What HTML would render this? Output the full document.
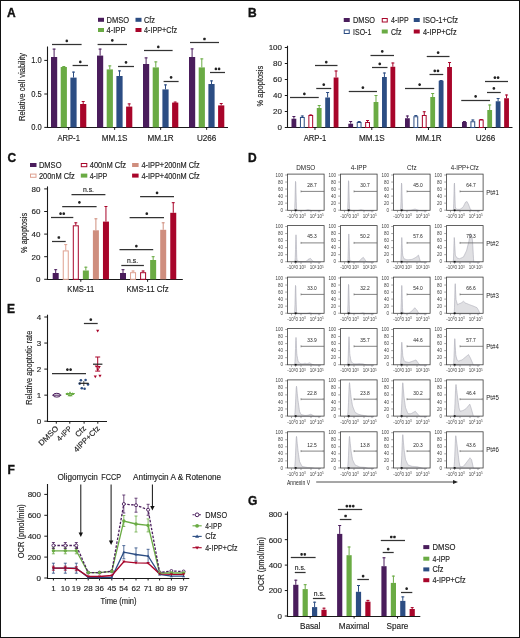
<!DOCTYPE html><html><head><meta charset="utf-8"><style>html,body{margin:0;padding:0;background:#fff;}svg{display:block;font-family:"Liberation Sans",sans-serif;will-change:transform;}</style></head><body>
<svg width="520" height="638" viewBox="0 0 520 638">
<rect x="0" y="0" width="520" height="638" fill="#fff"/>
<rect x="0.5" y="0.5" width="519" height="637" fill="none" stroke="#111" stroke-width="1"/>
<text x="7" y="16.6" font-size="12" font-weight="bold" fill="#111" stroke="#111" stroke-width="0.35">A</text>
<text x="248" y="17.0" font-size="12" font-weight="bold" fill="#111" stroke="#111" stroke-width="0.35">B</text>
<text x="7.5" y="162.2" font-size="12" font-weight="bold" fill="#111" stroke="#111" stroke-width="0.35">C</text>
<text x="248" y="162.2" font-size="12" font-weight="bold" fill="#111" stroke="#111" stroke-width="0.35">D</text>
<text x="7" y="313" font-size="12" font-weight="bold" fill="#111" stroke="#111" stroke-width="0.35">E</text>
<text x="7.4" y="474" font-size="12" font-weight="bold" fill="#111" stroke="#111" stroke-width="0.35">F</text>
<text x="248" y="505" font-size="12" font-weight="bold" fill="#111" stroke="#111" stroke-width="0.35">G</text>
<line x1="47.5" y1="46.5" x2="47.5" y2="128" stroke="#1a1a1a" stroke-width="1.1" />
<line x1="47" y1="127.5" x2="228" y2="127.5" stroke="#1a1a1a" stroke-width="1.1" />
<line x1="44.3" y1="60.4" x2="47.3" y2="60.4" stroke="#1a1a1a" stroke-width="1" />
<text x="41.8" y="63.47" font-size="8.3" text-anchor="end" fill="#222" font-weight="normal" textLength="10.5" lengthAdjust="spacingAndGlyphs" stroke="#222" stroke-width="0.14" >1.0</text>
<line x1="44.3" y1="94" x2="47.3" y2="94" stroke="#1a1a1a" stroke-width="1" />
<text x="41.8" y="97.07" font-size="8.3" text-anchor="end" fill="#222" font-weight="normal" textLength="10.5" lengthAdjust="spacingAndGlyphs" stroke="#222" stroke-width="0.14" >0.5</text>
<line x1="44.3" y1="127.4" x2="47.3" y2="127.4" stroke="#1a1a1a" stroke-width="1" />
<text x="41.8" y="130.47" font-size="8.3" text-anchor="end" fill="#222" font-weight="normal" textLength="10.5" lengthAdjust="spacingAndGlyphs" stroke="#222" stroke-width="0.14" >0.0</text>
<text x="0" y="0" font-size="8.2" text-anchor="middle" fill="#222" stroke="#222" stroke-width="0.14" textLength="68" lengthAdjust="spacingAndGlyphs" transform="translate(25.0,86.9) rotate(-90)">Relative cell viability</text>
<line x1="54.1" y1="48.6" x2="54.1" y2="57" stroke="#4a1d5c" stroke-width="1" />
<line x1="52.6" y1="49.1" x2="55.6" y2="49.1" stroke="#4a1d5c" stroke-width="1" />
<rect x="51.0" y="57" width="6.2" height="70.4" fill="#4a1d5c"/>
<line x1="63.800000000000004" y1="66" x2="63.800000000000004" y2="67" stroke="#6aab44" stroke-width="1" />
<line x1="62.300000000000004" y1="66.5" x2="65.30000000000001" y2="66.5" stroke="#6aab44" stroke-width="1" />
<rect x="60.7" y="67" width="6.2" height="60.400000000000006" fill="#6aab44"/>
<line x1="73.5" y1="71.6" x2="73.5" y2="77.6" stroke="#2c4d83" stroke-width="1" />
<line x1="72.0" y1="72.1" x2="75.0" y2="72.1" stroke="#2c4d83" stroke-width="1" />
<rect x="70.4" y="77.6" width="6.2" height="49.80000000000001" fill="#2c4d83"/>
<line x1="83.19999999999999" y1="101" x2="83.19999999999999" y2="104" stroke="#a8052a" stroke-width="1" />
<line x1="81.69999999999999" y1="101.5" x2="84.69999999999999" y2="101.5" stroke="#a8052a" stroke-width="1" />
<rect x="80.1" y="104" width="6.2" height="23.400000000000006" fill="#a8052a"/>
<line x1="68.65" y1="127.4" x2="68.65" y2="129.9" stroke="#1a1a1a" stroke-width="1" />
<text x="68.65" y="140.51" font-size="8.4" text-anchor="middle" fill="#222" font-weight="normal" textLength="22.5" lengthAdjust="spacingAndGlyphs" stroke="#222" stroke-width="0.14" >ARP-1</text>
<line x1="100.1" y1="48.6" x2="100.1" y2="55.6" stroke="#4a1d5c" stroke-width="1" />
<line x1="98.6" y1="49.1" x2="101.6" y2="49.1" stroke="#4a1d5c" stroke-width="1" />
<rect x="97.0" y="55.6" width="6.2" height="71.80000000000001" fill="#4a1d5c"/>
<line x1="109.8" y1="65.4" x2="109.8" y2="69.4" stroke="#6aab44" stroke-width="1" />
<line x1="108.3" y1="65.9" x2="111.3" y2="65.9" stroke="#6aab44" stroke-width="1" />
<rect x="106.7" y="69.4" width="6.2" height="58.0" fill="#6aab44"/>
<line x1="119.5" y1="70.4" x2="119.5" y2="76" stroke="#2c4d83" stroke-width="1" />
<line x1="118.0" y1="70.9" x2="121.0" y2="70.9" stroke="#2c4d83" stroke-width="1" />
<rect x="116.4" y="76" width="6.2" height="51.400000000000006" fill="#2c4d83"/>
<line x1="129.2" y1="103.4" x2="129.2" y2="106.6" stroke="#a8052a" stroke-width="1" />
<line x1="127.69999999999999" y1="103.9" x2="130.7" y2="103.9" stroke="#a8052a" stroke-width="1" />
<rect x="126.1" y="106.6" width="6.2" height="20.80000000000001" fill="#a8052a"/>
<line x1="114.65" y1="127.4" x2="114.65" y2="129.9" stroke="#1a1a1a" stroke-width="1" />
<text x="114.65" y="140.51" font-size="8.4" text-anchor="middle" fill="#222" font-weight="normal" textLength="25.8" lengthAdjust="spacingAndGlyphs" stroke="#222" stroke-width="0.14" >MM.1S</text>
<line x1="146.1" y1="57.4" x2="146.1" y2="64" stroke="#4a1d5c" stroke-width="1" />
<line x1="144.6" y1="57.9" x2="147.6" y2="57.9" stroke="#4a1d5c" stroke-width="1" />
<rect x="143.0" y="64" width="6.2" height="63.400000000000006" fill="#4a1d5c"/>
<line x1="155.79999999999998" y1="61.4" x2="155.79999999999998" y2="67.4" stroke="#6aab44" stroke-width="1" />
<line x1="154.29999999999998" y1="61.9" x2="157.29999999999998" y2="61.9" stroke="#6aab44" stroke-width="1" />
<rect x="152.7" y="67.4" width="6.2" height="60.0" fill="#6aab44"/>
<line x1="165.5" y1="84.4" x2="165.5" y2="89.4" stroke="#2c4d83" stroke-width="1" />
<line x1="164.0" y1="84.9" x2="167.0" y2="84.9" stroke="#2c4d83" stroke-width="1" />
<rect x="162.4" y="89.4" width="6.2" height="38.0" fill="#2c4d83"/>
<line x1="175.2" y1="101.6" x2="175.2" y2="102.6" stroke="#a8052a" stroke-width="1" />
<line x1="173.7" y1="102.1" x2="176.7" y2="102.1" stroke="#a8052a" stroke-width="1" />
<rect x="172.1" y="102.6" width="6.2" height="24.80000000000001" fill="#a8052a"/>
<line x1="160.65" y1="127.4" x2="160.65" y2="129.9" stroke="#1a1a1a" stroke-width="1" />
<text x="160.65" y="140.51" font-size="8.4" text-anchor="middle" fill="#222" font-weight="normal" textLength="26.2" lengthAdjust="spacingAndGlyphs" stroke="#222" stroke-width="0.14" >MM.1R</text>
<line x1="192.1" y1="48.4" x2="192.1" y2="57" stroke="#4a1d5c" stroke-width="1" />
<line x1="190.6" y1="48.9" x2="193.6" y2="48.9" stroke="#4a1d5c" stroke-width="1" />
<rect x="189.0" y="57" width="6.2" height="70.4" fill="#4a1d5c"/>
<line x1="201.79999999999998" y1="58.4" x2="201.79999999999998" y2="67.4" stroke="#6aab44" stroke-width="1" />
<line x1="200.29999999999998" y1="58.9" x2="203.29999999999998" y2="58.9" stroke="#6aab44" stroke-width="1" />
<rect x="198.7" y="67.4" width="6.2" height="60.0" fill="#6aab44"/>
<line x1="211.5" y1="80.4" x2="211.5" y2="84" stroke="#2c4d83" stroke-width="1" />
<line x1="210.0" y1="80.9" x2="213.0" y2="80.9" stroke="#2c4d83" stroke-width="1" />
<rect x="208.4" y="84" width="6.2" height="43.400000000000006" fill="#2c4d83"/>
<line x1="221.2" y1="103" x2="221.2" y2="105.4" stroke="#a8052a" stroke-width="1" />
<line x1="219.7" y1="103.5" x2="222.7" y2="103.5" stroke="#a8052a" stroke-width="1" />
<rect x="218.1" y="105.4" width="6.2" height="22.0" fill="#a8052a"/>
<line x1="206.65" y1="127.4" x2="206.65" y2="129.9" stroke="#1a1a1a" stroke-width="1" />
<text x="206.65" y="140.51" font-size="8.4" text-anchor="middle" fill="#222" font-weight="normal" textLength="19.5" lengthAdjust="spacingAndGlyphs" stroke="#222" stroke-width="0.14" >U266</text>
<line x1="52" y1="44.5" x2="81.6" y2="44.5" stroke="#333" stroke-width="1.25" />
<path d="M66.80,39.45 L66.80,42.15 M65.63,40.12 L67.97,41.47 M67.97,40.12 L65.63,41.47 " stroke="#222" stroke-width="1.1" fill="none"/>
<line x1="72.6" y1="65.5" x2="88" y2="65.5" stroke="#333" stroke-width="1.25" />
<path d="M80.30,60.45 L80.30,63.15 M79.13,61.13 L81.47,62.48 M81.47,61.13 L79.13,62.48 " stroke="#222" stroke-width="1.1" fill="none"/>
<line x1="97.6" y1="44.5" x2="127" y2="44.5" stroke="#333" stroke-width="1.25" />
<path d="M112.30,39.05 L112.30,41.75 M111.13,39.73 L113.47,41.07 M113.47,39.73 L111.13,41.07 " stroke="#222" stroke-width="1.1" fill="none"/>
<line x1="118" y1="66.5" x2="134" y2="66.5" stroke="#333" stroke-width="1.25" />
<path d="M126.00,61.05 L126.00,63.75 M124.83,61.73 L127.17,63.07 M127.17,61.73 L124.83,63.07 " stroke="#222" stroke-width="1.1" fill="none"/>
<line x1="144" y1="50.5" x2="172.6" y2="50.5" stroke="#333" stroke-width="1.25" />
<path d="M158.30,45.45 L158.30,48.15 M157.13,46.12 L159.47,47.47 M159.47,46.12 L157.13,47.47 " stroke="#222" stroke-width="1.1" fill="none"/>
<line x1="163.6" y1="81.5" x2="178.6" y2="81.5" stroke="#333" stroke-width="1.25" />
<path d="M171.10,76.05 L171.10,78.75 M169.93,76.73 L172.27,78.08 M172.27,76.73 L169.93,78.08 " stroke="#222" stroke-width="1.1" fill="none"/>
<line x1="190" y1="42.5" x2="219" y2="42.5" stroke="#333" stroke-width="1.25" />
<path d="M204.50,37.65 L204.50,40.35 M203.33,38.33 L205.67,39.67 M205.67,38.33 L203.33,39.67 " stroke="#222" stroke-width="1.1" fill="none"/>
<line x1="210" y1="72.5" x2="225" y2="72.5" stroke="#333" stroke-width="1.25" />
<path d="M215.90,67.45 L215.90,70.15 M214.73,68.13 L217.07,69.48 M217.07,68.13 L214.73,69.48 " stroke="#222" stroke-width="1.1" fill="none"/>
<path d="M219.10,67.45 L219.10,70.15 M217.93,68.13 L220.27,69.48 M220.27,68.13 L217.93,69.48 " stroke="#222" stroke-width="1.1" fill="none"/>
<rect x="98" y="17.8" width="6" height="4" fill="#4a1d5c"/>
<text x="106.5" y="22.81" font-size="8.4" text-anchor="start" fill="#222" font-weight="normal" textLength="22.5" lengthAdjust="spacingAndGlyphs" stroke="#222" stroke-width="0.14" >DMSO</text>
<rect x="98" y="28" width="6" height="4" fill="#6aab44"/>
<text x="106.5" y="33.01" font-size="8.4" text-anchor="start" fill="#222" font-weight="normal" textLength="19" lengthAdjust="spacingAndGlyphs" stroke="#222" stroke-width="0.14" >4-IPP</text>
<rect x="135.5" y="17.8" width="6" height="4" fill="#2c4d83"/>
<text x="144.0" y="22.81" font-size="8.4" text-anchor="start" fill="#222" font-weight="normal" textLength="11" lengthAdjust="spacingAndGlyphs" stroke="#222" stroke-width="0.14" >Cfz</text>
<rect x="135.5" y="28" width="6" height="4" fill="#a8052a"/>
<text x="144.0" y="33.01" font-size="8.4" text-anchor="start" fill="#222" font-weight="normal" textLength="33" lengthAdjust="spacingAndGlyphs" stroke="#222" stroke-width="0.14" >4-IPP+Cfz</text>
<line x1="287.5" y1="45.75" x2="287.5" y2="128" stroke="#1a1a1a" stroke-width="1.1" />
<line x1="287" y1="127.5" x2="512.5" y2="127.5" stroke="#1a1a1a" stroke-width="1.1" />
<line x1="284.8" y1="127.5" x2="287.8" y2="127.5" stroke="#1a1a1a" stroke-width="1" />
<text x="282" y="130.36" font-size="8" text-anchor="end" fill="#222" font-weight="normal" stroke="#222" stroke-width="0.14" >0</text>
<line x1="284.8" y1="111.5" x2="287.8" y2="111.5" stroke="#1a1a1a" stroke-width="1" />
<text x="282" y="114.36" font-size="8" text-anchor="end" fill="#222" font-weight="normal" stroke="#222" stroke-width="0.14" >20</text>
<line x1="284.8" y1="95.5" x2="287.8" y2="95.5" stroke="#1a1a1a" stroke-width="1" />
<text x="282" y="98.36" font-size="8" text-anchor="end" fill="#222" font-weight="normal" stroke="#222" stroke-width="0.14" >40</text>
<line x1="284.8" y1="79.5" x2="287.8" y2="79.5" stroke="#1a1a1a" stroke-width="1" />
<text x="282" y="82.36" font-size="8" text-anchor="end" fill="#222" font-weight="normal" stroke="#222" stroke-width="0.14" >60</text>
<line x1="284.8" y1="63.5" x2="287.8" y2="63.5" stroke="#1a1a1a" stroke-width="1" />
<text x="282" y="66.36" font-size="8" text-anchor="end" fill="#222" font-weight="normal" stroke="#222" stroke-width="0.14" >80</text>
<line x1="284.8" y1="47.5" x2="287.8" y2="47.5" stroke="#1a1a1a" stroke-width="1" />
<text x="282" y="50.36" font-size="8" text-anchor="end" fill="#222" font-weight="normal" stroke="#222" stroke-width="0.14" >100</text>
<text x="0" y="0" font-size="8.2" text-anchor="middle" fill="#222" stroke="#222" stroke-width="0.14" textLength="40.6" lengthAdjust="spacingAndGlyphs" transform="translate(262.5,86.1) rotate(-90)">% apoptosis</text>
<line x1="293.9" y1="116" x2="293.9" y2="118.75" stroke="#4a1d5c" stroke-width="1" />
<line x1="292.4" y1="116.5" x2="295.4" y2="116.5" stroke="#4a1d5c" stroke-width="1" />
<rect x="291.5" y="118.75" width="4.8" height="8.75" fill="#4a1d5c"/>
<line x1="302.33" y1="115.5" x2="302.33" y2="117" stroke="#2c4d83" stroke-width="1" />
<line x1="300.83" y1="116.0" x2="303.83" y2="116.0" stroke="#2c4d83" stroke-width="1" />
<rect x="300.43" y="117.5" width="3.8" height="10.0" fill="#fff" stroke="#2c4d83" stroke-width="1"/>
<line x1="310.76" y1="114.5" x2="310.76" y2="115" stroke="#a8052a" stroke-width="1" />
<line x1="309.26" y1="115.0" x2="312.26" y2="115.0" stroke="#a8052a" stroke-width="1" />
<rect x="308.86" y="115.5" width="3.8" height="12.0" fill="#fff" stroke="#a8052a" stroke-width="1"/>
<line x1="319.19" y1="105" x2="319.19" y2="108" stroke="#6aab44" stroke-width="1" />
<line x1="317.69" y1="105.5" x2="320.69" y2="105.5" stroke="#6aab44" stroke-width="1" />
<rect x="316.79" y="108" width="4.8" height="19.5" fill="#6aab44"/>
<line x1="327.62" y1="92" x2="327.62" y2="97.5" stroke="#2c4d83" stroke-width="1" />
<line x1="326.12" y1="92.5" x2="329.12" y2="92.5" stroke="#2c4d83" stroke-width="1" />
<rect x="325.22" y="97.5" width="4.8" height="30.0" fill="#2c4d83"/>
<line x1="336.04999999999995" y1="70.5" x2="336.04999999999995" y2="77.5" stroke="#a8052a" stroke-width="1" />
<line x1="334.54999999999995" y1="71.0" x2="337.54999999999995" y2="71.0" stroke="#a8052a" stroke-width="1" />
<rect x="333.65" y="77.5" width="4.8" height="50.0" fill="#a8052a"/>
<line x1="314.97499999999997" y1="127.5" x2="314.97499999999997" y2="130.0" stroke="#1a1a1a" stroke-width="1" />
<text x="314.97499999999997" y="140.51" font-size="8.4" text-anchor="middle" fill="#222" font-weight="normal" textLength="22.5" lengthAdjust="spacingAndGlyphs" stroke="#222" stroke-width="0.14" >ARP-1</text>
<line x1="350.7" y1="121" x2="350.7" y2="123.75" stroke="#4a1d5c" stroke-width="1" />
<line x1="349.2" y1="121.5" x2="352.2" y2="121.5" stroke="#4a1d5c" stroke-width="1" />
<rect x="348.3" y="123.75" width="4.8" height="3.75" fill="#4a1d5c"/>
<line x1="359.13" y1="121" x2="359.13" y2="122" stroke="#2c4d83" stroke-width="1" />
<line x1="357.63" y1="121.5" x2="360.63" y2="121.5" stroke="#2c4d83" stroke-width="1" />
<rect x="357.23" y="122.5" width="3.8" height="5.0" fill="#fff" stroke="#2c4d83" stroke-width="1"/>
<line x1="367.56" y1="120" x2="367.56" y2="122" stroke="#a8052a" stroke-width="1" />
<line x1="366.06" y1="120.5" x2="369.06" y2="120.5" stroke="#a8052a" stroke-width="1" />
<rect x="365.66" y="122.5" width="3.8" height="5.0" fill="#fff" stroke="#a8052a" stroke-width="1"/>
<line x1="375.99" y1="95" x2="375.99" y2="102" stroke="#6aab44" stroke-width="1" />
<line x1="374.49" y1="95.5" x2="377.49" y2="95.5" stroke="#6aab44" stroke-width="1" />
<rect x="373.59000000000003" y="102" width="4.8" height="25.5" fill="#6aab44"/>
<line x1="384.41999999999996" y1="72.5" x2="384.41999999999996" y2="77" stroke="#2c4d83" stroke-width="1" />
<line x1="382.91999999999996" y1="73.0" x2="385.91999999999996" y2="73.0" stroke="#2c4d83" stroke-width="1" />
<rect x="382.02" y="77" width="4.8" height="50.5" fill="#2c4d83"/>
<line x1="392.84999999999997" y1="62.5" x2="392.84999999999997" y2="66.75" stroke="#a8052a" stroke-width="1" />
<line x1="391.34999999999997" y1="63.0" x2="394.34999999999997" y2="63.0" stroke="#a8052a" stroke-width="1" />
<rect x="390.45" y="66.75" width="4.8" height="60.75" fill="#a8052a"/>
<line x1="371.775" y1="127.5" x2="371.775" y2="130.0" stroke="#1a1a1a" stroke-width="1" />
<text x="371.775" y="140.51" font-size="8.4" text-anchor="middle" fill="#222" font-weight="normal" textLength="25.8" lengthAdjust="spacingAndGlyphs" stroke="#222" stroke-width="0.14" >MM.1S</text>
<line x1="407.4" y1="115.5" x2="407.4" y2="118.25" stroke="#4a1d5c" stroke-width="1" />
<line x1="405.9" y1="116.0" x2="408.9" y2="116.0" stroke="#4a1d5c" stroke-width="1" />
<rect x="405.0" y="118.25" width="4.8" height="9.25" fill="#4a1d5c"/>
<line x1="415.83" y1="115" x2="415.83" y2="116.25" stroke="#2c4d83" stroke-width="1" />
<line x1="414.33" y1="115.5" x2="417.33" y2="115.5" stroke="#2c4d83" stroke-width="1" />
<rect x="413.93" y="116.75" width="3.8" height="10.75" fill="#fff" stroke="#2c4d83" stroke-width="1"/>
<line x1="424.26" y1="111.25" x2="424.26" y2="115" stroke="#a8052a" stroke-width="1" />
<line x1="422.76" y1="111.75" x2="425.76" y2="111.75" stroke="#a8052a" stroke-width="1" />
<rect x="422.36" y="115.5" width="3.8" height="12.0" fill="#fff" stroke="#a8052a" stroke-width="1"/>
<line x1="432.69" y1="93" x2="432.69" y2="97" stroke="#6aab44" stroke-width="1" />
<line x1="431.19" y1="93.5" x2="434.19" y2="93.5" stroke="#6aab44" stroke-width="1" />
<rect x="430.29" y="97" width="4.8" height="30.5" fill="#6aab44"/>
<line x1="441.12" y1="80" x2="441.12" y2="80.75" stroke="#2c4d83" stroke-width="1" />
<line x1="439.62" y1="80.5" x2="442.62" y2="80.5" stroke="#2c4d83" stroke-width="1" />
<rect x="438.72" y="80.75" width="4.8" height="46.75" fill="#2c4d83"/>
<line x1="449.54999999999995" y1="62" x2="449.54999999999995" y2="67" stroke="#a8052a" stroke-width="1" />
<line x1="448.04999999999995" y1="62.5" x2="451.04999999999995" y2="62.5" stroke="#a8052a" stroke-width="1" />
<rect x="447.15" y="67" width="4.8" height="60.5" fill="#a8052a"/>
<line x1="428.47499999999997" y1="127.5" x2="428.47499999999997" y2="130.0" stroke="#1a1a1a" stroke-width="1" />
<text x="428.47499999999997" y="140.51" font-size="8.4" text-anchor="middle" fill="#222" font-weight="normal" textLength="26.2" lengthAdjust="spacingAndGlyphs" stroke="#222" stroke-width="0.14" >MM.1R</text>
<line x1="464.4" y1="121" x2="464.4" y2="122" stroke="#4a1d5c" stroke-width="1" />
<line x1="462.9" y1="121.5" x2="465.9" y2="121.5" stroke="#4a1d5c" stroke-width="1" />
<rect x="462.0" y="122" width="4.8" height="5.5" fill="#4a1d5c"/>
<line x1="472.83" y1="119.5" x2="472.83" y2="121.25" stroke="#2c4d83" stroke-width="1" />
<line x1="471.33" y1="120.0" x2="474.33" y2="120.0" stroke="#2c4d83" stroke-width="1" />
<rect x="470.93" y="121.75" width="3.8" height="5.75" fill="#fff" stroke="#2c4d83" stroke-width="1"/>
<line x1="481.26" y1="119" x2="481.26" y2="119.5" stroke="#a8052a" stroke-width="1" />
<line x1="479.76" y1="119.5" x2="482.76" y2="119.5" stroke="#a8052a" stroke-width="1" />
<rect x="479.36" y="120.0" width="3.8" height="7.5" fill="#fff" stroke="#a8052a" stroke-width="1"/>
<line x1="489.69" y1="104.5" x2="489.69" y2="110" stroke="#6aab44" stroke-width="1" />
<line x1="488.19" y1="105.0" x2="491.19" y2="105.0" stroke="#6aab44" stroke-width="1" />
<rect x="487.29" y="110" width="4.8" height="17.5" fill="#6aab44"/>
<line x1="498.12" y1="98" x2="498.12" y2="101.25" stroke="#2c4d83" stroke-width="1" />
<line x1="496.62" y1="98.5" x2="499.62" y2="98.5" stroke="#2c4d83" stroke-width="1" />
<rect x="495.72" y="101.25" width="4.8" height="26.25" fill="#2c4d83"/>
<line x1="506.54999999999995" y1="94.5" x2="506.54999999999995" y2="98.25" stroke="#a8052a" stroke-width="1" />
<line x1="505.04999999999995" y1="95.0" x2="508.04999999999995" y2="95.0" stroke="#a8052a" stroke-width="1" />
<rect x="504.15" y="98.25" width="4.8" height="29.25" fill="#a8052a"/>
<line x1="485.47499999999997" y1="127.5" x2="485.47499999999997" y2="130.0" stroke="#1a1a1a" stroke-width="1" />
<text x="485.47499999999997" y="140.51" font-size="8.4" text-anchor="middle" fill="#222" font-weight="normal" textLength="19.5" lengthAdjust="spacingAndGlyphs" stroke="#222" stroke-width="0.14" >U266</text>
<line x1="290" y1="97.5" x2="318.75" y2="97.5" stroke="#333" stroke-width="1.25" />
<path d="M304.38,92.55 L304.38,95.25 M303.21,93.23 L305.54,94.58 M305.54,93.23 L303.21,94.58 " stroke="#222" stroke-width="1.1" fill="none"/>
<line x1="316.25" y1="88.5" x2="331.25" y2="88.5" stroke="#333" stroke-width="1.25" />
<path d="M323.75,83.30 L323.75,86.00 M322.58,83.98 L324.92,85.33 M324.92,83.98 L322.58,85.33 " stroke="#222" stroke-width="1.1" fill="none"/>
<line x1="315" y1="65.5" x2="337.5" y2="65.5" stroke="#333" stroke-width="1.25" />
<path d="M326.25,60.80 L326.25,63.50 M325.08,61.48 L327.42,62.82 M327.42,61.48 L325.08,62.82 " stroke="#222" stroke-width="1.1" fill="none"/>
<line x1="348.75" y1="91.5" x2="377" y2="91.5" stroke="#333" stroke-width="1.25" />
<path d="M362.88,86.30 L362.88,89.00 M361.71,86.98 L364.04,88.33 M364.04,86.98 L361.71,88.33 " stroke="#222" stroke-width="1.1" fill="none"/>
<line x1="372" y1="67.5" x2="387.5" y2="67.5" stroke="#333" stroke-width="1.25" />
<path d="M379.75,62.55 L379.75,65.25 M378.58,63.23 L380.92,64.58 M380.92,63.23 L378.58,64.58 " stroke="#222" stroke-width="1.1" fill="none"/>
<line x1="370.5" y1="55.5" x2="394" y2="55.5" stroke="#333" stroke-width="1.25" />
<path d="M382.25,50.05 L382.25,52.75 M381.08,50.73 L383.42,52.07 M383.42,50.73 L381.08,52.07 " stroke="#222" stroke-width="1.1" fill="none"/>
<line x1="405" y1="88.5" x2="434.25" y2="88.5" stroke="#333" stroke-width="1.25" />
<path d="M419.62,83.30 L419.62,86.00 M418.46,83.98 L420.79,85.33 M420.79,83.98 L418.46,85.33 " stroke="#222" stroke-width="1.1" fill="none"/>
<line x1="429.5" y1="74.5" x2="443.25" y2="74.5" stroke="#333" stroke-width="1.25" />
<path d="M434.77,69.55 L434.77,72.25 M433.61,70.23 L435.94,71.58 M435.94,70.23 L433.61,71.58 " stroke="#222" stroke-width="1.1" fill="none"/>
<path d="M437.98,69.55 L437.98,72.25 M436.81,70.23 L439.14,71.58 M439.14,70.23 L436.81,71.58 " stroke="#222" stroke-width="1.1" fill="none"/>
<line x1="426.75" y1="56.5" x2="449.5" y2="56.5" stroke="#333" stroke-width="1.25" />
<path d="M438.12,51.30 L438.12,54.00 M436.96,51.98 L439.29,53.32 M439.29,51.98 L436.96,53.32 " stroke="#222" stroke-width="1.1" fill="none"/>
<line x1="461.25" y1="100.5" x2="490" y2="100.5" stroke="#333" stroke-width="1.25" />
<path d="M475.62,95.05 L475.62,97.75 M474.46,95.73 L476.79,97.08 M476.79,95.73 L474.46,97.08 " stroke="#222" stroke-width="1.1" fill="none"/>
<line x1="487" y1="92.5" x2="500.75" y2="92.5" stroke="#333" stroke-width="1.25" />
<path d="M493.88,87.05 L493.88,89.75 M492.71,87.73 L495.04,89.08 M495.04,87.73 L492.71,89.08 " stroke="#222" stroke-width="1.1" fill="none"/>
<line x1="485" y1="81.5" x2="508" y2="81.5" stroke="#333" stroke-width="1.25" />
<path d="M494.90,76.30 L494.90,79.00 M493.73,76.98 L496.07,78.33 M496.07,76.98 L493.73,78.33 " stroke="#222" stroke-width="1.1" fill="none"/>
<path d="M498.10,76.30 L498.10,79.00 M496.93,76.98 L499.27,78.33 M499.27,76.98 L496.93,78.33 " stroke="#222" stroke-width="1.1" fill="none"/>
<rect x="343.75" y="18" width="6" height="4" fill="#4a1d5c"/>
<text x="353.05" y="23.01" font-size="8.4" text-anchor="start" fill="#222" font-weight="normal" textLength="22" lengthAdjust="spacingAndGlyphs" stroke="#222" stroke-width="0.14" >DMSO</text>
<rect x="344.25" y="30.0" width="5" height="3.5" fill="#fff" stroke="#2c4d83" stroke-width="1"/>
<text x="353.05" y="34.51" font-size="8.4" text-anchor="start" fill="#222" font-weight="normal" textLength="18.25" lengthAdjust="spacingAndGlyphs" stroke="#222" stroke-width="0.14" >ISO-1</text>
<rect x="382.25" y="18.5" width="5" height="3.5" fill="#fff" stroke="#a8052a" stroke-width="1"/>
<text x="391.05" y="23.01" font-size="8.4" text-anchor="start" fill="#222" font-weight="normal" textLength="17.5" lengthAdjust="spacingAndGlyphs" stroke="#222" stroke-width="0.14" >4-IPP</text>
<rect x="381.75" y="29.5" width="6" height="4" fill="#6aab44"/>
<text x="391.05" y="34.51" font-size="8.4" text-anchor="start" fill="#222" font-weight="normal" textLength="10.5" lengthAdjust="spacingAndGlyphs" stroke="#222" stroke-width="0.14" >Cfz</text>
<rect x="413.75" y="18" width="6" height="4" fill="#2c4d83"/>
<text x="423.05" y="23.01" font-size="8.4" text-anchor="start" fill="#222" font-weight="normal" textLength="35" lengthAdjust="spacingAndGlyphs" stroke="#222" stroke-width="0.14" >ISO-1+Cfz</text>
<rect x="413.75" y="29.5" width="6" height="4" fill="#a8052a"/>
<text x="423.05" y="34.51" font-size="8.4" text-anchor="start" fill="#222" font-weight="normal" textLength="33.5" lengthAdjust="spacingAndGlyphs" stroke="#222" stroke-width="0.14" >4-IPP+Cfz</text>
<line x1="47.5" y1="186.4" x2="47.5" y2="280" stroke="#1a1a1a" stroke-width="1.1" />
<line x1="47" y1="279.5" x2="182.8" y2="279.5" stroke="#1a1a1a" stroke-width="1.1" />
<line x1="44.2" y1="279.3" x2="47.2" y2="279.3" stroke="#1a1a1a" stroke-width="1" />
<text x="40.5" y="282.16" font-size="8" text-anchor="end" fill="#222" font-weight="normal" stroke="#222" stroke-width="0.14" >0</text>
<line x1="44.2" y1="256.7" x2="47.2" y2="256.7" stroke="#1a1a1a" stroke-width="1" />
<text x="40.5" y="259.56" font-size="8" text-anchor="end" fill="#222" font-weight="normal" stroke="#222" stroke-width="0.14" >20</text>
<line x1="44.2" y1="234.10000000000002" x2="47.2" y2="234.10000000000002" stroke="#1a1a1a" stroke-width="1" />
<text x="40.5" y="236.96" font-size="8" text-anchor="end" fill="#222" font-weight="normal" stroke="#222" stroke-width="0.14" >40</text>
<line x1="44.2" y1="211.5" x2="47.2" y2="211.5" stroke="#1a1a1a" stroke-width="1" />
<text x="40.5" y="214.36" font-size="8" text-anchor="end" fill="#222" font-weight="normal" stroke="#222" stroke-width="0.14" >60</text>
<line x1="44.2" y1="188.9" x2="47.2" y2="188.9" stroke="#1a1a1a" stroke-width="1" />
<text x="40.5" y="191.76" font-size="8" text-anchor="end" fill="#222" font-weight="normal" stroke="#222" stroke-width="0.14" >80</text>
<text x="0" y="0" font-size="8.2" text-anchor="middle" fill="#222" stroke="#222" stroke-width="0.14" textLength="40" lengthAdjust="spacingAndGlyphs" transform="translate(26.5,232.9) rotate(-90)">% apoptosis</text>
<line x1="55.7" y1="269.2" x2="55.7" y2="273" stroke="#4a1d5c" stroke-width="1" />
<line x1="54.2" y1="269.7" x2="57.2" y2="269.7" stroke="#4a1d5c" stroke-width="1" />
<rect x="52.7" y="273" width="6" height="6.300000000000011" fill="#4a1d5c"/>
<line x1="65.75" y1="244.1" x2="65.75" y2="250.4" stroke="#dea090" stroke-width="1" />
<line x1="64.25" y1="244.6" x2="67.25" y2="244.6" stroke="#dea090" stroke-width="1" />
<rect x="63.25" y="250.9" width="5" height="28.400000000000006" fill="#fff" stroke="#dea090" stroke-width="1"/>
<line x1="75.80000000000001" y1="222.3" x2="75.80000000000001" y2="225.3" stroke="#a8052a" stroke-width="1" />
<line x1="74.30000000000001" y1="222.8" x2="77.30000000000001" y2="222.8" stroke="#a8052a" stroke-width="1" />
<rect x="73.30000000000001" y="225.8" width="5" height="53.5" fill="#fff" stroke="#a8052a" stroke-width="1"/>
<line x1="85.85000000000001" y1="266.7" x2="85.85000000000001" y2="270.5" stroke="#6aab44" stroke-width="1" />
<line x1="84.35000000000001" y1="267.2" x2="87.35000000000001" y2="267.2" stroke="#6aab44" stroke-width="1" />
<rect x="82.85000000000001" y="270.5" width="6" height="8.800000000000011" fill="#6aab44"/>
<line x1="95.9" y1="218.3" x2="95.9" y2="230.3" stroke="#cf8e7e" stroke-width="1" />
<line x1="94.4" y1="218.8" x2="97.4" y2="218.8" stroke="#cf8e7e" stroke-width="1" />
<rect x="92.9" y="230.3" width="6" height="49.0" fill="#cf8e7e"/>
<line x1="105.95" y1="206" x2="105.95" y2="221.6" stroke="#a8052a" stroke-width="1" />
<line x1="104.45" y1="206.5" x2="107.45" y2="206.5" stroke="#a8052a" stroke-width="1" />
<rect x="102.95" y="221.6" width="6" height="57.70000000000002" fill="#a8052a"/>
<line x1="80.8" y1="279.3" x2="80.8" y2="281.8" stroke="#1a1a1a" stroke-width="1" />
<text x="80.8" y="291.94" font-size="8.2" text-anchor="middle" fill="#222" font-weight="normal" textLength="27" lengthAdjust="spacingAndGlyphs" stroke="#222" stroke-width="0.14" >KMS-11</text>
<line x1="123.0" y1="269.2" x2="123.0" y2="273" stroke="#4a1d5c" stroke-width="1" />
<line x1="121.5" y1="269.7" x2="124.5" y2="269.7" stroke="#4a1d5c" stroke-width="1" />
<rect x="120.0" y="273" width="6" height="6.300000000000011" fill="#4a1d5c"/>
<line x1="133.05" y1="270.5" x2="133.05" y2="272.2" stroke="#dea090" stroke-width="1" />
<line x1="131.55" y1="271.0" x2="134.55" y2="271.0" stroke="#dea090" stroke-width="1" />
<rect x="130.55" y="272.7" width="5" height="6.600000000000023" fill="#fff" stroke="#dea090" stroke-width="1"/>
<line x1="143.1" y1="270.5" x2="143.1" y2="272.2" stroke="#a8052a" stroke-width="1" />
<line x1="141.6" y1="271.0" x2="144.6" y2="271.0" stroke="#a8052a" stroke-width="1" />
<rect x="140.6" y="272.7" width="5" height="6.600000000000023" fill="#fff" stroke="#a8052a" stroke-width="1"/>
<line x1="153.15" y1="256.2" x2="153.15" y2="260" stroke="#6aab44" stroke-width="1" />
<line x1="151.65" y1="256.7" x2="154.65" y2="256.7" stroke="#6aab44" stroke-width="1" />
<rect x="150.15" y="260" width="6" height="19.30000000000001" fill="#6aab44"/>
<line x1="163.2" y1="222.3" x2="163.2" y2="229.8" stroke="#cf8e7e" stroke-width="1" />
<line x1="161.7" y1="222.8" x2="164.7" y2="222.8" stroke="#cf8e7e" stroke-width="1" />
<rect x="160.2" y="229.8" width="6" height="49.5" fill="#cf8e7e"/>
<line x1="173.25" y1="202.2" x2="173.25" y2="212.8" stroke="#a8052a" stroke-width="1" />
<line x1="171.75" y1="202.7" x2="174.75" y2="202.7" stroke="#a8052a" stroke-width="1" />
<rect x="170.25" y="212.8" width="6" height="66.5" fill="#a8052a"/>
<line x1="147.6" y1="279.3" x2="147.6" y2="281.8" stroke="#1a1a1a" stroke-width="1" />
<text x="147.6" y="291.94" font-size="8.2" text-anchor="middle" fill="#222" font-weight="normal" textLength="42" lengthAdjust="spacingAndGlyphs" stroke="#222" stroke-width="0.14" >KMS-11 Cfz</text>
<line x1="52" y1="241.5" x2="65.7" y2="241.5" stroke="#333" stroke-width="1.25" />
<path d="M58.85,236.15 L58.85,238.85 M57.68,236.82 L60.02,238.18 M60.02,236.82 L57.68,238.18 " stroke="#222" stroke-width="1.1" fill="none"/>
<line x1="51" y1="217.5" x2="73.3" y2="217.5" stroke="#333" stroke-width="1.25" />
<path d="M60.55,212.35 L60.55,215.05 M59.38,213.03 L61.72,214.38 M61.72,213.03 L59.38,214.38 " stroke="#222" stroke-width="1.1" fill="none"/>
<path d="M63.75,212.35 L63.75,215.05 M62.58,213.03 L64.92,214.38 M64.92,213.03 L62.58,214.38 " stroke="#222" stroke-width="1.1" fill="none"/>
<line x1="62.2" y1="206.5" x2="96.6" y2="206.5" stroke="#333" stroke-width="1.25" />
<path d="M79.40,201.05 L79.40,203.75 M78.23,201.72 L80.57,203.08 M80.57,201.72 L78.23,203.08 " stroke="#222" stroke-width="1.1" fill="none"/>
<line x1="71.5" y1="194.5" x2="105.4" y2="194.5" stroke="#333" stroke-width="1.25" />
<text x="88.45" y="192.1" font-size="7.5" text-anchor="middle" fill="#222" font-weight="normal" textLength="11" lengthAdjust="spacingAndGlyphs" stroke="#222" stroke-width="0.14" >n.s.</text>
<line x1="121.3" y1="265.5" x2="143.9" y2="265.5" stroke="#333" stroke-width="1.25" />
<text x="132.6" y="263.1" font-size="7.5" text-anchor="middle" fill="#222" font-weight="normal" textLength="11" lengthAdjust="spacingAndGlyphs" stroke="#222" stroke-width="0.14" >n.s.</text>
<line x1="119.5" y1="249.5" x2="153.2" y2="249.5" stroke="#333" stroke-width="1.25" />
<path d="M136.35,244.75 L136.35,247.45 M135.18,245.42 L137.52,246.78 M137.52,245.42 L135.18,246.78 " stroke="#222" stroke-width="1.1" fill="none"/>
<line x1="129.6" y1="217.5" x2="164" y2="217.5" stroke="#333" stroke-width="1.25" />
<path d="M146.80,212.35 L146.80,215.05 M145.63,213.03 L147.97,214.38 M147.97,213.03 L145.63,214.38 " stroke="#222" stroke-width="1.1" fill="none"/>
<line x1="140.1" y1="196.5" x2="174" y2="196.5" stroke="#333" stroke-width="1.25" />
<path d="M157.05,191.55 L157.05,194.25 M155.88,192.22 L158.22,193.58 M158.22,192.22 L155.88,193.58 " stroke="#222" stroke-width="1.1" fill="none"/>
<rect x="30" y="163.0" width="6.5" height="4" fill="#4a1d5c"/>
<text x="38.9" y="168.01" font-size="8.4" text-anchor="start" fill="#222" font-weight="normal" textLength="22.6" lengthAdjust="spacingAndGlyphs" stroke="#222" stroke-width="0.14" >DMSO</text>
<rect x="30.5" y="174.1" width="5.5" height="3.2" fill="#fff" stroke="#dea090" stroke-width="1"/>
<text x="38.9" y="178.61" font-size="8.4" text-anchor="start" fill="#222" font-weight="normal" textLength="35.9" lengthAdjust="spacingAndGlyphs" stroke="#222" stroke-width="0.14" >200nM Cfz</text>
<rect x="81.3" y="163.5" width="5.5" height="3.2" fill="#fff" stroke="#a8052a" stroke-width="1"/>
<text x="89.7" y="168.01" font-size="8.4" text-anchor="start" fill="#222" font-weight="normal" textLength="36.4" lengthAdjust="spacingAndGlyphs" stroke="#222" stroke-width="0.14" >400nM Cfz</text>
<rect x="80.8" y="173.6" width="6.5" height="4" fill="#6aab44"/>
<text x="89.7" y="178.61" font-size="8.4" text-anchor="start" fill="#222" font-weight="normal" textLength="17.6" lengthAdjust="spacingAndGlyphs" stroke="#222" stroke-width="0.14" >4-IPP</text>
<rect x="132.1" y="163.0" width="6.5" height="4" fill="#cf8e7e"/>
<text x="141.4" y="168.01" font-size="8.4" text-anchor="start" fill="#222" font-weight="normal" textLength="58.4" lengthAdjust="spacingAndGlyphs" stroke="#222" stroke-width="0.14" >4-IPP+200nM Cfz</text>
<rect x="132.1" y="173.6" width="6.5" height="4" fill="#a8052a"/>
<text x="141.4" y="178.61" font-size="8.4" text-anchor="start" fill="#222" font-weight="normal" textLength="58.4" lengthAdjust="spacingAndGlyphs" stroke="#222" stroke-width="0.14" >4-IPP+400nM Cfz</text>
<text x="305.8" y="170.0" font-size="6.7" text-anchor="middle" fill="#222" font-weight="normal" textLength="19" lengthAdjust="spacingAndGlyphs" >DMSO</text>
<text x="358.8" y="170.0" font-size="6.7" text-anchor="middle" fill="#222" font-weight="normal" textLength="16" lengthAdjust="spacingAndGlyphs" >4-IPP</text>
<text x="411.8" y="170.0" font-size="6.7" text-anchor="middle" fill="#222" font-weight="normal" textLength="9.5" lengthAdjust="spacingAndGlyphs" >Cfz</text>
<text x="464.8" y="170.0" font-size="6.7" text-anchor="middle" fill="#222" font-weight="normal" textLength="28" lengthAdjust="spacingAndGlyphs" >4-IPP+Cfz</text>
<path d="M294.00,210.80 L294.00,210.79 L294.25,210.70 L294.50,210.11 L294.75,207.63 L295.00,200.95 L295.25,190.11 L295.50,181.39 L295.75,182.52 L296.00,192.39 L296.25,201.60 L296.50,208.39 L296.75,209.80 L297.00,209.87 L297.25,209.94 L297.50,210.01 L297.75,210.09 L298.00,210.16 L298.25,210.23 L298.50,210.30 L298.75,210.37 L299.00,210.44 L299.25,210.44 L299.50,210.44 L299.75,210.44 L300.00,210.44 L300.25,210.44 L300.50,210.44 L300.75,210.44 L301.00,210.44 L301.25,210.44 L301.50,210.44 L301.75,210.44 L302.00,210.44 L302.25,210.44 L302.50,210.44 L302.75,210.44 L303.00,210.44 L303.25,210.44 L303.50,210.44 L303.75,210.44 L304.00,210.44 L304.25,210.44 L304.50,210.44 L304.75,210.44 L305.00,210.44 L305.25,210.38 L305.50,210.32 L305.75,210.26 L306.00,210.21 L306.25,210.15 L306.50,210.09 L306.75,210.03 L307.00,209.97 L307.25,209.91 L307.50,209.85 L307.75,209.79 L308.00,209.73 L308.25,209.79 L308.50,209.85 L308.75,209.91 L309.00,209.97 L309.25,210.03 L309.50,210.09 L309.75,210.15 L310.00,210.21 L310.25,210.26 L310.50,210.32 L310.75,210.38 L311.00,210.44 L311.25,210.47 L311.50,210.49 L311.75,210.51 L312.00,210.53 L312.25,210.55 L312.50,210.58 L312.75,210.60 L313.00,210.62 L313.25,210.64 L313.50,210.67 L313.75,210.69 L314.00,210.71 L314.25,210.73 L314.50,210.76 L314.75,210.78 L315.00,210.80 L315.25,210.80 L315.50,210.80 L315.75,210.80 L316.00,210.80 L316.25,210.80 L316.50,210.80 L316.75,210.80 L317.00,210.80 L317.25,210.80 L317.50,210.80 L317.75,210.80 L318.00,210.80 L318.25,210.80 L318.50,210.80 L318.75,210.80 L319.00,210.80 L319.25,210.80 L319.50,210.80 L319.75,210.80 L320.00,210.80 L320.25,210.80 L320.50,210.80 L320.75,210.80 L321.00,210.80 L321.00,210.80 Z" fill="#e0e0e3" stroke="#a8a8b4" stroke-width="0.6"/>
<rect x="287.5" y="174.1" width="36.6" height="36.2" fill="none" stroke="#3c3c3c" stroke-width="0.8"/>
<line x1="285.2" y1="210.20000000000002" x2="287" y2="210.20000000000002" stroke="#666" stroke-width="0.6" />
<text x="283.0" y="211.81" font-size="4.5" text-anchor="end" fill="#444" font-weight="normal" >0</text>
<line x1="285.2" y1="203.16000000000003" x2="287" y2="203.16000000000003" stroke="#666" stroke-width="0.6" />
<text x="283.0" y="204.77" font-size="4.5" text-anchor="end" fill="#444" font-weight="normal" >20</text>
<line x1="285.2" y1="196.12" x2="287" y2="196.12" stroke="#666" stroke-width="0.6" />
<text x="283.0" y="197.73" font-size="4.5" text-anchor="end" fill="#444" font-weight="normal" >40</text>
<line x1="285.2" y1="189.08" x2="287" y2="189.08" stroke="#666" stroke-width="0.6" />
<text x="283.0" y="190.69" font-size="4.5" text-anchor="end" fill="#444" font-weight="normal" >60</text>
<line x1="285.2" y1="182.04000000000002" x2="287" y2="182.04000000000002" stroke="#666" stroke-width="0.6" />
<text x="283.0" y="183.65" font-size="4.5" text-anchor="end" fill="#444" font-weight="normal" >80</text>
<line x1="285.2" y1="175.0" x2="287" y2="175.0" stroke="#666" stroke-width="0.6" />
<text x="283.0" y="176.61" font-size="4.5" text-anchor="end" fill="#444" font-weight="normal" >100</text>
<text y="217.8" font-size="4.5" fill="#444"><tspan x="287.3">-10</tspan><tspan font-size="3.0" dy="-1.7">3</tspan><tspan x="295.4" dy="1.7">0</tspan><tspan x="299.0">10</tspan><tspan font-size="3.0" dy="-1.7">3</tspan><tspan x="309.7" dy="1.7">10</tspan><tspan font-size="3.0" dy="-1.7">4</tspan><tspan x="317.1" dy="1.7">10</tspan><tspan font-size="3.0" dy="-1.7">5</tspan></text>
<rect x="294.8" y="209.4" width="1.8" height="1.6" fill="#111"/>
<line x1="291.5" y1="210.8" x2="291.5" y2="212.3" stroke="#444" stroke-width="0.5" />
<line x1="295.6" y1="210.8" x2="295.6" y2="212.3" stroke="#444" stroke-width="0.5" />
<line x1="301" y1="210.8" x2="301" y2="212.3" stroke="#444" stroke-width="0.5" />
<line x1="311" y1="210.8" x2="311" y2="212.3" stroke="#444" stroke-width="0.5" />
<line x1="319" y1="210.8" x2="319" y2="212.3" stroke="#444" stroke-width="0.5" />
<line x1="301" y1="191.4" x2="324.1" y2="191.4" stroke="#666" stroke-width="0.8" />
<line x1="301" y1="190.4" x2="301" y2="192.4" stroke="#666" stroke-width="0.6" />
<text x="312" y="186.99" font-size="5" text-anchor="middle" fill="#222" font-weight="normal" textLength="9.5" lengthAdjust="spacingAndGlyphs" >28.7</text>
<path d="M347.00,210.80 L347.00,210.79 L347.25,210.70 L347.50,210.09 L347.75,207.55 L348.00,200.72 L348.25,189.62 L348.50,180.70 L348.75,181.85 L349.00,191.96 L349.25,201.40 L349.50,208.33 L349.75,209.80 L350.00,209.87 L350.25,209.94 L350.50,210.01 L350.75,210.09 L351.00,210.16 L351.25,210.23 L351.50,210.30 L351.75,210.37 L352.00,210.44 L352.25,210.44 L352.50,210.44 L352.75,210.44 L353.00,210.44 L353.25,210.44 L353.50,210.44 L353.75,210.44 L354.00,210.44 L354.25,210.44 L354.50,210.44 L354.75,210.44 L355.00,210.44 L355.25,210.44 L355.50,210.44 L355.75,210.44 L356.00,210.44 L356.25,210.44 L356.50,210.44 L356.75,210.44 L357.00,210.44 L357.25,210.44 L357.50,210.44 L357.75,210.44 L358.00,210.44 L358.25,210.38 L358.50,210.32 L358.75,210.26 L359.00,210.21 L359.25,210.15 L359.50,210.09 L359.75,210.03 L360.00,209.97 L360.25,209.91 L360.50,209.85 L360.75,209.79 L361.00,209.73 L361.25,209.79 L361.50,209.85 L361.75,209.91 L362.00,209.97 L362.25,210.03 L362.50,210.09 L362.75,210.15 L363.00,210.21 L363.25,210.26 L363.50,210.32 L363.75,210.38 L364.00,210.44 L364.25,210.47 L364.50,210.49 L364.75,210.51 L365.00,210.53 L365.25,210.55 L365.50,210.58 L365.75,210.60 L366.00,210.62 L366.25,210.64 L366.50,210.67 L366.75,210.69 L367.00,210.71 L367.25,210.73 L367.50,210.76 L367.75,210.78 L368.00,210.80 L368.25,210.80 L368.50,210.80 L368.75,210.80 L369.00,210.80 L369.25,210.80 L369.50,210.80 L369.75,210.80 L370.00,210.80 L370.25,210.80 L370.50,210.80 L370.75,210.80 L371.00,210.80 L371.25,210.80 L371.50,210.80 L371.75,210.80 L372.00,210.80 L372.25,210.80 L372.50,210.80 L372.75,210.80 L373.00,210.80 L373.25,210.80 L373.50,210.80 L373.75,210.80 L374.00,210.80 L374.00,210.80 Z" fill="#e0e0e3" stroke="#a8a8b4" stroke-width="0.6"/>
<rect x="340.5" y="174.1" width="36.6" height="36.2" fill="none" stroke="#3c3c3c" stroke-width="0.8"/>
<line x1="338.2" y1="210.20000000000002" x2="340" y2="210.20000000000002" stroke="#666" stroke-width="0.6" />
<text x="336.0" y="211.81" font-size="4.5" text-anchor="end" fill="#444" font-weight="normal" >0</text>
<line x1="338.2" y1="203.16000000000003" x2="340" y2="203.16000000000003" stroke="#666" stroke-width="0.6" />
<text x="336.0" y="204.77" font-size="4.5" text-anchor="end" fill="#444" font-weight="normal" >20</text>
<line x1="338.2" y1="196.12" x2="340" y2="196.12" stroke="#666" stroke-width="0.6" />
<text x="336.0" y="197.73" font-size="4.5" text-anchor="end" fill="#444" font-weight="normal" >40</text>
<line x1="338.2" y1="189.08" x2="340" y2="189.08" stroke="#666" stroke-width="0.6" />
<text x="336.0" y="190.69" font-size="4.5" text-anchor="end" fill="#444" font-weight="normal" >60</text>
<line x1="338.2" y1="182.04000000000002" x2="340" y2="182.04000000000002" stroke="#666" stroke-width="0.6" />
<text x="336.0" y="183.65" font-size="4.5" text-anchor="end" fill="#444" font-weight="normal" >80</text>
<line x1="338.2" y1="175.0" x2="340" y2="175.0" stroke="#666" stroke-width="0.6" />
<text x="336.0" y="176.61" font-size="4.5" text-anchor="end" fill="#444" font-weight="normal" >100</text>
<text y="217.8" font-size="4.5" fill="#444"><tspan x="340.3">-10</tspan><tspan font-size="3.0" dy="-1.7">3</tspan><tspan x="348.4" dy="1.7">0</tspan><tspan x="352.0">10</tspan><tspan font-size="3.0" dy="-1.7">3</tspan><tspan x="362.7" dy="1.7">10</tspan><tspan font-size="3.0" dy="-1.7">4</tspan><tspan x="370.1" dy="1.7">10</tspan><tspan font-size="3.0" dy="-1.7">5</tspan></text>
<rect x="347.8" y="209.4" width="1.8" height="1.6" fill="#111"/>
<line x1="344.5" y1="210.8" x2="344.5" y2="212.3" stroke="#444" stroke-width="0.5" />
<line x1="348.6" y1="210.8" x2="348.6" y2="212.3" stroke="#444" stroke-width="0.5" />
<line x1="354" y1="210.8" x2="354" y2="212.3" stroke="#444" stroke-width="0.5" />
<line x1="364" y1="210.8" x2="364" y2="212.3" stroke="#444" stroke-width="0.5" />
<line x1="372" y1="210.8" x2="372" y2="212.3" stroke="#444" stroke-width="0.5" />
<line x1="354" y1="191.4" x2="377.1" y2="191.4" stroke="#666" stroke-width="0.8" />
<line x1="354" y1="190.4" x2="354" y2="192.4" stroke="#666" stroke-width="0.6" />
<text x="365" y="186.99" font-size="5" text-anchor="middle" fill="#222" font-weight="normal" textLength="9.5" lengthAdjust="spacingAndGlyphs" >30.7</text>
<path d="M400.00,210.80 L400.00,210.79 L400.25,210.70 L400.50,210.15 L400.75,207.81 L401.00,201.53 L401.25,191.32 L401.50,183.12 L401.75,184.18 L402.00,193.48 L402.25,202.09 L402.50,208.53 L402.75,209.80 L403.00,209.87 L403.25,209.94 L403.50,210.01 L403.75,210.09 L404.00,210.16 L404.25,210.23 L404.50,210.30 L404.75,210.37 L405.00,210.44 L405.25,210.43 L405.50,210.41 L405.75,210.40 L406.00,210.38 L406.25,210.37 L406.50,210.35 L406.75,210.34 L407.00,210.32 L407.25,210.31 L407.50,210.29 L407.75,210.28 L408.00,210.26 L408.25,210.25 L408.50,210.23 L408.75,210.22 L409.00,210.21 L409.25,210.19 L409.50,210.18 L409.75,210.16 L410.00,210.15 L410.25,210.13 L410.50,210.12 L410.75,210.10 L411.00,210.09 L411.25,210.02 L411.50,209.95 L411.75,209.89 L412.00,209.82 L412.25,209.75 L412.50,209.68 L412.75,209.62 L413.00,209.55 L413.25,209.48 L413.50,209.42 L413.75,209.35 L414.00,209.28 L414.25,209.22 L414.50,209.15 L414.75,209.08 L415.00,209.02 L415.25,209.10 L415.50,209.19 L415.75,209.28 L416.00,209.37 L416.25,209.46 L416.50,209.55 L416.75,209.64 L417.00,209.73 L417.25,209.82 L417.50,209.91 L417.75,210.00 L418.00,210.09 L418.25,210.18 L418.50,210.26 L418.75,210.35 L419.00,210.44 L419.25,210.47 L419.50,210.50 L419.75,210.53 L420.00,210.56 L420.25,210.59 L420.50,210.62 L420.75,210.65 L421.00,210.68 L421.25,210.71 L421.50,210.74 L421.75,210.77 L422.00,210.80 L422.25,210.80 L422.50,210.80 L422.75,210.80 L423.00,210.80 L423.25,210.80 L423.50,210.80 L423.75,210.80 L424.00,210.80 L424.25,210.80 L424.50,210.80 L424.75,210.80 L425.00,210.80 L425.25,210.80 L425.50,210.80 L425.75,210.80 L426.00,210.80 L426.25,210.80 L426.50,210.80 L426.75,210.80 L427.00,210.80 L427.00,210.80 Z" fill="#e0e0e3" stroke="#a8a8b4" stroke-width="0.6"/>
<rect x="393.5" y="174.1" width="36.6" height="36.2" fill="none" stroke="#3c3c3c" stroke-width="0.8"/>
<line x1="391.2" y1="210.20000000000002" x2="393" y2="210.20000000000002" stroke="#666" stroke-width="0.6" />
<text x="389.0" y="211.81" font-size="4.5" text-anchor="end" fill="#444" font-weight="normal" >0</text>
<line x1="391.2" y1="203.16000000000003" x2="393" y2="203.16000000000003" stroke="#666" stroke-width="0.6" />
<text x="389.0" y="204.77" font-size="4.5" text-anchor="end" fill="#444" font-weight="normal" >20</text>
<line x1="391.2" y1="196.12" x2="393" y2="196.12" stroke="#666" stroke-width="0.6" />
<text x="389.0" y="197.73" font-size="4.5" text-anchor="end" fill="#444" font-weight="normal" >40</text>
<line x1="391.2" y1="189.08" x2="393" y2="189.08" stroke="#666" stroke-width="0.6" />
<text x="389.0" y="190.69" font-size="4.5" text-anchor="end" fill="#444" font-weight="normal" >60</text>
<line x1="391.2" y1="182.04000000000002" x2="393" y2="182.04000000000002" stroke="#666" stroke-width="0.6" />
<text x="389.0" y="183.65" font-size="4.5" text-anchor="end" fill="#444" font-weight="normal" >80</text>
<line x1="391.2" y1="175.0" x2="393" y2="175.0" stroke="#666" stroke-width="0.6" />
<text x="389.0" y="176.61" font-size="4.5" text-anchor="end" fill="#444" font-weight="normal" >100</text>
<text y="217.8" font-size="4.5" fill="#444"><tspan x="393.3">-10</tspan><tspan font-size="3.0" dy="-1.7">3</tspan><tspan x="401.4" dy="1.7">0</tspan><tspan x="405.0">10</tspan><tspan font-size="3.0" dy="-1.7">3</tspan><tspan x="415.7" dy="1.7">10</tspan><tspan font-size="3.0" dy="-1.7">4</tspan><tspan x="423.1" dy="1.7">10</tspan><tspan font-size="3.0" dy="-1.7">5</tspan></text>
<rect x="400.8" y="209.4" width="1.8" height="1.6" fill="#111"/>
<line x1="397.5" y1="210.8" x2="397.5" y2="212.3" stroke="#444" stroke-width="0.5" />
<line x1="401.6" y1="210.8" x2="401.6" y2="212.3" stroke="#444" stroke-width="0.5" />
<line x1="407" y1="210.8" x2="407" y2="212.3" stroke="#444" stroke-width="0.5" />
<line x1="417" y1="210.8" x2="417" y2="212.3" stroke="#444" stroke-width="0.5" />
<line x1="425" y1="210.8" x2="425" y2="212.3" stroke="#444" stroke-width="0.5" />
<line x1="407" y1="191.4" x2="430.1" y2="191.4" stroke="#666" stroke-width="0.8" />
<line x1="407" y1="190.4" x2="407" y2="192.4" stroke="#666" stroke-width="0.6" />
<text x="418" y="186.99" font-size="5" text-anchor="middle" fill="#222" font-weight="normal" textLength="9.5" lengthAdjust="spacingAndGlyphs" >45.0</text>
<path d="M453.00,210.80 L453.00,210.74 L453.25,210.34 L453.50,208.53 L453.75,203.17 L454.00,193.48 L454.25,184.18 L454.50,183.12 L454.75,191.32 L455.00,199.38 L455.25,206.52 L455.50,208.11 L455.75,208.32 L456.00,208.53 L456.25,208.74 L456.50,208.95 L456.75,209.16 L457.00,209.37 L457.25,209.37 L457.50,209.37 L457.75,209.37 L458.00,209.37 L458.25,209.37 L458.50,209.37 L458.75,209.37 L459.00,209.37 L459.25,209.37 L459.50,209.37 L459.75,209.37 L460.00,209.37 L460.25,209.19 L460.50,209.02 L460.75,208.84 L461.00,208.66 L461.25,208.48 L461.50,208.30 L461.75,208.12 L462.00,207.94 L462.25,207.77 L462.50,207.59 L462.75,207.41 L463.00,207.23 L463.25,206.73 L463.50,206.23 L463.75,205.73 L464.00,205.23 L464.25,204.73 L464.50,204.23 L464.75,203.73 L465.00,203.23 L465.25,202.73 L465.50,202.23 L465.75,202.11 L466.00,201.99 L466.25,201.88 L466.50,201.76 L466.75,201.64 L467.00,201.52 L467.25,201.99 L467.50,202.47 L467.75,202.95 L468.00,203.42 L468.25,203.90 L468.50,204.37 L468.75,205.04 L469.00,205.71 L469.25,206.38 L469.50,207.05 L469.75,207.72 L470.00,208.39 L470.25,209.06 L470.50,209.73 L470.75,209.84 L471.00,209.94 L471.25,210.05 L471.50,210.16 L471.75,210.26 L472.00,210.37 L472.25,210.48 L472.50,210.59 L472.75,210.69 L473.00,210.80 L473.25,210.80 L473.50,210.80 L473.75,210.80 L474.00,210.80 L474.25,210.80 L474.50,210.80 L474.75,210.80 L475.00,210.80 L475.25,210.80 L475.50,210.80 L475.75,210.80 L476.00,210.80 L476.25,210.80 L476.50,210.80 L476.75,210.80 L477.00,210.80 L477.25,210.80 L477.50,210.80 L477.75,210.80 L478.00,210.80 L478.25,210.80 L478.50,210.80 L478.75,210.80 L479.00,210.80 L479.25,210.80 L479.50,210.80 L479.75,210.80 L480.00,210.80 L480.00,210.80 Z" fill="#e0e0e3" stroke="#a8a8b4" stroke-width="0.6"/>
<rect x="446.5" y="174.1" width="36.6" height="36.2" fill="none" stroke="#3c3c3c" stroke-width="0.8"/>
<line x1="444.2" y1="210.20000000000002" x2="446" y2="210.20000000000002" stroke="#666" stroke-width="0.6" />
<text x="442.0" y="211.81" font-size="4.5" text-anchor="end" fill="#444" font-weight="normal" >0</text>
<line x1="444.2" y1="203.16000000000003" x2="446" y2="203.16000000000003" stroke="#666" stroke-width="0.6" />
<text x="442.0" y="204.77" font-size="4.5" text-anchor="end" fill="#444" font-weight="normal" >20</text>
<line x1="444.2" y1="196.12" x2="446" y2="196.12" stroke="#666" stroke-width="0.6" />
<text x="442.0" y="197.73" font-size="4.5" text-anchor="end" fill="#444" font-weight="normal" >40</text>
<line x1="444.2" y1="189.08" x2="446" y2="189.08" stroke="#666" stroke-width="0.6" />
<text x="442.0" y="190.69" font-size="4.5" text-anchor="end" fill="#444" font-weight="normal" >60</text>
<line x1="444.2" y1="182.04000000000002" x2="446" y2="182.04000000000002" stroke="#666" stroke-width="0.6" />
<text x="442.0" y="183.65" font-size="4.5" text-anchor="end" fill="#444" font-weight="normal" >80</text>
<line x1="444.2" y1="175.0" x2="446" y2="175.0" stroke="#666" stroke-width="0.6" />
<text x="442.0" y="176.61" font-size="4.5" text-anchor="end" fill="#444" font-weight="normal" >100</text>
<text y="217.8" font-size="4.5" fill="#444"><tspan x="446.3">-10</tspan><tspan font-size="3.0" dy="-1.7">3</tspan><tspan x="454.4" dy="1.7">0</tspan><tspan x="458.0">10</tspan><tspan font-size="3.0" dy="-1.7">3</tspan><tspan x="468.7" dy="1.7">10</tspan><tspan font-size="3.0" dy="-1.7">4</tspan><tspan x="476.1" dy="1.7">10</tspan><tspan font-size="3.0" dy="-1.7">5</tspan></text>
<rect x="453.8" y="209.4" width="1.8" height="1.6" fill="#111"/>
<line x1="450.5" y1="210.8" x2="450.5" y2="212.3" stroke="#444" stroke-width="0.5" />
<line x1="454.6" y1="210.8" x2="454.6" y2="212.3" stroke="#444" stroke-width="0.5" />
<line x1="460" y1="210.8" x2="460" y2="212.3" stroke="#444" stroke-width="0.5" />
<line x1="470" y1="210.8" x2="470" y2="212.3" stroke="#444" stroke-width="0.5" />
<line x1="478" y1="210.8" x2="478" y2="212.3" stroke="#444" stroke-width="0.5" />
<line x1="460" y1="191.4" x2="483.1" y2="191.4" stroke="#666" stroke-width="0.8" />
<line x1="460" y1="190.4" x2="460" y2="192.4" stroke="#666" stroke-width="0.6" />
<text x="471" y="186.99" font-size="5" text-anchor="middle" fill="#222" font-weight="normal" textLength="9.5" lengthAdjust="spacingAndGlyphs" >64.7</text>
<text x="486.3" y="194.57" font-size="6.9" text-anchor="start" fill="#222" font-weight="normal" textLength="12.5" lengthAdjust="spacingAndGlyphs" >Pt#1</text>
<path d="M294.00,262.30 L294.00,262.30 L294.25,262.30 L294.50,262.28 L294.75,262.09 L295.00,261.09 L295.25,257.56 L295.50,249.71 L295.75,239.69 L296.00,234.81 L296.25,239.69 L296.50,249.71 L296.75,257.56 L297.00,260.40 L297.25,260.54 L297.50,260.69 L297.75,260.84 L298.00,260.99 L298.25,261.14 L298.50,261.29 L298.75,261.44 L299.00,261.59 L299.25,261.59 L299.50,261.59 L299.75,261.59 L300.00,261.59 L300.25,261.59 L300.50,261.59 L300.75,261.59 L301.00,261.59 L301.25,261.59 L301.50,261.59 L301.75,261.59 L302.00,261.59 L302.25,261.59 L302.50,261.59 L302.75,261.59 L303.00,261.59 L303.25,261.59 L303.50,261.59 L303.75,261.59 L304.00,261.59 L304.25,261.59 L304.50,261.59 L304.75,261.59 L305.00,261.59 L305.25,261.59 L305.50,261.59 L305.75,261.59 L306.00,261.59 L306.25,261.32 L306.50,261.05 L306.75,260.78 L307.00,260.51 L307.25,260.25 L307.50,259.98 L307.75,259.71 L308.00,259.44 L308.25,259.33 L308.50,259.22 L308.75,259.11 L309.00,259.00 L309.25,258.89 L309.50,258.77 L309.75,258.66 L310.00,258.55 L310.25,258.44 L310.50,258.48 L310.75,258.76 L311.00,259.03 L311.25,259.31 L311.50,259.58 L311.75,259.86 L312.00,260.13 L312.25,260.41 L312.50,260.68 L312.75,260.95 L313.00,261.23 L313.25,261.36 L313.50,261.50 L313.75,261.63 L314.00,261.76 L314.25,261.90 L314.50,262.03 L314.75,262.17 L315.00,262.30 L315.25,262.30 L315.50,262.30 L315.75,262.30 L316.00,262.30 L316.25,262.30 L316.50,262.30 L316.75,262.30 L317.00,262.30 L317.25,262.30 L317.50,262.30 L317.75,262.30 L318.00,262.30 L318.25,262.30 L318.50,262.30 L318.75,262.30 L319.00,262.30 L319.25,262.30 L319.50,262.30 L319.75,262.30 L320.00,262.30 L320.25,262.30 L320.50,262.30 L320.75,262.30 L321.00,262.30 L321.00,262.30 Z" fill="#e0e0e3" stroke="#a8a8b4" stroke-width="0.6"/>
<rect x="287.5" y="225.6" width="36.6" height="36.2" fill="none" stroke="#3c3c3c" stroke-width="0.8"/>
<line x1="285.2" y1="261.7" x2="287" y2="261.7" stroke="#666" stroke-width="0.6" />
<text x="283.0" y="263.31" font-size="4.5" text-anchor="end" fill="#444" font-weight="normal" >0</text>
<line x1="285.2" y1="254.66" x2="287" y2="254.66" stroke="#666" stroke-width="0.6" />
<text x="283.0" y="256.27" font-size="4.5" text-anchor="end" fill="#444" font-weight="normal" >20</text>
<line x1="285.2" y1="247.61999999999998" x2="287" y2="247.61999999999998" stroke="#666" stroke-width="0.6" />
<text x="283.0" y="249.23" font-size="4.5" text-anchor="end" fill="#444" font-weight="normal" >40</text>
<line x1="285.2" y1="240.57999999999998" x2="287" y2="240.57999999999998" stroke="#666" stroke-width="0.6" />
<text x="283.0" y="242.19" font-size="4.5" text-anchor="end" fill="#444" font-weight="normal" >60</text>
<line x1="285.2" y1="233.54" x2="287" y2="233.54" stroke="#666" stroke-width="0.6" />
<text x="283.0" y="235.15" font-size="4.5" text-anchor="end" fill="#444" font-weight="normal" >80</text>
<line x1="285.2" y1="226.5" x2="287" y2="226.5" stroke="#666" stroke-width="0.6" />
<text x="283.0" y="228.11" font-size="4.5" text-anchor="end" fill="#444" font-weight="normal" >100</text>
<text y="269.3" font-size="4.5" fill="#444"><tspan x="287.3">-10</tspan><tspan font-size="3.0" dy="-1.7">3</tspan><tspan x="295.4" dy="1.7">0</tspan><tspan x="299.0">10</tspan><tspan font-size="3.0" dy="-1.7">3</tspan><tspan x="309.7" dy="1.7">10</tspan><tspan font-size="3.0" dy="-1.7">4</tspan><tspan x="317.1" dy="1.7">10</tspan><tspan font-size="3.0" dy="-1.7">5</tspan></text>
<rect x="294.8" y="260.90000000000003" width="1.8" height="1.6" fill="#111"/>
<line x1="291.5" y1="262.3" x2="291.5" y2="263.8" stroke="#444" stroke-width="0.5" />
<line x1="295.6" y1="262.3" x2="295.6" y2="263.8" stroke="#444" stroke-width="0.5" />
<line x1="301" y1="262.3" x2="301" y2="263.8" stroke="#444" stroke-width="0.5" />
<line x1="311" y1="262.3" x2="311" y2="263.8" stroke="#444" stroke-width="0.5" />
<line x1="319" y1="262.3" x2="319" y2="263.8" stroke="#444" stroke-width="0.5" />
<line x1="301" y1="242.9" x2="324.1" y2="242.9" stroke="#666" stroke-width="0.8" />
<line x1="301" y1="241.9" x2="301" y2="243.9" stroke="#666" stroke-width="0.6" />
<text x="312" y="238.49" font-size="5" text-anchor="middle" fill="#222" font-weight="normal" textLength="9.5" lengthAdjust="spacingAndGlyphs" >45.3</text>
<path d="M347.00,262.30 L347.00,262.30 L347.25,262.28 L347.50,262.15 L347.75,261.39 L348.00,258.43 L348.25,251.20 L348.50,240.74 L348.75,233.96 L349.00,237.10 L349.25,247.13 L349.50,256.12 L349.75,260.25 L350.00,260.40 L350.25,260.54 L350.50,260.69 L350.75,260.84 L351.00,260.99 L351.25,261.14 L351.50,261.29 L351.75,261.44 L352.00,261.59 L352.25,261.59 L352.50,261.59 L352.75,261.59 L353.00,261.59 L353.25,261.59 L353.50,261.59 L353.75,261.59 L354.00,261.59 L354.25,261.59 L354.50,261.59 L354.75,261.59 L355.00,261.59 L355.25,261.59 L355.50,261.59 L355.75,261.59 L356.00,261.59 L356.25,261.59 L356.50,261.59 L356.75,261.59 L357.00,261.59 L357.25,261.59 L357.50,261.59 L357.75,261.59 L358.00,261.59 L358.25,261.59 L358.50,261.59 L358.75,261.59 L359.00,261.59 L359.25,261.27 L359.50,260.96 L359.75,260.65 L360.00,260.34 L360.25,260.02 L360.50,259.71 L360.75,259.40 L361.00,259.09 L361.25,258.89 L361.50,258.70 L361.75,258.50 L362.00,258.31 L362.25,258.12 L362.50,257.92 L362.75,257.73 L363.00,257.53 L363.25,257.34 L363.50,257.59 L363.75,257.96 L364.00,258.32 L364.25,258.68 L364.50,259.05 L364.75,259.41 L365.00,259.77 L365.25,260.14 L365.50,260.50 L365.75,260.87 L366.00,261.23 L366.25,261.36 L366.50,261.50 L366.75,261.63 L367.00,261.76 L367.25,261.90 L367.50,262.03 L367.75,262.17 L368.00,262.30 L368.25,262.30 L368.50,262.30 L368.75,262.30 L369.00,262.30 L369.25,262.30 L369.50,262.30 L369.75,262.30 L370.00,262.30 L370.25,262.30 L370.50,262.30 L370.75,262.30 L371.00,262.30 L371.25,262.30 L371.50,262.30 L371.75,262.30 L372.00,262.30 L372.25,262.30 L372.50,262.30 L372.75,262.30 L373.00,262.30 L373.25,262.30 L373.50,262.30 L373.75,262.30 L374.00,262.30 L374.00,262.30 Z" fill="#e0e0e3" stroke="#a8a8b4" stroke-width="0.6"/>
<rect x="340.5" y="225.6" width="36.6" height="36.2" fill="none" stroke="#3c3c3c" stroke-width="0.8"/>
<line x1="338.2" y1="261.7" x2="340" y2="261.7" stroke="#666" stroke-width="0.6" />
<text x="336.0" y="263.31" font-size="4.5" text-anchor="end" fill="#444" font-weight="normal" >0</text>
<line x1="338.2" y1="254.66" x2="340" y2="254.66" stroke="#666" stroke-width="0.6" />
<text x="336.0" y="256.27" font-size="4.5" text-anchor="end" fill="#444" font-weight="normal" >20</text>
<line x1="338.2" y1="247.61999999999998" x2="340" y2="247.61999999999998" stroke="#666" stroke-width="0.6" />
<text x="336.0" y="249.23" font-size="4.5" text-anchor="end" fill="#444" font-weight="normal" >40</text>
<line x1="338.2" y1="240.57999999999998" x2="340" y2="240.57999999999998" stroke="#666" stroke-width="0.6" />
<text x="336.0" y="242.19" font-size="4.5" text-anchor="end" fill="#444" font-weight="normal" >60</text>
<line x1="338.2" y1="233.54" x2="340" y2="233.54" stroke="#666" stroke-width="0.6" />
<text x="336.0" y="235.15" font-size="4.5" text-anchor="end" fill="#444" font-weight="normal" >80</text>
<line x1="338.2" y1="226.5" x2="340" y2="226.5" stroke="#666" stroke-width="0.6" />
<text x="336.0" y="228.11" font-size="4.5" text-anchor="end" fill="#444" font-weight="normal" >100</text>
<text y="269.3" font-size="4.5" fill="#444"><tspan x="340.3">-10</tspan><tspan font-size="3.0" dy="-1.7">3</tspan><tspan x="348.4" dy="1.7">0</tspan><tspan x="352.0">10</tspan><tspan font-size="3.0" dy="-1.7">3</tspan><tspan x="362.7" dy="1.7">10</tspan><tspan font-size="3.0" dy="-1.7">4</tspan><tspan x="370.1" dy="1.7">10</tspan><tspan font-size="3.0" dy="-1.7">5</tspan></text>
<rect x="347.8" y="260.90000000000003" width="1.8" height="1.6" fill="#111"/>
<line x1="344.5" y1="262.3" x2="344.5" y2="263.8" stroke="#444" stroke-width="0.5" />
<line x1="348.6" y1="262.3" x2="348.6" y2="263.8" stroke="#444" stroke-width="0.5" />
<line x1="354" y1="262.3" x2="354" y2="263.8" stroke="#444" stroke-width="0.5" />
<line x1="364" y1="262.3" x2="364" y2="263.8" stroke="#444" stroke-width="0.5" />
<line x1="372" y1="262.3" x2="372" y2="263.8" stroke="#444" stroke-width="0.5" />
<line x1="354" y1="242.9" x2="377.1" y2="242.9" stroke="#666" stroke-width="0.8" />
<line x1="354" y1="241.9" x2="354" y2="243.9" stroke="#666" stroke-width="0.6" />
<text x="365" y="238.49" font-size="5" text-anchor="middle" fill="#222" font-weight="normal" textLength="9.5" lengthAdjust="spacingAndGlyphs" >50.2</text>
<path d="M400.00,262.30 L400.00,262.30 L400.25,262.29 L400.50,262.17 L400.75,261.50 L401.00,258.92 L401.25,252.59 L401.50,243.44 L401.75,237.50 L402.00,240.25 L402.25,247.35 L402.50,252.93 L402.75,255.54 L403.00,256.18 L403.25,256.82 L403.50,257.45 L403.75,258.09 L404.00,258.73 L404.25,258.82 L404.50,258.91 L404.75,259.00 L405.00,259.09 L405.25,259.18 L405.50,259.27 L405.75,259.35 L406.00,259.44 L406.25,259.53 L406.50,259.62 L406.75,259.71 L407.00,259.80 L407.25,259.78 L407.50,259.77 L407.75,259.75 L408.00,259.73 L408.25,259.71 L408.50,259.69 L408.75,259.68 L409.00,259.66 L409.25,259.64 L409.50,259.62 L409.75,259.60 L410.00,259.59 L410.25,259.57 L410.50,259.55 L410.75,259.53 L411.00,259.52 L411.25,259.50 L411.50,259.48 L411.75,259.46 L412.00,259.44 L412.25,259.31 L412.50,259.18 L412.75,259.04 L413.00,258.91 L413.25,258.77 L413.50,258.64 L413.75,258.51 L414.00,258.37 L414.25,258.24 L414.50,258.11 L414.75,257.97 L415.00,257.84 L415.25,257.70 L415.50,257.57 L415.75,257.44 L416.00,257.30 L416.25,257.09 L416.50,256.87 L416.75,256.66 L417.00,256.45 L417.25,256.23 L417.50,256.02 L417.75,255.80 L418.00,255.59 L418.25,255.37 L418.50,255.16 L418.75,256.05 L419.00,256.94 L419.25,257.84 L419.50,258.73 L419.75,259.62 L420.00,260.51 L420.25,260.96 L420.50,261.41 L420.75,261.85 L421.00,262.30 L421.25,262.30 L421.50,262.30 L421.75,262.30 L422.00,262.30 L422.25,262.30 L422.50,262.30 L422.75,262.30 L423.00,262.30 L423.25,262.30 L423.50,262.30 L423.75,262.30 L424.00,262.30 L424.25,262.30 L424.50,262.30 L424.75,262.30 L425.00,262.30 L425.25,262.30 L425.50,262.30 L425.75,262.30 L426.00,262.30 L426.25,262.30 L426.50,262.30 L426.75,262.30 L427.00,262.30 L427.00,262.30 Z" fill="#e0e0e3" stroke="#a8a8b4" stroke-width="0.6"/>
<rect x="393.5" y="225.6" width="36.6" height="36.2" fill="none" stroke="#3c3c3c" stroke-width="0.8"/>
<line x1="391.2" y1="261.7" x2="393" y2="261.7" stroke="#666" stroke-width="0.6" />
<text x="389.0" y="263.31" font-size="4.5" text-anchor="end" fill="#444" font-weight="normal" >0</text>
<line x1="391.2" y1="254.66" x2="393" y2="254.66" stroke="#666" stroke-width="0.6" />
<text x="389.0" y="256.27" font-size="4.5" text-anchor="end" fill="#444" font-weight="normal" >20</text>
<line x1="391.2" y1="247.61999999999998" x2="393" y2="247.61999999999998" stroke="#666" stroke-width="0.6" />
<text x="389.0" y="249.23" font-size="4.5" text-anchor="end" fill="#444" font-weight="normal" >40</text>
<line x1="391.2" y1="240.57999999999998" x2="393" y2="240.57999999999998" stroke="#666" stroke-width="0.6" />
<text x="389.0" y="242.19" font-size="4.5" text-anchor="end" fill="#444" font-weight="normal" >60</text>
<line x1="391.2" y1="233.54" x2="393" y2="233.54" stroke="#666" stroke-width="0.6" />
<text x="389.0" y="235.15" font-size="4.5" text-anchor="end" fill="#444" font-weight="normal" >80</text>
<line x1="391.2" y1="226.5" x2="393" y2="226.5" stroke="#666" stroke-width="0.6" />
<text x="389.0" y="228.11" font-size="4.5" text-anchor="end" fill="#444" font-weight="normal" >100</text>
<text y="269.3" font-size="4.5" fill="#444"><tspan x="393.3">-10</tspan><tspan font-size="3.0" dy="-1.7">3</tspan><tspan x="401.4" dy="1.7">0</tspan><tspan x="405.0">10</tspan><tspan font-size="3.0" dy="-1.7">3</tspan><tspan x="415.7" dy="1.7">10</tspan><tspan font-size="3.0" dy="-1.7">4</tspan><tspan x="423.1" dy="1.7">10</tspan><tspan font-size="3.0" dy="-1.7">5</tspan></text>
<rect x="400.8" y="260.90000000000003" width="1.8" height="1.6" fill="#111"/>
<line x1="397.5" y1="262.3" x2="397.5" y2="263.8" stroke="#444" stroke-width="0.5" />
<line x1="401.6" y1="262.3" x2="401.6" y2="263.8" stroke="#444" stroke-width="0.5" />
<line x1="407" y1="262.3" x2="407" y2="263.8" stroke="#444" stroke-width="0.5" />
<line x1="417" y1="262.3" x2="417" y2="263.8" stroke="#444" stroke-width="0.5" />
<line x1="425" y1="262.3" x2="425" y2="263.8" stroke="#444" stroke-width="0.5" />
<line x1="407" y1="242.9" x2="430.1" y2="242.9" stroke="#666" stroke-width="0.8" />
<line x1="407" y1="241.9" x2="407" y2="243.9" stroke="#666" stroke-width="0.6" />
<text x="418" y="238.49" font-size="5" text-anchor="middle" fill="#222" font-weight="normal" textLength="9.5" lengthAdjust="spacingAndGlyphs" >57.6</text>
<path d="M453.00,262.30 L453.00,262.17 L453.25,261.50 L453.50,258.92 L453.75,252.59 L454.00,243.44 L454.25,237.50 L454.50,240.25 L454.75,245.34 L455.00,249.81 L455.25,254.27 L455.50,255.50 L455.75,255.92 L456.00,256.34 L456.25,256.76 L456.50,257.18 L456.75,257.60 L457.00,258.02 L457.25,258.08 L457.50,258.15 L457.75,258.22 L458.00,258.29 L458.25,258.36 L458.50,258.43 L458.75,258.50 L459.00,258.57 L459.25,258.63 L459.50,258.70 L459.75,258.66 L460.00,258.55 L460.25,258.43 L460.50,258.32 L460.75,258.20 L461.00,258.09 L461.25,257.97 L461.50,257.86 L461.75,257.75 L462.00,257.63 L462.25,257.52 L462.50,257.40 L462.75,257.29 L463.00,257.17 L463.25,257.06 L463.50,256.94 L463.75,256.43 L464.00,255.91 L464.25,255.39 L464.50,254.87 L464.75,254.35 L465.00,253.84 L465.25,253.32 L465.50,252.80 L465.75,252.28 L466.00,251.76 L466.25,251.24 L466.50,250.73 L466.75,249.92 L467.00,248.91 L467.25,247.91 L467.50,246.90 L467.75,245.90 L468.00,244.90 L468.25,243.89 L468.50,242.89 L468.75,241.88 L469.00,240.88 L469.25,239.09 L469.50,237.31 L469.75,235.53 L470.00,233.74 L470.25,233.86 L470.50,233.98 L470.75,234.10 L471.00,234.22 L471.25,234.34 L471.50,234.45 L471.75,236.06 L472.00,237.67 L472.25,239.27 L472.50,240.88 L472.75,245.34 L473.00,249.81 L473.25,254.27 L473.50,258.73 L473.75,262.30 L474.00,262.30 L474.25,262.30 L474.50,262.30 L474.75,262.30 L475.00,262.30 L475.25,262.30 L475.50,262.30 L475.75,262.30 L476.00,262.30 L476.25,262.30 L476.50,262.30 L476.75,262.30 L477.00,262.30 L477.25,262.30 L477.50,262.30 L477.75,262.30 L478.00,262.30 L478.25,262.30 L478.50,262.30 L478.75,262.30 L479.00,262.30 L479.25,262.30 L479.50,262.30 L479.75,262.30 L480.00,262.30 L480.00,262.30 Z" fill="#e0e0e3" stroke="#a8a8b4" stroke-width="0.6"/>
<rect x="446.5" y="225.6" width="36.6" height="36.2" fill="none" stroke="#3c3c3c" stroke-width="0.8"/>
<line x1="444.2" y1="261.7" x2="446" y2="261.7" stroke="#666" stroke-width="0.6" />
<text x="442.0" y="263.31" font-size="4.5" text-anchor="end" fill="#444" font-weight="normal" >0</text>
<line x1="444.2" y1="254.66" x2="446" y2="254.66" stroke="#666" stroke-width="0.6" />
<text x="442.0" y="256.27" font-size="4.5" text-anchor="end" fill="#444" font-weight="normal" >20</text>
<line x1="444.2" y1="247.61999999999998" x2="446" y2="247.61999999999998" stroke="#666" stroke-width="0.6" />
<text x="442.0" y="249.23" font-size="4.5" text-anchor="end" fill="#444" font-weight="normal" >40</text>
<line x1="444.2" y1="240.57999999999998" x2="446" y2="240.57999999999998" stroke="#666" stroke-width="0.6" />
<text x="442.0" y="242.19" font-size="4.5" text-anchor="end" fill="#444" font-weight="normal" >60</text>
<line x1="444.2" y1="233.54" x2="446" y2="233.54" stroke="#666" stroke-width="0.6" />
<text x="442.0" y="235.15" font-size="4.5" text-anchor="end" fill="#444" font-weight="normal" >80</text>
<line x1="444.2" y1="226.5" x2="446" y2="226.5" stroke="#666" stroke-width="0.6" />
<text x="442.0" y="228.11" font-size="4.5" text-anchor="end" fill="#444" font-weight="normal" >100</text>
<text y="269.3" font-size="4.5" fill="#444"><tspan x="446.3">-10</tspan><tspan font-size="3.0" dy="-1.7">3</tspan><tspan x="454.4" dy="1.7">0</tspan><tspan x="458.0">10</tspan><tspan font-size="3.0" dy="-1.7">3</tspan><tspan x="468.7" dy="1.7">10</tspan><tspan font-size="3.0" dy="-1.7">4</tspan><tspan x="476.1" dy="1.7">10</tspan><tspan font-size="3.0" dy="-1.7">5</tspan></text>
<rect x="453.8" y="260.90000000000003" width="1.8" height="1.6" fill="#111"/>
<line x1="450.5" y1="262.3" x2="450.5" y2="263.8" stroke="#444" stroke-width="0.5" />
<line x1="454.6" y1="262.3" x2="454.6" y2="263.8" stroke="#444" stroke-width="0.5" />
<line x1="460" y1="262.3" x2="460" y2="263.8" stroke="#444" stroke-width="0.5" />
<line x1="470" y1="262.3" x2="470" y2="263.8" stroke="#444" stroke-width="0.5" />
<line x1="478" y1="262.3" x2="478" y2="263.8" stroke="#444" stroke-width="0.5" />
<line x1="460" y1="242.9" x2="483.1" y2="242.9" stroke="#666" stroke-width="0.8" />
<line x1="460" y1="241.9" x2="460" y2="243.9" stroke="#666" stroke-width="0.6" />
<text x="471" y="238.49" font-size="5" text-anchor="middle" fill="#222" font-weight="normal" textLength="9.5" lengthAdjust="spacingAndGlyphs" >79.3</text>
<text x="486.3" y="246.07" font-size="6.9" text-anchor="start" fill="#222" font-weight="normal" textLength="12.5" lengthAdjust="spacingAndGlyphs" >Pt#2</text>
<path d="M294.00,313.80 L294.00,313.79 L294.25,313.70 L294.50,313.13 L294.75,310.74 L295.00,304.30 L295.25,293.84 L295.50,285.43 L295.75,286.51 L296.00,296.04 L296.25,304.89 L296.50,311.47 L296.75,312.80 L297.00,312.87 L297.25,312.94 L297.50,313.01 L297.75,313.09 L298.00,313.16 L298.25,313.23 L298.50,313.30 L298.75,313.37 L299.00,313.44 L299.25,313.44 L299.50,313.44 L299.75,313.44 L300.00,313.44 L300.25,313.44 L300.50,313.44 L300.75,313.44 L301.00,313.44 L301.25,313.44 L301.50,313.44 L301.75,313.44 L302.00,313.44 L302.25,313.44 L302.50,313.44 L302.75,313.44 L303.00,313.44 L303.25,313.44 L303.50,313.44 L303.75,313.44 L304.00,313.44 L304.25,313.44 L304.50,313.44 L304.75,313.44 L305.00,313.44 L305.25,313.44 L305.50,313.44 L305.75,313.44 L306.00,313.44 L306.25,313.44 L306.50,313.44 L306.75,313.44 L307.00,313.44 L307.25,313.38 L307.50,313.32 L307.75,313.26 L308.00,313.20 L308.25,313.15 L308.50,313.09 L308.75,313.03 L309.00,312.97 L309.25,312.91 L309.50,312.85 L309.75,312.79 L310.00,312.73 L310.25,312.82 L310.50,312.91 L310.75,313.00 L311.00,313.09 L311.25,313.18 L311.50,313.26 L311.75,313.35 L312.00,313.44 L312.25,313.53 L312.50,313.62 L312.75,313.71 L313.00,313.80 L313.25,313.80 L313.50,313.80 L313.75,313.80 L314.00,313.80 L314.25,313.80 L314.50,313.80 L314.75,313.80 L315.00,313.80 L315.25,313.80 L315.50,313.80 L315.75,313.80 L316.00,313.80 L316.25,313.80 L316.50,313.80 L316.75,313.80 L317.00,313.80 L317.25,313.80 L317.50,313.80 L317.75,313.80 L318.00,313.80 L318.25,313.80 L318.50,313.80 L318.75,313.80 L319.00,313.80 L319.25,313.80 L319.50,313.80 L319.75,313.80 L320.00,313.80 L320.25,313.80 L320.50,313.80 L320.75,313.80 L321.00,313.80 L321.00,313.80 Z" fill="#e0e0e3" stroke="#a8a8b4" stroke-width="0.6"/>
<rect x="287.5" y="277.1" width="36.6" height="36.2" fill="none" stroke="#3c3c3c" stroke-width="0.8"/>
<line x1="285.2" y1="313.2" x2="287" y2="313.2" stroke="#666" stroke-width="0.6" />
<text x="283.0" y="314.81" font-size="4.5" text-anchor="end" fill="#444" font-weight="normal" >0</text>
<line x1="285.2" y1="306.15999999999997" x2="287" y2="306.15999999999997" stroke="#666" stroke-width="0.6" />
<text x="283.0" y="307.77" font-size="4.5" text-anchor="end" fill="#444" font-weight="normal" >20</text>
<line x1="285.2" y1="299.12" x2="287" y2="299.12" stroke="#666" stroke-width="0.6" />
<text x="283.0" y="300.73" font-size="4.5" text-anchor="end" fill="#444" font-weight="normal" >40</text>
<line x1="285.2" y1="292.08" x2="287" y2="292.08" stroke="#666" stroke-width="0.6" />
<text x="283.0" y="293.69" font-size="4.5" text-anchor="end" fill="#444" font-weight="normal" >60</text>
<line x1="285.2" y1="285.03999999999996" x2="287" y2="285.03999999999996" stroke="#666" stroke-width="0.6" />
<text x="283.0" y="286.65" font-size="4.5" text-anchor="end" fill="#444" font-weight="normal" >80</text>
<line x1="285.2" y1="278.0" x2="287" y2="278.0" stroke="#666" stroke-width="0.6" />
<text x="283.0" y="279.61" font-size="4.5" text-anchor="end" fill="#444" font-weight="normal" >100</text>
<text y="320.8" font-size="4.5" fill="#444"><tspan x="287.3">-10</tspan><tspan font-size="3.0" dy="-1.7">3</tspan><tspan x="295.4" dy="1.7">0</tspan><tspan x="299.0">10</tspan><tspan font-size="3.0" dy="-1.7">3</tspan><tspan x="309.7" dy="1.7">10</tspan><tspan font-size="3.0" dy="-1.7">4</tspan><tspan x="317.1" dy="1.7">10</tspan><tspan font-size="3.0" dy="-1.7">5</tspan></text>
<rect x="294.8" y="312.40000000000003" width="1.8" height="1.6" fill="#111"/>
<line x1="291.5" y1="313.8" x2="291.5" y2="315.3" stroke="#444" stroke-width="0.5" />
<line x1="295.6" y1="313.8" x2="295.6" y2="315.3" stroke="#444" stroke-width="0.5" />
<line x1="301" y1="313.8" x2="301" y2="315.3" stroke="#444" stroke-width="0.5" />
<line x1="311" y1="313.8" x2="311" y2="315.3" stroke="#444" stroke-width="0.5" />
<line x1="319" y1="313.8" x2="319" y2="315.3" stroke="#444" stroke-width="0.5" />
<line x1="301" y1="294.40000000000003" x2="324.1" y2="294.40000000000003" stroke="#666" stroke-width="0.8" />
<line x1="301" y1="293.40000000000003" x2="301" y2="295.40000000000003" stroke="#666" stroke-width="0.6" />
<text x="312" y="289.99" font-size="5" text-anchor="middle" fill="#222" font-weight="normal" textLength="9.5" lengthAdjust="spacingAndGlyphs" >33.0</text>
<path d="M347.00,313.80 L347.00,313.79 L347.25,313.70 L347.50,313.11 L347.75,310.63 L348.00,303.95 L348.25,293.11 L348.50,284.39 L348.75,285.52 L349.00,295.39 L349.25,304.60 L349.50,311.39 L349.75,312.80 L350.00,312.87 L350.25,312.94 L350.50,313.01 L350.75,313.09 L351.00,313.16 L351.25,313.23 L351.50,313.30 L351.75,313.37 L352.00,313.44 L352.25,313.44 L352.50,313.44 L352.75,313.44 L353.00,313.44 L353.25,313.44 L353.50,313.44 L353.75,313.44 L354.00,313.44 L354.25,313.44 L354.50,313.44 L354.75,313.44 L355.00,313.44 L355.25,313.44 L355.50,313.44 L355.75,313.44 L356.00,313.44 L356.25,313.44 L356.50,313.44 L356.75,313.44 L357.00,313.44 L357.25,313.44 L357.50,313.44 L357.75,313.44 L358.00,313.44 L358.25,313.44 L358.50,313.44 L358.75,313.44 L359.00,313.44 L359.25,313.44 L359.50,313.44 L359.75,313.44 L360.00,313.44 L360.25,313.38 L360.50,313.32 L360.75,313.26 L361.00,313.20 L361.25,313.15 L361.50,313.09 L361.75,313.03 L362.00,312.97 L362.25,312.91 L362.50,312.85 L362.75,312.79 L363.00,312.73 L363.25,312.82 L363.50,312.91 L363.75,313.00 L364.00,313.09 L364.25,313.18 L364.50,313.26 L364.75,313.35 L365.00,313.44 L365.25,313.53 L365.50,313.62 L365.75,313.71 L366.00,313.80 L366.25,313.80 L366.50,313.80 L366.75,313.80 L367.00,313.80 L367.25,313.80 L367.50,313.80 L367.75,313.80 L368.00,313.80 L368.25,313.80 L368.50,313.80 L368.75,313.80 L369.00,313.80 L369.25,313.80 L369.50,313.80 L369.75,313.80 L370.00,313.80 L370.25,313.80 L370.50,313.80 L370.75,313.80 L371.00,313.80 L371.25,313.80 L371.50,313.80 L371.75,313.80 L372.00,313.80 L372.25,313.80 L372.50,313.80 L372.75,313.80 L373.00,313.80 L373.25,313.80 L373.50,313.80 L373.75,313.80 L374.00,313.80 L374.00,313.80 Z" fill="#e0e0e3" stroke="#a8a8b4" stroke-width="0.6"/>
<rect x="340.5" y="277.1" width="36.6" height="36.2" fill="none" stroke="#3c3c3c" stroke-width="0.8"/>
<line x1="338.2" y1="313.2" x2="340" y2="313.2" stroke="#666" stroke-width="0.6" />
<text x="336.0" y="314.81" font-size="4.5" text-anchor="end" fill="#444" font-weight="normal" >0</text>
<line x1="338.2" y1="306.15999999999997" x2="340" y2="306.15999999999997" stroke="#666" stroke-width="0.6" />
<text x="336.0" y="307.77" font-size="4.5" text-anchor="end" fill="#444" font-weight="normal" >20</text>
<line x1="338.2" y1="299.12" x2="340" y2="299.12" stroke="#666" stroke-width="0.6" />
<text x="336.0" y="300.73" font-size="4.5" text-anchor="end" fill="#444" font-weight="normal" >40</text>
<line x1="338.2" y1="292.08" x2="340" y2="292.08" stroke="#666" stroke-width="0.6" />
<text x="336.0" y="293.69" font-size="4.5" text-anchor="end" fill="#444" font-weight="normal" >60</text>
<line x1="338.2" y1="285.03999999999996" x2="340" y2="285.03999999999996" stroke="#666" stroke-width="0.6" />
<text x="336.0" y="286.65" font-size="4.5" text-anchor="end" fill="#444" font-weight="normal" >80</text>
<line x1="338.2" y1="278.0" x2="340" y2="278.0" stroke="#666" stroke-width="0.6" />
<text x="336.0" y="279.61" font-size="4.5" text-anchor="end" fill="#444" font-weight="normal" >100</text>
<text y="320.8" font-size="4.5" fill="#444"><tspan x="340.3">-10</tspan><tspan font-size="3.0" dy="-1.7">3</tspan><tspan x="348.4" dy="1.7">0</tspan><tspan x="352.0">10</tspan><tspan font-size="3.0" dy="-1.7">3</tspan><tspan x="362.7" dy="1.7">10</tspan><tspan font-size="3.0" dy="-1.7">4</tspan><tspan x="370.1" dy="1.7">10</tspan><tspan font-size="3.0" dy="-1.7">5</tspan></text>
<rect x="347.8" y="312.40000000000003" width="1.8" height="1.6" fill="#111"/>
<line x1="344.5" y1="313.8" x2="344.5" y2="315.3" stroke="#444" stroke-width="0.5" />
<line x1="348.6" y1="313.8" x2="348.6" y2="315.3" stroke="#444" stroke-width="0.5" />
<line x1="354" y1="313.8" x2="354" y2="315.3" stroke="#444" stroke-width="0.5" />
<line x1="364" y1="313.8" x2="364" y2="315.3" stroke="#444" stroke-width="0.5" />
<line x1="372" y1="313.8" x2="372" y2="315.3" stroke="#444" stroke-width="0.5" />
<line x1="354" y1="294.40000000000003" x2="377.1" y2="294.40000000000003" stroke="#666" stroke-width="0.8" />
<line x1="354" y1="293.40000000000003" x2="354" y2="295.40000000000003" stroke="#666" stroke-width="0.6" />
<text x="365" y="289.99" font-size="5" text-anchor="middle" fill="#222" font-weight="normal" textLength="9.5" lengthAdjust="spacingAndGlyphs" >32.2</text>
<path d="M400.00,313.80 L400.00,313.80 L400.25,313.78 L400.50,313.65 L400.75,312.89 L401.00,309.93 L401.25,302.70 L401.50,292.24 L401.75,285.46 L402.00,288.60 L402.25,298.63 L402.50,307.62 L402.75,312.10 L403.00,312.30 L403.25,312.44 L403.50,312.59 L403.75,312.73 L404.00,312.87 L404.25,313.01 L404.50,313.16 L404.75,313.30 L405.00,313.44 L405.25,313.42 L405.50,313.40 L405.75,313.38 L406.00,313.35 L406.25,313.33 L406.50,313.31 L406.75,313.29 L407.00,313.26 L407.25,313.24 L407.50,313.22 L407.75,313.20 L408.00,313.18 L408.25,313.15 L408.50,313.13 L408.75,313.11 L409.00,313.09 L409.25,312.91 L409.50,312.73 L409.75,312.55 L410.00,312.37 L410.25,312.19 L410.50,312.01 L410.75,311.84 L411.00,311.66 L411.25,311.48 L411.50,311.30 L411.75,311.12 L412.00,310.94 L412.25,310.66 L412.50,310.37 L412.75,310.08 L413.00,309.80 L413.25,309.51 L413.50,309.22 L413.75,308.94 L414.00,308.65 L414.25,308.36 L414.50,308.08 L414.75,307.79 L415.00,307.96 L415.25,308.24 L415.50,308.53 L415.75,308.81 L416.00,309.09 L416.25,309.38 L416.50,309.66 L416.75,309.95 L417.00,310.23 L417.25,310.71 L417.50,311.18 L417.75,311.66 L418.00,312.13 L418.25,312.61 L418.50,313.09 L418.75,313.20 L419.00,313.32 L419.25,313.44 L419.50,313.56 L419.75,313.68 L420.00,313.80 L420.25,313.80 L420.50,313.80 L420.75,313.80 L421.00,313.80 L421.25,313.80 L421.50,313.80 L421.75,313.80 L422.00,313.80 L422.25,313.80 L422.50,313.80 L422.75,313.80 L423.00,313.80 L423.25,313.80 L423.50,313.80 L423.75,313.80 L424.00,313.80 L424.25,313.80 L424.50,313.80 L424.75,313.80 L425.00,313.80 L425.25,313.80 L425.50,313.80 L425.75,313.80 L426.00,313.80 L426.25,313.80 L426.50,313.80 L426.75,313.80 L427.00,313.80 L427.00,313.80 Z" fill="#e0e0e3" stroke="#a8a8b4" stroke-width="0.6"/>
<rect x="393.5" y="277.1" width="36.6" height="36.2" fill="none" stroke="#3c3c3c" stroke-width="0.8"/>
<line x1="391.2" y1="313.2" x2="393" y2="313.2" stroke="#666" stroke-width="0.6" />
<text x="389.0" y="314.81" font-size="4.5" text-anchor="end" fill="#444" font-weight="normal" >0</text>
<line x1="391.2" y1="306.15999999999997" x2="393" y2="306.15999999999997" stroke="#666" stroke-width="0.6" />
<text x="389.0" y="307.77" font-size="4.5" text-anchor="end" fill="#444" font-weight="normal" >20</text>
<line x1="391.2" y1="299.12" x2="393" y2="299.12" stroke="#666" stroke-width="0.6" />
<text x="389.0" y="300.73" font-size="4.5" text-anchor="end" fill="#444" font-weight="normal" >40</text>
<line x1="391.2" y1="292.08" x2="393" y2="292.08" stroke="#666" stroke-width="0.6" />
<text x="389.0" y="293.69" font-size="4.5" text-anchor="end" fill="#444" font-weight="normal" >60</text>
<line x1="391.2" y1="285.03999999999996" x2="393" y2="285.03999999999996" stroke="#666" stroke-width="0.6" />
<text x="389.0" y="286.65" font-size="4.5" text-anchor="end" fill="#444" font-weight="normal" >80</text>
<line x1="391.2" y1="278.0" x2="393" y2="278.0" stroke="#666" stroke-width="0.6" />
<text x="389.0" y="279.61" font-size="4.5" text-anchor="end" fill="#444" font-weight="normal" >100</text>
<text y="320.8" font-size="4.5" fill="#444"><tspan x="393.3">-10</tspan><tspan font-size="3.0" dy="-1.7">3</tspan><tspan x="401.4" dy="1.7">0</tspan><tspan x="405.0">10</tspan><tspan font-size="3.0" dy="-1.7">3</tspan><tspan x="415.7" dy="1.7">10</tspan><tspan font-size="3.0" dy="-1.7">4</tspan><tspan x="423.1" dy="1.7">10</tspan><tspan font-size="3.0" dy="-1.7">5</tspan></text>
<rect x="400.8" y="312.40000000000003" width="1.8" height="1.6" fill="#111"/>
<line x1="397.5" y1="313.8" x2="397.5" y2="315.3" stroke="#444" stroke-width="0.5" />
<line x1="401.6" y1="313.8" x2="401.6" y2="315.3" stroke="#444" stroke-width="0.5" />
<line x1="407" y1="313.8" x2="407" y2="315.3" stroke="#444" stroke-width="0.5" />
<line x1="417" y1="313.8" x2="417" y2="315.3" stroke="#444" stroke-width="0.5" />
<line x1="425" y1="313.8" x2="425" y2="315.3" stroke="#444" stroke-width="0.5" />
<line x1="407" y1="294.40000000000003" x2="430.1" y2="294.40000000000003" stroke="#666" stroke-width="0.8" />
<line x1="407" y1="293.40000000000003" x2="407" y2="295.40000000000003" stroke="#666" stroke-width="0.6" />
<text x="418" y="289.99" font-size="5" text-anchor="middle" fill="#222" font-weight="normal" textLength="9.5" lengthAdjust="spacingAndGlyphs" >54.0</text>
<path d="M453.00,313.80 L453.00,313.80 L453.25,313.80 L453.50,313.80 L453.75,313.76 L454.00,313.46 L454.25,311.99 L454.50,307.24 L454.75,297.68 L455.00,287.02 L455.25,283.69 L455.50,289.48 L455.75,294.50 L456.00,299.52 L456.25,300.41 L456.50,301.31 L456.75,302.20 L457.00,303.09 L457.25,303.98 L457.50,304.88 L457.75,304.70 L458.00,304.52 L458.25,304.34 L458.50,304.16 L458.75,303.98 L459.00,303.80 L459.25,303.71 L459.50,303.63 L459.75,303.54 L460.00,303.45 L460.25,303.36 L460.50,303.27 L460.75,303.18 L461.00,303.09 L461.25,302.91 L461.50,302.73 L461.75,302.55 L462.00,302.38 L462.25,302.20 L462.50,302.02 L462.75,301.84 L463.00,301.66 L463.25,301.48 L463.50,301.31 L463.75,301.53 L464.00,301.75 L464.25,301.97 L464.50,302.20 L464.75,302.42 L465.00,302.64 L465.25,302.87 L465.50,303.09 L465.75,303.18 L466.00,303.27 L466.25,303.36 L466.50,303.45 L466.75,303.54 L467.00,303.63 L467.25,303.71 L467.50,303.80 L467.75,303.92 L468.00,304.04 L468.25,304.16 L468.50,304.28 L468.75,304.40 L469.00,304.52 L469.25,304.61 L469.50,304.70 L469.75,304.79 L470.00,304.88 L470.25,304.96 L470.50,305.05 L470.75,305.14 L471.00,305.23 L471.25,305.32 L471.50,305.41 L471.75,305.50 L472.00,305.59 L472.25,305.68 L472.50,305.77 L472.75,305.86 L473.00,305.95 L473.25,306.04 L473.50,306.12 L473.75,306.21 L474.00,306.30 L474.25,306.42 L474.50,306.54 L474.75,306.66 L475.00,306.78 L475.25,306.90 L475.50,307.02 L475.75,307.14 L476.00,307.25 L476.25,307.37 L476.50,307.49 L476.75,307.61 L477.00,307.73 L477.25,308.15 L477.50,308.56 L477.75,308.98 L478.00,309.40 L478.25,309.81 L478.50,310.23 L478.75,310.82 L479.00,311.42 L479.25,312.01 L479.50,312.61 L479.75,313.20 L480.00,313.80 L480.00,313.80 Z" fill="#e0e0e3" stroke="#a8a8b4" stroke-width="0.6"/>
<rect x="446.5" y="277.1" width="36.6" height="36.2" fill="none" stroke="#3c3c3c" stroke-width="0.8"/>
<line x1="444.2" y1="313.2" x2="446" y2="313.2" stroke="#666" stroke-width="0.6" />
<text x="442.0" y="314.81" font-size="4.5" text-anchor="end" fill="#444" font-weight="normal" >0</text>
<line x1="444.2" y1="306.15999999999997" x2="446" y2="306.15999999999997" stroke="#666" stroke-width="0.6" />
<text x="442.0" y="307.77" font-size="4.5" text-anchor="end" fill="#444" font-weight="normal" >20</text>
<line x1="444.2" y1="299.12" x2="446" y2="299.12" stroke="#666" stroke-width="0.6" />
<text x="442.0" y="300.73" font-size="4.5" text-anchor="end" fill="#444" font-weight="normal" >40</text>
<line x1="444.2" y1="292.08" x2="446" y2="292.08" stroke="#666" stroke-width="0.6" />
<text x="442.0" y="293.69" font-size="4.5" text-anchor="end" fill="#444" font-weight="normal" >60</text>
<line x1="444.2" y1="285.03999999999996" x2="446" y2="285.03999999999996" stroke="#666" stroke-width="0.6" />
<text x="442.0" y="286.65" font-size="4.5" text-anchor="end" fill="#444" font-weight="normal" >80</text>
<line x1="444.2" y1="278.0" x2="446" y2="278.0" stroke="#666" stroke-width="0.6" />
<text x="442.0" y="279.61" font-size="4.5" text-anchor="end" fill="#444" font-weight="normal" >100</text>
<text y="320.8" font-size="4.5" fill="#444"><tspan x="446.3">-10</tspan><tspan font-size="3.0" dy="-1.7">3</tspan><tspan x="454.4" dy="1.7">0</tspan><tspan x="458.0">10</tspan><tspan font-size="3.0" dy="-1.7">3</tspan><tspan x="468.7" dy="1.7">10</tspan><tspan font-size="3.0" dy="-1.7">4</tspan><tspan x="476.1" dy="1.7">10</tspan><tspan font-size="3.0" dy="-1.7">5</tspan></text>
<rect x="453.8" y="312.40000000000003" width="1.8" height="1.6" fill="#111"/>
<line x1="450.5" y1="313.8" x2="450.5" y2="315.3" stroke="#444" stroke-width="0.5" />
<line x1="454.6" y1="313.8" x2="454.6" y2="315.3" stroke="#444" stroke-width="0.5" />
<line x1="460" y1="313.8" x2="460" y2="315.3" stroke="#444" stroke-width="0.5" />
<line x1="470" y1="313.8" x2="470" y2="315.3" stroke="#444" stroke-width="0.5" />
<line x1="478" y1="313.8" x2="478" y2="315.3" stroke="#444" stroke-width="0.5" />
<line x1="460" y1="294.40000000000003" x2="483.1" y2="294.40000000000003" stroke="#666" stroke-width="0.8" />
<line x1="460" y1="293.40000000000003" x2="460" y2="295.40000000000003" stroke="#666" stroke-width="0.6" />
<text x="471" y="289.99" font-size="5" text-anchor="middle" fill="#222" font-weight="normal" textLength="9.5" lengthAdjust="spacingAndGlyphs" >66.6</text>
<text x="486.3" y="297.57" font-size="6.9" text-anchor="start" fill="#222" font-weight="normal" textLength="12.5" lengthAdjust="spacingAndGlyphs" >Pt#3</text>
<path d="M294.00,365.30 L294.00,365.29 L294.25,365.24 L294.50,364.99 L294.75,364.08 L295.00,361.53 L295.25,356.26 L295.50,348.41 L295.75,340.73 L296.00,337.45 L296.25,340.73 L296.50,348.16 L296.75,353.52 L297.00,355.66 L297.25,357.00 L297.50,358.34 L297.75,359.68 L298.00,361.02 L298.25,361.33 L298.50,361.64 L298.75,361.95 L299.00,362.27 L299.25,362.58 L299.50,362.89 L299.75,363.20 L300.00,363.51 L300.25,363.54 L300.50,363.57 L300.75,363.60 L301.00,363.63 L301.25,363.66 L301.50,363.69 L301.75,363.72 L302.00,363.75 L302.25,363.78 L302.50,363.81 L302.75,363.84 L303.00,363.87 L303.25,363.78 L303.50,363.69 L303.75,363.60 L304.00,363.51 L304.25,363.43 L304.50,363.34 L304.75,363.25 L305.00,363.16 L305.25,363.25 L305.50,363.34 L305.75,363.43 L306.00,363.51 L306.25,363.60 L306.50,363.69 L306.75,363.78 L307.00,363.87 L307.25,363.76 L307.50,363.66 L307.75,363.55 L308.00,363.44 L308.25,363.34 L308.50,363.23 L308.75,363.12 L309.00,363.02 L309.25,362.91 L309.50,362.80 L309.75,362.94 L310.00,363.09 L310.25,363.23 L310.50,363.37 L310.75,363.51 L311.00,363.66 L311.25,363.80 L311.50,363.94 L311.75,364.09 L312.00,364.23 L312.25,364.32 L312.50,364.41 L312.75,364.50 L313.00,364.59 L313.25,364.68 L313.50,364.76 L313.75,364.85 L314.00,364.94 L314.25,365.03 L314.50,365.12 L314.75,365.21 L315.00,365.30 L315.25,365.30 L315.50,365.30 L315.75,365.30 L316.00,365.30 L316.25,365.30 L316.50,365.30 L316.75,365.30 L317.00,365.30 L317.25,365.30 L317.50,365.30 L317.75,365.30 L318.00,365.30 L318.25,365.30 L318.50,365.30 L318.75,365.30 L319.00,365.30 L319.25,365.30 L319.50,365.30 L319.75,365.30 L320.00,365.30 L320.25,365.30 L320.50,365.30 L320.75,365.30 L321.00,365.30 L321.00,365.30 Z" fill="#e0e0e3" stroke="#a8a8b4" stroke-width="0.6"/>
<rect x="287.5" y="328.6" width="36.6" height="36.2" fill="none" stroke="#3c3c3c" stroke-width="0.8"/>
<line x1="285.2" y1="364.7" x2="287" y2="364.7" stroke="#666" stroke-width="0.6" />
<text x="283.0" y="366.31" font-size="4.5" text-anchor="end" fill="#444" font-weight="normal" >0</text>
<line x1="285.2" y1="357.65999999999997" x2="287" y2="357.65999999999997" stroke="#666" stroke-width="0.6" />
<text x="283.0" y="359.27" font-size="4.5" text-anchor="end" fill="#444" font-weight="normal" >20</text>
<line x1="285.2" y1="350.62" x2="287" y2="350.62" stroke="#666" stroke-width="0.6" />
<text x="283.0" y="352.23" font-size="4.5" text-anchor="end" fill="#444" font-weight="normal" >40</text>
<line x1="285.2" y1="343.58" x2="287" y2="343.58" stroke="#666" stroke-width="0.6" />
<text x="283.0" y="345.19" font-size="4.5" text-anchor="end" fill="#444" font-weight="normal" >60</text>
<line x1="285.2" y1="336.53999999999996" x2="287" y2="336.53999999999996" stroke="#666" stroke-width="0.6" />
<text x="283.0" y="338.15" font-size="4.5" text-anchor="end" fill="#444" font-weight="normal" >80</text>
<line x1="285.2" y1="329.5" x2="287" y2="329.5" stroke="#666" stroke-width="0.6" />
<text x="283.0" y="331.11" font-size="4.5" text-anchor="end" fill="#444" font-weight="normal" >100</text>
<text y="372.3" font-size="4.5" fill="#444"><tspan x="287.3">-10</tspan><tspan font-size="3.0" dy="-1.7">3</tspan><tspan x="295.4" dy="1.7">0</tspan><tspan x="299.0">10</tspan><tspan font-size="3.0" dy="-1.7">3</tspan><tspan x="309.7" dy="1.7">10</tspan><tspan font-size="3.0" dy="-1.7">4</tspan><tspan x="317.1" dy="1.7">10</tspan><tspan font-size="3.0" dy="-1.7">5</tspan></text>
<rect x="294.8" y="363.90000000000003" width="1.8" height="1.6" fill="#111"/>
<line x1="291.5" y1="365.3" x2="291.5" y2="366.8" stroke="#444" stroke-width="0.5" />
<line x1="295.6" y1="365.3" x2="295.6" y2="366.8" stroke="#444" stroke-width="0.5" />
<line x1="301" y1="365.3" x2="301" y2="366.8" stroke="#444" stroke-width="0.5" />
<line x1="311" y1="365.3" x2="311" y2="366.8" stroke="#444" stroke-width="0.5" />
<line x1="319" y1="365.3" x2="319" y2="366.8" stroke="#444" stroke-width="0.5" />
<line x1="301" y1="346.3" x2="324.1" y2="346.3" stroke="#666" stroke-width="0.8" />
<line x1="301" y1="345.3" x2="301" y2="347.3" stroke="#666" stroke-width="0.6" />
<text x="312" y="341.89" font-size="5" text-anchor="middle" fill="#222" font-weight="normal" textLength="9.5" lengthAdjust="spacingAndGlyphs" >33.9</text>
<path d="M347.00,365.30 L347.00,365.29 L347.25,365.24 L347.50,364.98 L347.75,364.05 L348.00,361.43 L348.25,356.03 L348.50,347.98 L348.75,340.10 L349.00,336.74 L349.25,340.10 L349.50,347.90 L349.75,353.47 L350.00,355.66 L350.25,357.00 L350.50,358.34 L350.75,359.68 L351.00,361.02 L351.25,361.33 L351.50,361.64 L351.75,361.95 L352.00,362.27 L352.25,362.58 L352.50,362.89 L352.75,363.20 L353.00,363.51 L353.25,363.54 L353.50,363.57 L353.75,363.60 L354.00,363.63 L354.25,363.66 L354.50,363.69 L354.75,363.72 L355.00,363.75 L355.25,363.78 L355.50,363.81 L355.75,363.84 L356.00,363.87 L356.25,363.84 L356.50,363.81 L356.75,363.78 L357.00,363.75 L357.25,363.72 L357.50,363.69 L357.75,363.66 L358.00,363.63 L358.25,363.60 L358.50,363.57 L358.75,363.54 L359.00,363.51 L359.25,363.54 L359.50,363.56 L359.75,363.58 L360.00,363.60 L360.25,363.63 L360.50,363.65 L360.75,363.67 L361.00,363.69 L361.25,363.72 L361.50,363.74 L361.75,363.76 L362.00,363.78 L362.25,363.81 L362.50,363.83 L362.75,363.85 L363.00,363.87 L363.25,363.96 L363.50,364.05 L363.75,364.14 L364.00,364.23 L364.25,364.32 L364.50,364.41 L364.75,364.50 L365.00,364.59 L365.25,364.68 L365.50,364.76 L365.75,364.85 L366.00,364.94 L366.25,365.03 L366.50,365.12 L366.75,365.21 L367.00,365.30 L367.25,365.30 L367.50,365.30 L367.75,365.30 L368.00,365.30 L368.25,365.30 L368.50,365.30 L368.75,365.30 L369.00,365.30 L369.25,365.30 L369.50,365.30 L369.75,365.30 L370.00,365.30 L370.25,365.30 L370.50,365.30 L370.75,365.30 L371.00,365.30 L371.25,365.30 L371.50,365.30 L371.75,365.30 L372.00,365.30 L372.25,365.30 L372.50,365.30 L372.75,365.30 L373.00,365.30 L373.25,365.30 L373.50,365.30 L373.75,365.30 L374.00,365.30 L374.00,365.30 Z" fill="#e0e0e3" stroke="#a8a8b4" stroke-width="0.6"/>
<rect x="340.5" y="328.6" width="36.6" height="36.2" fill="none" stroke="#3c3c3c" stroke-width="0.8"/>
<line x1="338.2" y1="364.7" x2="340" y2="364.7" stroke="#666" stroke-width="0.6" />
<text x="336.0" y="366.31" font-size="4.5" text-anchor="end" fill="#444" font-weight="normal" >0</text>
<line x1="338.2" y1="357.65999999999997" x2="340" y2="357.65999999999997" stroke="#666" stroke-width="0.6" />
<text x="336.0" y="359.27" font-size="4.5" text-anchor="end" fill="#444" font-weight="normal" >20</text>
<line x1="338.2" y1="350.62" x2="340" y2="350.62" stroke="#666" stroke-width="0.6" />
<text x="336.0" y="352.23" font-size="4.5" text-anchor="end" fill="#444" font-weight="normal" >40</text>
<line x1="338.2" y1="343.58" x2="340" y2="343.58" stroke="#666" stroke-width="0.6" />
<text x="336.0" y="345.19" font-size="4.5" text-anchor="end" fill="#444" font-weight="normal" >60</text>
<line x1="338.2" y1="336.53999999999996" x2="340" y2="336.53999999999996" stroke="#666" stroke-width="0.6" />
<text x="336.0" y="338.15" font-size="4.5" text-anchor="end" fill="#444" font-weight="normal" >80</text>
<line x1="338.2" y1="329.5" x2="340" y2="329.5" stroke="#666" stroke-width="0.6" />
<text x="336.0" y="331.11" font-size="4.5" text-anchor="end" fill="#444" font-weight="normal" >100</text>
<text y="372.3" font-size="4.5" fill="#444"><tspan x="340.3">-10</tspan><tspan font-size="3.0" dy="-1.7">3</tspan><tspan x="348.4" dy="1.7">0</tspan><tspan x="352.0">10</tspan><tspan font-size="3.0" dy="-1.7">3</tspan><tspan x="362.7" dy="1.7">10</tspan><tspan font-size="3.0" dy="-1.7">4</tspan><tspan x="370.1" dy="1.7">10</tspan><tspan font-size="3.0" dy="-1.7">5</tspan></text>
<rect x="347.8" y="363.90000000000003" width="1.8" height="1.6" fill="#111"/>
<line x1="344.5" y1="365.3" x2="344.5" y2="366.8" stroke="#444" stroke-width="0.5" />
<line x1="348.6" y1="365.3" x2="348.6" y2="366.8" stroke="#444" stroke-width="0.5" />
<line x1="354" y1="365.3" x2="354" y2="366.8" stroke="#444" stroke-width="0.5" />
<line x1="364" y1="365.3" x2="364" y2="366.8" stroke="#444" stroke-width="0.5" />
<line x1="372" y1="365.3" x2="372" y2="366.8" stroke="#444" stroke-width="0.5" />
<line x1="354" y1="346.3" x2="377.1" y2="346.3" stroke="#666" stroke-width="0.8" />
<line x1="354" y1="345.3" x2="354" y2="347.3" stroke="#666" stroke-width="0.6" />
<text x="365" y="341.89" font-size="5" text-anchor="middle" fill="#222" font-weight="normal" textLength="9.5" lengthAdjust="spacingAndGlyphs" >35.7</text>
<path d="M400.00,365.30 L400.00,365.26 L400.25,365.11 L400.50,364.51 L400.75,362.74 L401.00,358.85 L401.25,352.63 L401.50,345.92 L401.75,342.21 L402.00,343.88 L402.25,348.52 L402.50,352.09 L402.75,355.66 L403.00,357.03 L403.25,357.85 L403.50,358.67 L403.75,359.48 L404.00,360.30 L404.25,360.66 L404.50,361.02 L404.75,361.37 L405.00,361.73 L405.25,361.77 L405.50,361.82 L405.75,361.86 L406.00,361.91 L406.25,361.95 L406.50,362.00 L406.75,362.04 L407.00,362.09 L407.25,362.13 L407.50,362.18 L407.75,362.22 L408.00,362.27 L408.25,362.31 L408.50,362.35 L408.75,362.40 L409.00,362.44 L409.25,362.35 L409.50,362.27 L409.75,362.18 L410.00,362.09 L410.25,362.00 L410.50,361.91 L410.75,361.82 L411.00,361.73 L411.25,361.64 L411.50,361.55 L411.75,361.46 L412.00,361.37 L412.25,361.28 L412.50,361.19 L412.75,361.11 L413.00,361.02 L413.25,360.93 L413.50,360.84 L413.75,360.75 L414.00,360.66 L414.25,360.57 L414.50,360.48 L414.75,360.39 L415.00,360.30 L415.25,360.21 L415.50,360.12 L415.75,360.03 L416.00,359.94 L416.25,360.30 L416.50,360.66 L416.75,361.02 L417.00,361.37 L417.25,361.73 L417.50,362.09 L417.75,362.44 L418.00,362.80 L418.25,363.11 L418.50,363.43 L418.75,363.74 L419.00,364.05 L419.25,364.36 L419.50,364.68 L419.75,364.99 L420.00,365.30 L420.25,365.30 L420.50,365.30 L420.75,365.30 L421.00,365.30 L421.25,365.30 L421.50,365.30 L421.75,365.30 L422.00,365.30 L422.25,365.30 L422.50,365.30 L422.75,365.30 L423.00,365.30 L423.25,365.30 L423.50,365.30 L423.75,365.30 L424.00,365.30 L424.25,365.30 L424.50,365.30 L424.75,365.30 L425.00,365.30 L425.25,365.30 L425.50,365.30 L425.75,365.30 L426.00,365.30 L426.25,365.30 L426.50,365.30 L426.75,365.30 L427.00,365.30 L427.00,365.30 Z" fill="#e0e0e3" stroke="#a8a8b4" stroke-width="0.6"/>
<rect x="393.5" y="328.6" width="36.6" height="36.2" fill="none" stroke="#3c3c3c" stroke-width="0.8"/>
<line x1="391.2" y1="364.7" x2="393" y2="364.7" stroke="#666" stroke-width="0.6" />
<text x="389.0" y="366.31" font-size="4.5" text-anchor="end" fill="#444" font-weight="normal" >0</text>
<line x1="391.2" y1="357.65999999999997" x2="393" y2="357.65999999999997" stroke="#666" stroke-width="0.6" />
<text x="389.0" y="359.27" font-size="4.5" text-anchor="end" fill="#444" font-weight="normal" >20</text>
<line x1="391.2" y1="350.62" x2="393" y2="350.62" stroke="#666" stroke-width="0.6" />
<text x="389.0" y="352.23" font-size="4.5" text-anchor="end" fill="#444" font-weight="normal" >40</text>
<line x1="391.2" y1="343.58" x2="393" y2="343.58" stroke="#666" stroke-width="0.6" />
<text x="389.0" y="345.19" font-size="4.5" text-anchor="end" fill="#444" font-weight="normal" >60</text>
<line x1="391.2" y1="336.53999999999996" x2="393" y2="336.53999999999996" stroke="#666" stroke-width="0.6" />
<text x="389.0" y="338.15" font-size="4.5" text-anchor="end" fill="#444" font-weight="normal" >80</text>
<line x1="391.2" y1="329.5" x2="393" y2="329.5" stroke="#666" stroke-width="0.6" />
<text x="389.0" y="331.11" font-size="4.5" text-anchor="end" fill="#444" font-weight="normal" >100</text>
<text y="372.3" font-size="4.5" fill="#444"><tspan x="393.3">-10</tspan><tspan font-size="3.0" dy="-1.7">3</tspan><tspan x="401.4" dy="1.7">0</tspan><tspan x="405.0">10</tspan><tspan font-size="3.0" dy="-1.7">3</tspan><tspan x="415.7" dy="1.7">10</tspan><tspan font-size="3.0" dy="-1.7">4</tspan><tspan x="423.1" dy="1.7">10</tspan><tspan font-size="3.0" dy="-1.7">5</tspan></text>
<rect x="400.8" y="363.90000000000003" width="1.8" height="1.6" fill="#111"/>
<line x1="397.5" y1="365.3" x2="397.5" y2="366.8" stroke="#444" stroke-width="0.5" />
<line x1="401.6" y1="365.3" x2="401.6" y2="366.8" stroke="#444" stroke-width="0.5" />
<line x1="407" y1="365.3" x2="407" y2="366.8" stroke="#444" stroke-width="0.5" />
<line x1="417" y1="365.3" x2="417" y2="366.8" stroke="#444" stroke-width="0.5" />
<line x1="425" y1="365.3" x2="425" y2="366.8" stroke="#444" stroke-width="0.5" />
<line x1="407" y1="346.3" x2="430.1" y2="346.3" stroke="#666" stroke-width="0.8" />
<line x1="407" y1="345.3" x2="407" y2="347.3" stroke="#666" stroke-width="0.6" />
<text x="418" y="341.89" font-size="5" text-anchor="middle" fill="#222" font-weight="normal" textLength="9.5" lengthAdjust="spacingAndGlyphs" >44.6</text>
<path d="M453.00,365.30 L453.00,365.26 L453.25,365.08 L453.50,364.39 L453.75,362.35 L454.00,357.86 L454.25,350.68 L454.50,342.94 L454.75,338.66 L455.00,340.58 L455.25,346.08 L455.50,350.27 L455.75,354.47 L456.00,356.08 L456.25,357.04 L456.50,358.01 L456.75,358.98 L457.00,359.94 L457.25,360.12 L457.50,360.30 L457.75,360.48 L458.00,360.66 L458.25,360.84 L458.50,361.02 L458.75,360.94 L459.00,360.86 L459.25,360.79 L459.50,360.71 L459.75,360.63 L460.00,360.56 L460.25,360.48 L460.50,360.40 L460.75,360.33 L461.00,360.25 L461.25,360.17 L461.50,360.10 L461.75,360.02 L462.00,359.94 L462.25,359.74 L462.50,359.53 L462.75,359.32 L463.00,359.11 L463.25,358.90 L463.50,358.70 L463.75,358.49 L464.00,358.28 L464.25,358.07 L464.50,357.86 L464.75,357.65 L465.00,357.45 L465.25,357.24 L465.50,357.04 L465.75,356.83 L466.00,356.63 L466.25,356.43 L466.50,356.22 L466.75,356.02 L467.00,355.81 L467.25,355.61 L467.50,355.41 L467.75,355.20 L468.00,355.00 L468.25,354.79 L468.50,354.59 L468.75,355.04 L469.00,355.48 L469.25,355.93 L469.50,356.38 L469.75,356.82 L470.00,357.27 L470.25,357.71 L470.50,358.16 L470.75,358.75 L471.00,359.35 L471.25,359.94 L471.50,360.54 L471.75,361.13 L472.00,361.73 L472.25,362.32 L472.50,362.92 L472.75,363.51 L473.00,364.11 L473.25,364.70 L473.50,365.30 L473.75,365.30 L474.00,365.30 L474.25,365.30 L474.50,365.30 L474.75,365.30 L475.00,365.30 L475.25,365.30 L475.50,365.30 L475.75,365.30 L476.00,365.30 L476.25,365.30 L476.50,365.30 L476.75,365.30 L477.00,365.30 L477.25,365.30 L477.50,365.30 L477.75,365.30 L478.00,365.30 L478.25,365.30 L478.50,365.30 L478.75,365.30 L479.00,365.30 L479.25,365.30 L479.50,365.30 L479.75,365.30 L480.00,365.30 L480.00,365.30 Z" fill="#e0e0e3" stroke="#a8a8b4" stroke-width="0.6"/>
<rect x="446.5" y="328.6" width="36.6" height="36.2" fill="none" stroke="#3c3c3c" stroke-width="0.8"/>
<line x1="444.2" y1="364.7" x2="446" y2="364.7" stroke="#666" stroke-width="0.6" />
<text x="442.0" y="366.31" font-size="4.5" text-anchor="end" fill="#444" font-weight="normal" >0</text>
<line x1="444.2" y1="357.65999999999997" x2="446" y2="357.65999999999997" stroke="#666" stroke-width="0.6" />
<text x="442.0" y="359.27" font-size="4.5" text-anchor="end" fill="#444" font-weight="normal" >20</text>
<line x1="444.2" y1="350.62" x2="446" y2="350.62" stroke="#666" stroke-width="0.6" />
<text x="442.0" y="352.23" font-size="4.5" text-anchor="end" fill="#444" font-weight="normal" >40</text>
<line x1="444.2" y1="343.58" x2="446" y2="343.58" stroke="#666" stroke-width="0.6" />
<text x="442.0" y="345.19" font-size="4.5" text-anchor="end" fill="#444" font-weight="normal" >60</text>
<line x1="444.2" y1="336.53999999999996" x2="446" y2="336.53999999999996" stroke="#666" stroke-width="0.6" />
<text x="442.0" y="338.15" font-size="4.5" text-anchor="end" fill="#444" font-weight="normal" >80</text>
<line x1="444.2" y1="329.5" x2="446" y2="329.5" stroke="#666" stroke-width="0.6" />
<text x="442.0" y="331.11" font-size="4.5" text-anchor="end" fill="#444" font-weight="normal" >100</text>
<text y="372.3" font-size="4.5" fill="#444"><tspan x="446.3">-10</tspan><tspan font-size="3.0" dy="-1.7">3</tspan><tspan x="454.4" dy="1.7">0</tspan><tspan x="458.0">10</tspan><tspan font-size="3.0" dy="-1.7">3</tspan><tspan x="468.7" dy="1.7">10</tspan><tspan font-size="3.0" dy="-1.7">4</tspan><tspan x="476.1" dy="1.7">10</tspan><tspan font-size="3.0" dy="-1.7">5</tspan></text>
<rect x="453.8" y="363.90000000000003" width="1.8" height="1.6" fill="#111"/>
<line x1="450.5" y1="365.3" x2="450.5" y2="366.8" stroke="#444" stroke-width="0.5" />
<line x1="454.6" y1="365.3" x2="454.6" y2="366.8" stroke="#444" stroke-width="0.5" />
<line x1="460" y1="365.3" x2="460" y2="366.8" stroke="#444" stroke-width="0.5" />
<line x1="470" y1="365.3" x2="470" y2="366.8" stroke="#444" stroke-width="0.5" />
<line x1="478" y1="365.3" x2="478" y2="366.8" stroke="#444" stroke-width="0.5" />
<line x1="460" y1="346.3" x2="483.1" y2="346.3" stroke="#666" stroke-width="0.8" />
<line x1="460" y1="345.3" x2="460" y2="347.3" stroke="#666" stroke-width="0.6" />
<text x="471" y="341.89" font-size="5" text-anchor="middle" fill="#222" font-weight="normal" textLength="9.5" lengthAdjust="spacingAndGlyphs" >57.7</text>
<text x="486.3" y="349.07" font-size="6.9" text-anchor="start" fill="#222" font-weight="normal" textLength="12.5" lengthAdjust="spacingAndGlyphs" >Pt#4</text>
<path d="M294.00,416.60 L294.00,416.48 L294.25,416.26 L294.50,415.73 L294.75,414.61 L295.00,412.49 L295.25,409.03 L295.50,404.12 L295.75,398.19 L296.00,392.30 L296.25,387.89 L296.50,386.25 L296.75,387.89 L297.00,391.01 L297.25,393.39 L297.50,395.77 L297.75,398.15 L298.00,400.53 L298.25,402.32 L298.50,404.10 L298.75,405.89 L299.00,407.67 L299.25,409.46 L299.50,411.24 L299.75,411.78 L300.00,412.32 L300.25,412.85 L300.50,413.39 L300.75,413.92 L301.00,414.46 L301.25,414.52 L301.50,414.59 L301.75,414.66 L302.00,414.73 L302.25,414.79 L302.50,414.86 L302.75,414.93 L303.00,414.99 L303.25,415.06 L303.50,415.13 L303.75,415.19 L304.00,415.26 L304.25,415.33 L304.50,415.40 L304.75,415.46 L305.00,415.53 L305.25,415.50 L305.50,415.47 L305.75,415.44 L306.00,415.41 L306.25,415.38 L306.50,415.35 L306.75,415.32 L307.00,415.29 L307.25,415.26 L307.50,415.23 L307.75,415.20 L308.00,415.17 L308.25,415.08 L308.50,414.99 L308.75,414.90 L309.00,414.81 L309.25,414.73 L309.50,414.64 L309.75,414.55 L310.00,414.46 L310.25,414.37 L310.50,414.28 L310.75,414.19 L311.00,414.10 L311.25,414.28 L311.50,414.46 L311.75,414.64 L312.00,414.81 L312.25,414.99 L312.50,415.17 L312.75,415.35 L313.00,415.53 L313.25,415.66 L313.50,415.80 L313.75,415.93 L314.00,416.06 L314.25,416.20 L314.50,416.33 L314.75,416.47 L315.00,416.60 L315.25,416.60 L315.50,416.60 L315.75,416.60 L316.00,416.60 L316.25,416.60 L316.50,416.60 L316.75,416.60 L317.00,416.60 L317.25,416.60 L317.50,416.60 L317.75,416.60 L318.00,416.60 L318.25,416.60 L318.50,416.60 L318.75,416.60 L319.00,416.60 L319.25,416.60 L319.50,416.60 L319.75,416.60 L320.00,416.60 L320.25,416.60 L320.50,416.60 L320.75,416.60 L321.00,416.60 L321.00,416.60 Z" fill="#e0e0e3" stroke="#a8a8b4" stroke-width="0.6"/>
<rect x="287.5" y="379.9" width="36.6" height="36.2" fill="none" stroke="#3c3c3c" stroke-width="0.8"/>
<line x1="285.2" y1="415.99999999999994" x2="287" y2="415.99999999999994" stroke="#666" stroke-width="0.6" />
<text x="283.0" y="417.61" font-size="4.5" text-anchor="end" fill="#444" font-weight="normal" >0</text>
<line x1="285.2" y1="408.9599999999999" x2="287" y2="408.9599999999999" stroke="#666" stroke-width="0.6" />
<text x="283.0" y="410.57" font-size="4.5" text-anchor="end" fill="#444" font-weight="normal" >20</text>
<line x1="285.2" y1="401.91999999999996" x2="287" y2="401.91999999999996" stroke="#666" stroke-width="0.6" />
<text x="283.0" y="403.53" font-size="4.5" text-anchor="end" fill="#444" font-weight="normal" >40</text>
<line x1="285.2" y1="394.87999999999994" x2="287" y2="394.87999999999994" stroke="#666" stroke-width="0.6" />
<text x="283.0" y="396.49" font-size="4.5" text-anchor="end" fill="#444" font-weight="normal" >60</text>
<line x1="285.2" y1="387.8399999999999" x2="287" y2="387.8399999999999" stroke="#666" stroke-width="0.6" />
<text x="283.0" y="389.45" font-size="4.5" text-anchor="end" fill="#444" font-weight="normal" >80</text>
<line x1="285.2" y1="380.79999999999995" x2="287" y2="380.79999999999995" stroke="#666" stroke-width="0.6" />
<text x="283.0" y="382.41" font-size="4.5" text-anchor="end" fill="#444" font-weight="normal" >100</text>
<text y="423.6" font-size="4.5" fill="#444"><tspan x="287.3">-10</tspan><tspan font-size="3.0" dy="-1.7">3</tspan><tspan x="295.4" dy="1.7">0</tspan><tspan x="299.0">10</tspan><tspan font-size="3.0" dy="-1.7">3</tspan><tspan x="309.7" dy="1.7">10</tspan><tspan font-size="3.0" dy="-1.7">4</tspan><tspan x="317.1" dy="1.7">10</tspan><tspan font-size="3.0" dy="-1.7">5</tspan></text>
<rect x="294.8" y="415.2" width="1.8" height="1.6" fill="#111"/>
<line x1="291.5" y1="416.59999999999997" x2="291.5" y2="418.09999999999997" stroke="#444" stroke-width="0.5" />
<line x1="295.6" y1="416.59999999999997" x2="295.6" y2="418.09999999999997" stroke="#444" stroke-width="0.5" />
<line x1="301" y1="416.59999999999997" x2="301" y2="418.09999999999997" stroke="#444" stroke-width="0.5" />
<line x1="311" y1="416.59999999999997" x2="311" y2="418.09999999999997" stroke="#444" stroke-width="0.5" />
<line x1="319" y1="416.59999999999997" x2="319" y2="418.09999999999997" stroke="#444" stroke-width="0.5" />
<line x1="323.3" y1="398.2" x2="323.3" y2="400.2" stroke="#666" stroke-width="0.6" />
<line x1="301" y1="399.2" x2="323.3" y2="399.2" stroke="#666" stroke-width="0.8" />
<line x1="301" y1="398.2" x2="301" y2="400.2" stroke="#666" stroke-width="0.6" />
<text x="312" y="394.79" font-size="5" text-anchor="middle" fill="#222" font-weight="normal" textLength="9.5" lengthAdjust="spacingAndGlyphs" >22.8</text>
<path d="M347.00,416.60 L347.00,416.47 L347.25,416.22 L347.50,415.63 L347.75,414.37 L348.00,412.01 L348.25,408.14 L348.50,402.66 L348.75,396.03 L349.00,389.44 L349.25,384.52 L349.50,382.68 L349.75,384.52 L350.00,387.44 L350.25,389.82 L350.50,392.20 L350.75,394.58 L351.00,396.96 L351.25,398.45 L351.50,399.94 L351.75,401.43 L352.00,402.91 L352.25,404.40 L352.50,405.89 L352.75,406.53 L353.00,407.18 L353.25,407.82 L353.50,408.46 L353.75,409.10 L354.00,409.75 L354.25,410.39 L354.50,411.03 L354.75,411.67 L355.00,412.32 L355.25,412.46 L355.50,412.61 L355.75,412.76 L356.00,412.91 L356.25,413.06 L356.50,413.21 L356.75,413.36 L357.00,413.51 L357.25,413.65 L357.50,413.80 L357.75,413.95 L358.00,414.10 L358.25,414.17 L358.50,414.23 L358.75,414.30 L359.00,414.37 L359.25,414.44 L359.50,414.50 L359.75,414.57 L360.00,414.64 L360.25,414.70 L360.50,414.77 L360.75,414.84 L361.00,414.90 L361.25,414.97 L361.50,415.04 L361.75,415.11 L362.00,415.17 L362.25,415.22 L362.50,415.26 L362.75,415.31 L363.00,415.35 L363.25,415.40 L363.50,415.44 L363.75,415.48 L364.00,415.53 L364.25,415.57 L364.50,415.62 L364.75,415.66 L365.00,415.71 L365.25,415.75 L365.50,415.80 L365.75,415.84 L366.00,415.89 L366.25,415.98 L366.50,416.06 L366.75,416.15 L367.00,416.24 L367.25,416.33 L367.50,416.42 L367.75,416.51 L368.00,416.60 L368.25,416.60 L368.50,416.60 L368.75,416.60 L369.00,416.60 L369.25,416.60 L369.50,416.60 L369.75,416.60 L370.00,416.60 L370.25,416.60 L370.50,416.60 L370.75,416.60 L371.00,416.60 L371.25,416.60 L371.50,416.60 L371.75,416.60 L372.00,416.60 L372.25,416.60 L372.50,416.60 L372.75,416.60 L373.00,416.60 L373.25,416.60 L373.50,416.60 L373.75,416.60 L374.00,416.60 L374.00,416.60 Z" fill="#e0e0e3" stroke="#a8a8b4" stroke-width="0.6"/>
<rect x="340.5" y="379.9" width="36.6" height="36.2" fill="none" stroke="#3c3c3c" stroke-width="0.8"/>
<line x1="338.2" y1="415.99999999999994" x2="340" y2="415.99999999999994" stroke="#666" stroke-width="0.6" />
<text x="336.0" y="417.61" font-size="4.5" text-anchor="end" fill="#444" font-weight="normal" >0</text>
<line x1="338.2" y1="408.9599999999999" x2="340" y2="408.9599999999999" stroke="#666" stroke-width="0.6" />
<text x="336.0" y="410.57" font-size="4.5" text-anchor="end" fill="#444" font-weight="normal" >20</text>
<line x1="338.2" y1="401.91999999999996" x2="340" y2="401.91999999999996" stroke="#666" stroke-width="0.6" />
<text x="336.0" y="403.53" font-size="4.5" text-anchor="end" fill="#444" font-weight="normal" >40</text>
<line x1="338.2" y1="394.87999999999994" x2="340" y2="394.87999999999994" stroke="#666" stroke-width="0.6" />
<text x="336.0" y="396.49" font-size="4.5" text-anchor="end" fill="#444" font-weight="normal" >60</text>
<line x1="338.2" y1="387.8399999999999" x2="340" y2="387.8399999999999" stroke="#666" stroke-width="0.6" />
<text x="336.0" y="389.45" font-size="4.5" text-anchor="end" fill="#444" font-weight="normal" >80</text>
<line x1="338.2" y1="380.79999999999995" x2="340" y2="380.79999999999995" stroke="#666" stroke-width="0.6" />
<text x="336.0" y="382.41" font-size="4.5" text-anchor="end" fill="#444" font-weight="normal" >100</text>
<text y="423.6" font-size="4.5" fill="#444"><tspan x="340.3">-10</tspan><tspan font-size="3.0" dy="-1.7">3</tspan><tspan x="348.4" dy="1.7">0</tspan><tspan x="352.0">10</tspan><tspan font-size="3.0" dy="-1.7">3</tspan><tspan x="362.7" dy="1.7">10</tspan><tspan font-size="3.0" dy="-1.7">4</tspan><tspan x="370.1" dy="1.7">10</tspan><tspan font-size="3.0" dy="-1.7">5</tspan></text>
<rect x="347.8" y="415.2" width="1.8" height="1.6" fill="#111"/>
<line x1="344.5" y1="416.59999999999997" x2="344.5" y2="418.09999999999997" stroke="#444" stroke-width="0.5" />
<line x1="348.6" y1="416.59999999999997" x2="348.6" y2="418.09999999999997" stroke="#444" stroke-width="0.5" />
<line x1="354" y1="416.59999999999997" x2="354" y2="418.09999999999997" stroke="#444" stroke-width="0.5" />
<line x1="364" y1="416.59999999999997" x2="364" y2="418.09999999999997" stroke="#444" stroke-width="0.5" />
<line x1="372" y1="416.59999999999997" x2="372" y2="418.09999999999997" stroke="#444" stroke-width="0.5" />
<line x1="376.3" y1="398.2" x2="376.3" y2="400.2" stroke="#666" stroke-width="0.6" />
<line x1="354" y1="399.2" x2="376.3" y2="399.2" stroke="#666" stroke-width="0.8" />
<line x1="354" y1="398.2" x2="354" y2="400.2" stroke="#666" stroke-width="0.6" />
<text x="365" y="394.79" font-size="5" text-anchor="middle" fill="#222" font-weight="normal" textLength="9.5" lengthAdjust="spacingAndGlyphs" >23.8</text>
<path d="M400.00,416.60 L400.00,416.57 L400.25,416.50 L400.50,416.29 L400.75,415.79 L401.00,414.70 L401.25,412.59 L401.50,409.05 L401.75,403.87 L402.00,397.40 L402.25,390.68 L402.50,385.29 L402.75,382.76 L403.00,383.87 L403.25,388.04 L403.50,391.01 L403.75,393.99 L404.00,396.96 L404.25,398.75 L404.50,400.53 L404.75,402.32 L405.00,404.10 L405.25,405.89 L405.50,407.67 L405.75,408.28 L406.00,408.89 L406.25,409.50 L406.50,410.10 L406.75,410.71 L407.00,411.32 L407.25,411.92 L407.50,412.53 L407.75,413.14 L408.00,413.74 L408.25,413.74 L408.50,413.74 L408.75,413.74 L409.00,413.74 L409.25,413.74 L409.50,413.74 L409.75,413.74 L410.00,413.74 L410.25,413.74 L410.50,413.74 L410.75,413.74 L411.00,413.74 L411.25,413.60 L411.50,413.45 L411.75,413.31 L412.00,413.16 L412.25,413.02 L412.50,412.87 L412.75,412.73 L413.00,412.58 L413.25,412.44 L413.50,412.29 L413.75,412.15 L414.00,412.00 L414.25,411.86 L414.50,411.71 L414.75,411.56 L415.00,411.42 L415.25,411.27 L415.50,411.48 L415.75,411.78 L416.00,412.08 L416.25,412.38 L416.50,412.67 L416.75,412.97 L417.00,413.27 L417.25,413.57 L417.50,413.86 L417.75,414.16 L418.00,414.46 L418.25,414.73 L418.50,414.99 L418.75,415.26 L419.00,415.53 L419.25,415.80 L419.50,416.06 L419.75,416.33 L420.00,416.60 L420.25,416.60 L420.50,416.60 L420.75,416.60 L421.00,416.60 L421.25,416.60 L421.50,416.60 L421.75,416.60 L422.00,416.60 L422.25,416.60 L422.50,416.60 L422.75,416.60 L423.00,416.60 L423.25,416.60 L423.50,416.60 L423.75,416.60 L424.00,416.60 L424.25,416.60 L424.50,416.60 L424.75,416.60 L425.00,416.60 L425.25,416.60 L425.50,416.60 L425.75,416.60 L426.00,416.60 L426.25,416.60 L426.50,416.60 L426.75,416.60 L427.00,416.60 L427.00,416.60 Z" fill="#e0e0e3" stroke="#a8a8b4" stroke-width="0.6"/>
<rect x="393.5" y="379.9" width="36.6" height="36.2" fill="none" stroke="#3c3c3c" stroke-width="0.8"/>
<line x1="391.2" y1="415.99999999999994" x2="393" y2="415.99999999999994" stroke="#666" stroke-width="0.6" />
<text x="389.0" y="417.61" font-size="4.5" text-anchor="end" fill="#444" font-weight="normal" >0</text>
<line x1="391.2" y1="408.9599999999999" x2="393" y2="408.9599999999999" stroke="#666" stroke-width="0.6" />
<text x="389.0" y="410.57" font-size="4.5" text-anchor="end" fill="#444" font-weight="normal" >20</text>
<line x1="391.2" y1="401.91999999999996" x2="393" y2="401.91999999999996" stroke="#666" stroke-width="0.6" />
<text x="389.0" y="403.53" font-size="4.5" text-anchor="end" fill="#444" font-weight="normal" >40</text>
<line x1="391.2" y1="394.87999999999994" x2="393" y2="394.87999999999994" stroke="#666" stroke-width="0.6" />
<text x="389.0" y="396.49" font-size="4.5" text-anchor="end" fill="#444" font-weight="normal" >60</text>
<line x1="391.2" y1="387.8399999999999" x2="393" y2="387.8399999999999" stroke="#666" stroke-width="0.6" />
<text x="389.0" y="389.45" font-size="4.5" text-anchor="end" fill="#444" font-weight="normal" >80</text>
<line x1="391.2" y1="380.79999999999995" x2="393" y2="380.79999999999995" stroke="#666" stroke-width="0.6" />
<text x="389.0" y="382.41" font-size="4.5" text-anchor="end" fill="#444" font-weight="normal" >100</text>
<text y="423.6" font-size="4.5" fill="#444"><tspan x="393.3">-10</tspan><tspan font-size="3.0" dy="-1.7">3</tspan><tspan x="401.4" dy="1.7">0</tspan><tspan x="405.0">10</tspan><tspan font-size="3.0" dy="-1.7">3</tspan><tspan x="415.7" dy="1.7">10</tspan><tspan font-size="3.0" dy="-1.7">4</tspan><tspan x="423.1" dy="1.7">10</tspan><tspan font-size="3.0" dy="-1.7">5</tspan></text>
<rect x="400.8" y="415.2" width="1.8" height="1.6" fill="#111"/>
<line x1="397.5" y1="416.59999999999997" x2="397.5" y2="418.09999999999997" stroke="#444" stroke-width="0.5" />
<line x1="401.6" y1="416.59999999999997" x2="401.6" y2="418.09999999999997" stroke="#444" stroke-width="0.5" />
<line x1="407" y1="416.59999999999997" x2="407" y2="418.09999999999997" stroke="#444" stroke-width="0.5" />
<line x1="417" y1="416.59999999999997" x2="417" y2="418.09999999999997" stroke="#444" stroke-width="0.5" />
<line x1="425" y1="416.59999999999997" x2="425" y2="418.09999999999997" stroke="#444" stroke-width="0.5" />
<line x1="429.3" y1="398.2" x2="429.3" y2="400.2" stroke="#666" stroke-width="0.6" />
<line x1="407" y1="399.2" x2="429.3" y2="399.2" stroke="#666" stroke-width="0.8" />
<line x1="407" y1="398.2" x2="407" y2="400.2" stroke="#666" stroke-width="0.6" />
<text x="418" y="394.79" font-size="5" text-anchor="middle" fill="#222" font-weight="normal" textLength="9.5" lengthAdjust="spacingAndGlyphs" >30.2</text>
<path d="M453.00,416.60 L453.00,416.59 L453.25,416.56 L453.50,416.48 L453.75,416.24 L454.00,415.68 L454.25,414.49 L454.50,412.25 L454.75,408.59 L455.00,403.39 L455.25,397.11 L455.50,390.87 L455.75,386.21 L456.00,384.47 L456.25,386.21 L456.50,388.63 L456.75,390.72 L457.00,392.80 L457.25,394.88 L457.50,396.96 L457.75,398.75 L458.00,400.53 L458.25,402.32 L458.50,404.10 L458.75,405.89 L459.00,407.67 L459.25,408.57 L459.50,409.46 L459.75,410.35 L460.00,411.24 L460.25,411.19 L460.50,411.13 L460.75,411.07 L461.00,411.01 L461.25,410.95 L461.50,410.89 L461.75,410.83 L462.00,410.77 L462.25,410.71 L462.50,410.65 L462.75,410.59 L463.00,410.53 L463.25,410.38 L463.50,410.23 L463.75,410.08 L464.00,409.94 L464.25,409.79 L464.50,409.64 L464.75,409.49 L465.00,409.34 L465.25,409.19 L465.50,409.04 L465.75,408.89 L466.00,408.75 L466.25,408.44 L466.50,408.14 L466.75,407.83 L467.00,407.52 L467.25,407.22 L467.50,406.91 L467.75,406.61 L468.00,406.30 L468.25,406.00 L468.50,405.69 L468.75,405.39 L469.00,405.08 L469.25,404.78 L469.50,404.47 L469.75,404.17 L470.00,404.70 L470.25,405.44 L470.50,406.19 L470.75,406.93 L471.00,407.67 L471.25,408.57 L471.50,409.46 L471.75,410.35 L472.00,411.24 L472.25,412.14 L472.50,413.03 L472.75,413.92 L473.00,414.81 L473.25,415.71 L473.50,416.60 L473.75,416.60 L474.00,416.60 L474.25,416.60 L474.50,416.60 L474.75,416.60 L475.00,416.60 L475.25,416.60 L475.50,416.60 L475.75,416.60 L476.00,416.60 L476.25,416.60 L476.50,416.60 L476.75,416.60 L477.00,416.60 L477.25,416.60 L477.50,416.60 L477.75,416.60 L478.00,416.60 L478.25,416.60 L478.50,416.60 L478.75,416.60 L479.00,416.60 L479.25,416.60 L479.50,416.60 L479.75,416.60 L480.00,416.60 L480.00,416.60 Z" fill="#e0e0e3" stroke="#a8a8b4" stroke-width="0.6"/>
<rect x="446.5" y="379.9" width="36.6" height="36.2" fill="none" stroke="#3c3c3c" stroke-width="0.8"/>
<line x1="444.2" y1="415.99999999999994" x2="446" y2="415.99999999999994" stroke="#666" stroke-width="0.6" />
<text x="442.0" y="417.61" font-size="4.5" text-anchor="end" fill="#444" font-weight="normal" >0</text>
<line x1="444.2" y1="408.9599999999999" x2="446" y2="408.9599999999999" stroke="#666" stroke-width="0.6" />
<text x="442.0" y="410.57" font-size="4.5" text-anchor="end" fill="#444" font-weight="normal" >20</text>
<line x1="444.2" y1="401.91999999999996" x2="446" y2="401.91999999999996" stroke="#666" stroke-width="0.6" />
<text x="442.0" y="403.53" font-size="4.5" text-anchor="end" fill="#444" font-weight="normal" >40</text>
<line x1="444.2" y1="394.87999999999994" x2="446" y2="394.87999999999994" stroke="#666" stroke-width="0.6" />
<text x="442.0" y="396.49" font-size="4.5" text-anchor="end" fill="#444" font-weight="normal" >60</text>
<line x1="444.2" y1="387.8399999999999" x2="446" y2="387.8399999999999" stroke="#666" stroke-width="0.6" />
<text x="442.0" y="389.45" font-size="4.5" text-anchor="end" fill="#444" font-weight="normal" >80</text>
<line x1="444.2" y1="380.79999999999995" x2="446" y2="380.79999999999995" stroke="#666" stroke-width="0.6" />
<text x="442.0" y="382.41" font-size="4.5" text-anchor="end" fill="#444" font-weight="normal" >100</text>
<text y="423.6" font-size="4.5" fill="#444"><tspan x="446.3">-10</tspan><tspan font-size="3.0" dy="-1.7">3</tspan><tspan x="454.4" dy="1.7">0</tspan><tspan x="458.0">10</tspan><tspan font-size="3.0" dy="-1.7">3</tspan><tspan x="468.7" dy="1.7">10</tspan><tspan font-size="3.0" dy="-1.7">4</tspan><tspan x="476.1" dy="1.7">10</tspan><tspan font-size="3.0" dy="-1.7">5</tspan></text>
<rect x="453.8" y="415.2" width="1.8" height="1.6" fill="#111"/>
<line x1="450.5" y1="416.59999999999997" x2="450.5" y2="418.09999999999997" stroke="#444" stroke-width="0.5" />
<line x1="454.6" y1="416.59999999999997" x2="454.6" y2="418.09999999999997" stroke="#444" stroke-width="0.5" />
<line x1="460" y1="416.59999999999997" x2="460" y2="418.09999999999997" stroke="#444" stroke-width="0.5" />
<line x1="470" y1="416.59999999999997" x2="470" y2="418.09999999999997" stroke="#444" stroke-width="0.5" />
<line x1="478" y1="416.59999999999997" x2="478" y2="418.09999999999997" stroke="#444" stroke-width="0.5" />
<line x1="482.3" y1="398.2" x2="482.3" y2="400.2" stroke="#666" stroke-width="0.6" />
<line x1="460" y1="399.2" x2="482.3" y2="399.2" stroke="#666" stroke-width="0.8" />
<line x1="460" y1="398.2" x2="460" y2="400.2" stroke="#666" stroke-width="0.6" />
<text x="471" y="394.79" font-size="5" text-anchor="middle" fill="#222" font-weight="normal" textLength="9.5" lengthAdjust="spacingAndGlyphs" >46.4</text>
<text x="486.3" y="400.37" font-size="6.9" text-anchor="start" fill="#222" font-weight="normal" textLength="12.5" lengthAdjust="spacingAndGlyphs" >Pt#5</text>
<path d="M294.00,468.50 L294.00,468.38 L294.25,468.14 L294.50,467.58 L294.75,466.39 L295.00,464.15 L295.25,460.49 L295.50,455.29 L295.75,449.01 L296.00,442.77 L296.25,438.11 L296.50,436.37 L296.75,438.11 L297.00,441.13 L297.25,443.51 L297.50,445.89 L297.75,448.27 L298.00,450.65 L298.25,452.44 L298.50,454.22 L298.75,456.00 L299.00,457.79 L299.25,459.57 L299.50,461.36 L299.75,461.86 L300.00,462.36 L300.25,462.86 L300.50,463.36 L300.75,463.86 L301.00,464.36 L301.25,464.86 L301.50,465.36 L301.75,465.86 L302.00,466.36 L302.25,466.41 L302.50,466.47 L302.75,466.52 L303.00,466.57 L303.25,466.63 L303.50,466.68 L303.75,466.73 L304.00,466.79 L304.25,466.84 L304.50,466.89 L304.75,466.95 L305.00,467.00 L305.25,467.05 L305.50,467.11 L305.75,467.16 L306.00,467.21 L306.25,467.27 L306.50,467.32 L306.75,467.38 L307.00,467.43 L307.25,467.45 L307.50,467.46 L307.75,467.48 L308.00,467.50 L308.25,467.52 L308.50,467.54 L308.75,467.55 L309.00,467.57 L309.25,467.59 L309.50,467.61 L309.75,467.63 L310.00,467.64 L310.25,467.66 L310.50,467.68 L310.75,467.70 L311.00,467.71 L311.25,467.73 L311.50,467.75 L311.75,467.77 L312.00,467.79 L312.25,467.85 L312.50,467.90 L312.75,467.96 L313.00,468.02 L313.25,468.08 L313.50,468.14 L313.75,468.20 L314.00,468.26 L314.25,468.32 L314.50,468.38 L314.75,468.44 L315.00,468.50 L315.25,468.50 L315.50,468.50 L315.75,468.50 L316.00,468.50 L316.25,468.50 L316.50,468.50 L316.75,468.50 L317.00,468.50 L317.25,468.50 L317.50,468.50 L317.75,468.50 L318.00,468.50 L318.25,468.50 L318.50,468.50 L318.75,468.50 L319.00,468.50 L319.25,468.50 L319.50,468.50 L319.75,468.50 L320.00,468.50 L320.25,468.50 L320.50,468.50 L320.75,468.50 L321.00,468.50 L321.00,468.50 Z" fill="#e0e0e3" stroke="#a8a8b4" stroke-width="0.6"/>
<rect x="287.5" y="431.8" width="36.6" height="36.2" fill="none" stroke="#3c3c3c" stroke-width="0.8"/>
<line x1="285.2" y1="467.9" x2="287" y2="467.9" stroke="#666" stroke-width="0.6" />
<text x="283.0" y="469.51" font-size="4.5" text-anchor="end" fill="#444" font-weight="normal" >0</text>
<line x1="285.2" y1="460.85999999999996" x2="287" y2="460.85999999999996" stroke="#666" stroke-width="0.6" />
<text x="283.0" y="462.47" font-size="4.5" text-anchor="end" fill="#444" font-weight="normal" >20</text>
<line x1="285.2" y1="453.82" x2="287" y2="453.82" stroke="#666" stroke-width="0.6" />
<text x="283.0" y="455.43" font-size="4.5" text-anchor="end" fill="#444" font-weight="normal" >40</text>
<line x1="285.2" y1="446.78" x2="287" y2="446.78" stroke="#666" stroke-width="0.6" />
<text x="283.0" y="448.39" font-size="4.5" text-anchor="end" fill="#444" font-weight="normal" >60</text>
<line x1="285.2" y1="439.73999999999995" x2="287" y2="439.73999999999995" stroke="#666" stroke-width="0.6" />
<text x="283.0" y="441.35" font-size="4.5" text-anchor="end" fill="#444" font-weight="normal" >80</text>
<line x1="285.2" y1="432.7" x2="287" y2="432.7" stroke="#666" stroke-width="0.6" />
<text x="283.0" y="434.31" font-size="4.5" text-anchor="end" fill="#444" font-weight="normal" >100</text>
<text y="475.5" font-size="4.5" fill="#444"><tspan x="287.3">-10</tspan><tspan font-size="3.0" dy="-1.7">3</tspan><tspan x="295.4" dy="1.7">0</tspan><tspan x="299.0">10</tspan><tspan font-size="3.0" dy="-1.7">3</tspan><tspan x="309.7" dy="1.7">10</tspan><tspan font-size="3.0" dy="-1.7">4</tspan><tspan x="317.1" dy="1.7">10</tspan><tspan font-size="3.0" dy="-1.7">5</tspan></text>
<rect x="294.8" y="467.1" width="1.8" height="1.6" fill="#111"/>
<line x1="291.5" y1="468.5" x2="291.5" y2="470.0" stroke="#444" stroke-width="0.5" />
<line x1="295.6" y1="468.5" x2="295.6" y2="470.0" stroke="#444" stroke-width="0.5" />
<line x1="301" y1="468.5" x2="301" y2="470.0" stroke="#444" stroke-width="0.5" />
<line x1="311" y1="468.5" x2="311" y2="470.0" stroke="#444" stroke-width="0.5" />
<line x1="319" y1="468.5" x2="319" y2="470.0" stroke="#444" stroke-width="0.5" />
<line x1="323.3" y1="450.1" x2="323.3" y2="452.1" stroke="#666" stroke-width="0.6" />
<line x1="301" y1="451.1" x2="323.3" y2="451.1" stroke="#666" stroke-width="0.8" />
<line x1="301" y1="450.1" x2="301" y2="452.1" stroke="#666" stroke-width="0.6" />
<text x="312" y="446.69" font-size="5" text-anchor="middle" fill="#222" font-weight="normal" textLength="9.5" lengthAdjust="spacingAndGlyphs" >12.5</text>
<path d="M347.00,468.50 L347.00,468.38 L347.25,468.14 L347.50,467.58 L347.75,466.39 L348.00,464.15 L348.25,460.49 L348.50,455.29 L348.75,449.01 L349.00,442.77 L349.25,438.11 L349.50,436.37 L349.75,438.11 L350.00,441.13 L350.25,443.51 L350.50,445.89 L350.75,448.27 L351.00,450.65 L351.25,452.14 L351.50,453.62 L351.75,455.11 L352.00,456.60 L352.25,458.09 L352.50,459.57 L352.75,460.11 L353.00,460.65 L353.25,461.18 L353.50,461.72 L353.75,462.25 L354.00,462.79 L354.25,463.32 L354.50,463.86 L354.75,464.39 L355.00,464.93 L355.25,465.04 L355.50,465.14 L355.75,465.25 L356.00,465.36 L356.25,465.47 L356.50,465.57 L356.75,465.68 L357.00,465.79 L357.25,465.89 L357.50,466.00 L357.75,466.11 L358.00,466.22 L358.25,466.32 L358.50,466.43 L358.75,466.54 L359.00,466.64 L359.25,466.75 L359.50,466.86 L359.75,466.96 L360.00,467.07 L360.25,467.09 L360.50,467.11 L360.75,467.13 L361.00,467.14 L361.25,467.16 L361.50,467.18 L361.75,467.20 L362.00,467.21 L362.25,467.23 L362.50,467.25 L362.75,467.27 L363.00,467.29 L363.25,467.30 L363.50,467.32 L363.75,467.34 L364.00,467.36 L364.25,467.38 L364.50,467.39 L364.75,467.41 L365.00,467.43 L365.25,467.52 L365.50,467.61 L365.75,467.70 L366.00,467.79 L366.25,467.88 L366.50,467.96 L366.75,468.05 L367.00,468.14 L367.25,468.23 L367.50,468.32 L367.75,468.41 L368.00,468.50 L368.25,468.50 L368.50,468.50 L368.75,468.50 L369.00,468.50 L369.25,468.50 L369.50,468.50 L369.75,468.50 L370.00,468.50 L370.25,468.50 L370.50,468.50 L370.75,468.50 L371.00,468.50 L371.25,468.50 L371.50,468.50 L371.75,468.50 L372.00,468.50 L372.25,468.50 L372.50,468.50 L372.75,468.50 L373.00,468.50 L373.25,468.50 L373.50,468.50 L373.75,468.50 L374.00,468.50 L374.00,468.50 Z" fill="#e0e0e3" stroke="#a8a8b4" stroke-width="0.6"/>
<rect x="340.5" y="431.8" width="36.6" height="36.2" fill="none" stroke="#3c3c3c" stroke-width="0.8"/>
<line x1="338.2" y1="467.9" x2="340" y2="467.9" stroke="#666" stroke-width="0.6" />
<text x="336.0" y="469.51" font-size="4.5" text-anchor="end" fill="#444" font-weight="normal" >0</text>
<line x1="338.2" y1="460.85999999999996" x2="340" y2="460.85999999999996" stroke="#666" stroke-width="0.6" />
<text x="336.0" y="462.47" font-size="4.5" text-anchor="end" fill="#444" font-weight="normal" >20</text>
<line x1="338.2" y1="453.82" x2="340" y2="453.82" stroke="#666" stroke-width="0.6" />
<text x="336.0" y="455.43" font-size="4.5" text-anchor="end" fill="#444" font-weight="normal" >40</text>
<line x1="338.2" y1="446.78" x2="340" y2="446.78" stroke="#666" stroke-width="0.6" />
<text x="336.0" y="448.39" font-size="4.5" text-anchor="end" fill="#444" font-weight="normal" >60</text>
<line x1="338.2" y1="439.73999999999995" x2="340" y2="439.73999999999995" stroke="#666" stroke-width="0.6" />
<text x="336.0" y="441.35" font-size="4.5" text-anchor="end" fill="#444" font-weight="normal" >80</text>
<line x1="338.2" y1="432.7" x2="340" y2="432.7" stroke="#666" stroke-width="0.6" />
<text x="336.0" y="434.31" font-size="4.5" text-anchor="end" fill="#444" font-weight="normal" >100</text>
<text y="475.5" font-size="4.5" fill="#444"><tspan x="340.3">-10</tspan><tspan font-size="3.0" dy="-1.7">3</tspan><tspan x="348.4" dy="1.7">0</tspan><tspan x="352.0">10</tspan><tspan font-size="3.0" dy="-1.7">3</tspan><tspan x="362.7" dy="1.7">10</tspan><tspan font-size="3.0" dy="-1.7">4</tspan><tspan x="370.1" dy="1.7">10</tspan><tspan font-size="3.0" dy="-1.7">5</tspan></text>
<rect x="347.8" y="467.1" width="1.8" height="1.6" fill="#111"/>
<line x1="344.5" y1="468.5" x2="344.5" y2="470.0" stroke="#444" stroke-width="0.5" />
<line x1="348.6" y1="468.5" x2="348.6" y2="470.0" stroke="#444" stroke-width="0.5" />
<line x1="354" y1="468.5" x2="354" y2="470.0" stroke="#444" stroke-width="0.5" />
<line x1="364" y1="468.5" x2="364" y2="470.0" stroke="#444" stroke-width="0.5" />
<line x1="372" y1="468.5" x2="372" y2="470.0" stroke="#444" stroke-width="0.5" />
<line x1="376.3" y1="450.1" x2="376.3" y2="452.1" stroke="#666" stroke-width="0.6" />
<line x1="354" y1="451.1" x2="376.3" y2="451.1" stroke="#666" stroke-width="0.8" />
<line x1="354" y1="450.1" x2="354" y2="452.1" stroke="#666" stroke-width="0.6" />
<text x="365" y="446.69" font-size="5" text-anchor="middle" fill="#222" font-weight="normal" textLength="9.5" lengthAdjust="spacingAndGlyphs" >13.8</text>
<path d="M400.00,468.50 L400.00,468.47 L400.25,468.40 L400.50,468.19 L400.75,467.69 L401.00,466.60 L401.25,464.49 L401.50,460.95 L401.75,455.77 L402.00,449.30 L402.25,442.58 L402.50,437.19 L402.75,434.66 L403.00,435.77 L403.25,439.94 L403.50,442.92 L403.75,445.89 L404.00,448.87 L404.25,450.65 L404.50,452.44 L404.75,454.22 L405.00,456.00 L405.25,457.79 L405.50,459.57 L405.75,460.11 L406.00,460.65 L406.25,461.18 L406.50,461.72 L406.75,462.25 L407.00,462.79 L407.25,463.32 L407.50,463.86 L407.75,464.39 L408.00,464.93 L408.25,465.02 L408.50,465.11 L408.75,465.20 L409.00,465.29 L409.25,465.38 L409.50,465.47 L409.75,465.55 L410.00,465.64 L410.25,465.73 L410.50,465.82 L410.75,465.91 L411.00,466.00 L411.25,466.09 L411.50,466.18 L411.75,466.27 L412.00,466.36 L412.25,466.38 L412.50,466.39 L412.75,466.41 L413.00,466.43 L413.25,466.45 L413.50,466.47 L413.75,466.48 L414.00,466.50 L414.25,466.52 L414.50,466.54 L414.75,466.55 L415.00,466.57 L415.25,466.59 L415.50,466.61 L415.75,466.63 L416.00,466.64 L416.25,466.66 L416.50,466.68 L416.75,466.70 L417.00,466.71 L417.25,466.78 L417.50,466.85 L417.75,466.92 L418.00,466.98 L418.25,467.05 L418.50,467.12 L418.75,467.18 L419.00,467.25 L419.25,467.32 L419.50,467.38 L419.75,467.45 L420.00,467.52 L420.25,467.59 L420.50,467.65 L420.75,467.72 L421.00,467.79 L421.25,467.88 L421.50,467.96 L421.75,468.05 L422.00,468.14 L422.25,468.23 L422.50,468.32 L422.75,468.41 L423.00,468.50 L423.25,468.50 L423.50,468.50 L423.75,468.50 L424.00,468.50 L424.25,468.50 L424.50,468.50 L424.75,468.50 L425.00,468.50 L425.25,468.50 L425.50,468.50 L425.75,468.50 L426.00,468.50 L426.25,468.50 L426.50,468.50 L426.75,468.50 L427.00,468.50 L427.00,468.50 Z" fill="#e0e0e3" stroke="#a8a8b4" stroke-width="0.6"/>
<rect x="393.5" y="431.8" width="36.6" height="36.2" fill="none" stroke="#3c3c3c" stroke-width="0.8"/>
<line x1="391.2" y1="467.9" x2="393" y2="467.9" stroke="#666" stroke-width="0.6" />
<text x="389.0" y="469.51" font-size="4.5" text-anchor="end" fill="#444" font-weight="normal" >0</text>
<line x1="391.2" y1="460.85999999999996" x2="393" y2="460.85999999999996" stroke="#666" stroke-width="0.6" />
<text x="389.0" y="462.47" font-size="4.5" text-anchor="end" fill="#444" font-weight="normal" >20</text>
<line x1="391.2" y1="453.82" x2="393" y2="453.82" stroke="#666" stroke-width="0.6" />
<text x="389.0" y="455.43" font-size="4.5" text-anchor="end" fill="#444" font-weight="normal" >40</text>
<line x1="391.2" y1="446.78" x2="393" y2="446.78" stroke="#666" stroke-width="0.6" />
<text x="389.0" y="448.39" font-size="4.5" text-anchor="end" fill="#444" font-weight="normal" >60</text>
<line x1="391.2" y1="439.73999999999995" x2="393" y2="439.73999999999995" stroke="#666" stroke-width="0.6" />
<text x="389.0" y="441.35" font-size="4.5" text-anchor="end" fill="#444" font-weight="normal" >80</text>
<line x1="391.2" y1="432.7" x2="393" y2="432.7" stroke="#666" stroke-width="0.6" />
<text x="389.0" y="434.31" font-size="4.5" text-anchor="end" fill="#444" font-weight="normal" >100</text>
<text y="475.5" font-size="4.5" fill="#444"><tspan x="393.3">-10</tspan><tspan font-size="3.0" dy="-1.7">3</tspan><tspan x="401.4" dy="1.7">0</tspan><tspan x="405.0">10</tspan><tspan font-size="3.0" dy="-1.7">3</tspan><tspan x="415.7" dy="1.7">10</tspan><tspan font-size="3.0" dy="-1.7">4</tspan><tspan x="423.1" dy="1.7">10</tspan><tspan font-size="3.0" dy="-1.7">5</tspan></text>
<rect x="400.8" y="467.1" width="1.8" height="1.6" fill="#111"/>
<line x1="397.5" y1="468.5" x2="397.5" y2="470.0" stroke="#444" stroke-width="0.5" />
<line x1="401.6" y1="468.5" x2="401.6" y2="470.0" stroke="#444" stroke-width="0.5" />
<line x1="407" y1="468.5" x2="407" y2="470.0" stroke="#444" stroke-width="0.5" />
<line x1="417" y1="468.5" x2="417" y2="470.0" stroke="#444" stroke-width="0.5" />
<line x1="425" y1="468.5" x2="425" y2="470.0" stroke="#444" stroke-width="0.5" />
<line x1="429.3" y1="450.1" x2="429.3" y2="452.1" stroke="#666" stroke-width="0.6" />
<line x1="407" y1="451.1" x2="429.3" y2="451.1" stroke="#666" stroke-width="0.8" />
<line x1="407" y1="450.1" x2="407" y2="452.1" stroke="#666" stroke-width="0.6" />
<text x="418" y="446.69" font-size="5" text-anchor="middle" fill="#222" font-weight="normal" textLength="9.5" lengthAdjust="spacingAndGlyphs" >20.3</text>
<path d="M453.00,468.50 L453.00,468.47 L453.25,468.40 L453.50,468.20 L453.75,467.72 L454.00,466.66 L454.25,464.62 L454.50,461.19 L454.75,456.17 L455.00,449.91 L455.25,443.40 L455.50,438.18 L455.75,435.73 L456.00,436.80 L456.25,439.15 L456.50,441.09 L456.75,443.04 L457.00,444.98 L457.25,446.92 L457.50,448.87 L457.75,450.95 L458.00,453.03 L458.25,455.11 L458.50,457.19 L458.75,459.28 L459.00,461.36 L459.25,462.70 L459.50,464.04 L459.75,465.38 L460.00,466.71 L460.25,466.71 L460.50,466.71 L460.75,466.71 L461.00,466.71 L461.25,466.71 L461.50,466.71 L461.75,466.71 L462.00,466.71 L462.25,466.71 L462.50,466.71 L462.75,466.71 L463.00,466.71 L463.25,466.42 L463.50,466.12 L463.75,465.82 L464.00,465.52 L464.25,465.23 L464.50,464.93 L464.75,464.63 L465.00,464.33 L465.25,464.04 L465.50,463.74 L465.75,463.44 L466.00,463.14 L466.25,462.81 L466.50,462.48 L466.75,462.14 L467.00,461.81 L467.25,461.47 L467.50,461.14 L467.75,460.80 L468.00,460.47 L468.25,460.13 L468.50,459.80 L468.75,459.46 L469.00,459.13 L469.25,458.79 L469.50,458.46 L469.75,458.12 L470.00,457.79 L470.25,458.09 L470.50,458.38 L470.75,458.68 L471.00,458.98 L471.25,459.28 L471.50,459.57 L471.75,460.69 L472.00,461.81 L472.25,462.92 L472.50,464.04 L472.75,465.15 L473.00,466.27 L473.25,467.38 L473.50,468.50 L473.75,468.50 L474.00,468.50 L474.25,468.50 L474.50,468.50 L474.75,468.50 L475.00,468.50 L475.25,468.50 L475.50,468.50 L475.75,468.50 L476.00,468.50 L476.25,468.50 L476.50,468.50 L476.75,468.50 L477.00,468.50 L477.25,468.50 L477.50,468.50 L477.75,468.50 L478.00,468.50 L478.25,468.50 L478.50,468.50 L478.75,468.50 L479.00,468.50 L479.25,468.50 L479.50,468.50 L479.75,468.50 L480.00,468.50 L480.00,468.50 Z" fill="#e0e0e3" stroke="#a8a8b4" stroke-width="0.6"/>
<rect x="446.5" y="431.8" width="36.6" height="36.2" fill="none" stroke="#3c3c3c" stroke-width="0.8"/>
<line x1="444.2" y1="467.9" x2="446" y2="467.9" stroke="#666" stroke-width="0.6" />
<text x="442.0" y="469.51" font-size="4.5" text-anchor="end" fill="#444" font-weight="normal" >0</text>
<line x1="444.2" y1="460.85999999999996" x2="446" y2="460.85999999999996" stroke="#666" stroke-width="0.6" />
<text x="442.0" y="462.47" font-size="4.5" text-anchor="end" fill="#444" font-weight="normal" >20</text>
<line x1="444.2" y1="453.82" x2="446" y2="453.82" stroke="#666" stroke-width="0.6" />
<text x="442.0" y="455.43" font-size="4.5" text-anchor="end" fill="#444" font-weight="normal" >40</text>
<line x1="444.2" y1="446.78" x2="446" y2="446.78" stroke="#666" stroke-width="0.6" />
<text x="442.0" y="448.39" font-size="4.5" text-anchor="end" fill="#444" font-weight="normal" >60</text>
<line x1="444.2" y1="439.73999999999995" x2="446" y2="439.73999999999995" stroke="#666" stroke-width="0.6" />
<text x="442.0" y="441.35" font-size="4.5" text-anchor="end" fill="#444" font-weight="normal" >80</text>
<line x1="444.2" y1="432.7" x2="446" y2="432.7" stroke="#666" stroke-width="0.6" />
<text x="442.0" y="434.31" font-size="4.5" text-anchor="end" fill="#444" font-weight="normal" >100</text>
<text y="475.5" font-size="4.5" fill="#444"><tspan x="446.3">-10</tspan><tspan font-size="3.0" dy="-1.7">3</tspan><tspan x="454.4" dy="1.7">0</tspan><tspan x="458.0">10</tspan><tspan font-size="3.0" dy="-1.7">3</tspan><tspan x="468.7" dy="1.7">10</tspan><tspan font-size="3.0" dy="-1.7">4</tspan><tspan x="476.1" dy="1.7">10</tspan><tspan font-size="3.0" dy="-1.7">5</tspan></text>
<rect x="453.8" y="467.1" width="1.8" height="1.6" fill="#111"/>
<line x1="450.5" y1="468.5" x2="450.5" y2="470.0" stroke="#444" stroke-width="0.5" />
<line x1="454.6" y1="468.5" x2="454.6" y2="470.0" stroke="#444" stroke-width="0.5" />
<line x1="460" y1="468.5" x2="460" y2="470.0" stroke="#444" stroke-width="0.5" />
<line x1="470" y1="468.5" x2="470" y2="470.0" stroke="#444" stroke-width="0.5" />
<line x1="478" y1="468.5" x2="478" y2="470.0" stroke="#444" stroke-width="0.5" />
<line x1="482.3" y1="450.1" x2="482.3" y2="452.1" stroke="#666" stroke-width="0.6" />
<line x1="460" y1="451.1" x2="482.3" y2="451.1" stroke="#666" stroke-width="0.8" />
<line x1="460" y1="450.1" x2="460" y2="452.1" stroke="#666" stroke-width="0.6" />
<text x="471" y="446.69" font-size="5" text-anchor="middle" fill="#222" font-weight="normal" textLength="9.5" lengthAdjust="spacingAndGlyphs" >43.6</text>
<text x="486.3" y="452.27" font-size="6.9" text-anchor="start" fill="#222" font-weight="normal" textLength="12.5" lengthAdjust="spacingAndGlyphs" >Pt#6</text>
<text x="287" y="485.07" font-size="6.9" text-anchor="start" fill="#222" font-weight="normal" textLength="23" lengthAdjust="spacingAndGlyphs" >Annexin V</text>
<line x1="316.2" y1="482" x2="455" y2="482" stroke="#222" stroke-width="0.8" />
<path d="M458,482 L453,480 L453,484 Z" fill="#222"/>
<line x1="47.5" y1="314.7" x2="47.5" y2="422" stroke="#1a1a1a" stroke-width="1.1" />
<line x1="47" y1="421.5" x2="107" y2="421.5" stroke="#1a1a1a" stroke-width="1.1" />
<line x1="44.3" y1="421.2" x2="47.3" y2="421.2" stroke="#1a1a1a" stroke-width="1" />
<text x="41.3" y="424.06" font-size="8" text-anchor="end" fill="#222" font-weight="normal" stroke="#222" stroke-width="0.14" >0</text>
<line x1="44.3" y1="395.15" x2="47.3" y2="395.15" stroke="#1a1a1a" stroke-width="1" />
<text x="41.3" y="398.01" font-size="8" text-anchor="end" fill="#222" font-weight="normal" stroke="#222" stroke-width="0.14" >1</text>
<line x1="44.3" y1="369.09999999999997" x2="47.3" y2="369.09999999999997" stroke="#1a1a1a" stroke-width="1" />
<text x="41.3" y="371.96" font-size="8" text-anchor="end" fill="#222" font-weight="normal" stroke="#222" stroke-width="0.14" >2</text>
<line x1="44.3" y1="343.04999999999995" x2="47.3" y2="343.04999999999995" stroke="#1a1a1a" stroke-width="1" />
<text x="41.3" y="345.91" font-size="8" text-anchor="end" fill="#222" font-weight="normal" stroke="#222" stroke-width="0.14" >3</text>
<line x1="44.3" y1="317.0" x2="47.3" y2="317.0" stroke="#1a1a1a" stroke-width="1" />
<text x="41.3" y="319.86" font-size="8" text-anchor="end" fill="#222" font-weight="normal" stroke="#222" stroke-width="0.14" >4</text>
<text x="0" y="0" font-size="8.2" text-anchor="middle" fill="#222" stroke="#222" stroke-width="0.14" textLength="74" lengthAdjust="spacingAndGlyphs" transform="translate(32,367.7) rotate(-90)">Relative apoptotic rate</text>
<line x1="56.3" y1="421.2" x2="56.3" y2="423.7" stroke="#1a1a1a" stroke-width="1" />
<line x1="69.8" y1="421.2" x2="69.8" y2="423.7" stroke="#1a1a1a" stroke-width="1" />
<line x1="84.1" y1="421.2" x2="84.1" y2="423.7" stroke="#1a1a1a" stroke-width="1" />
<line x1="97.8" y1="421.2" x2="97.8" y2="423.7" stroke="#1a1a1a" stroke-width="1" />
<text x="0" y="0" font-size="7.8" text-anchor="end" fill="#222" stroke="#222" stroke-width="0.14" textLength="24.5" lengthAdjust="spacingAndGlyphs" transform="translate(58.9,429.0) rotate(-45)">DMSO</text>
<text x="0" y="0" font-size="7.8" text-anchor="end" fill="#222" stroke="#222" stroke-width="0.14" textLength="18" lengthAdjust="spacingAndGlyphs" transform="translate(72.39999999999999,429.0) rotate(-45)">4-IPP</text>
<text x="0" y="0" font-size="7.8" text-anchor="end" fill="#222" stroke="#222" stroke-width="0.14" textLength="12" lengthAdjust="spacingAndGlyphs" transform="translate(86.69999999999999,429.0) rotate(-45)">Cfz</text>
<text x="0" y="0" font-size="7.8" text-anchor="end" fill="#222" stroke="#222" stroke-width="0.14" textLength="33.5" lengthAdjust="spacingAndGlyphs" transform="translate(100.39999999999999,429.0) rotate(-45)">4IPP+Cfz</text>
<ellipse cx="56.8" cy="395.2" rx="3.6" ry="1.9" fill="none" stroke="#4a1d5c" stroke-width="1"/>
<line x1="52.3" y1="395.2" x2="61.3" y2="395.2" stroke="#4a1d5c" stroke-width="1" />
<path d="M65.6,395.1 L69.0,395.1 L67.3,392.2 Z" fill="#6aab44"/>
<path d="M68.3,394.1 L71.7,394.1 L70,391.2 Z" fill="#6aab44"/>
<path d="M71.0,395.1 L74.4,395.1 L72.7,392.2 Z" fill="#6aab44"/>
<path d="M67.5,396.3 L70.9,396.3 L69.2,393.4 Z" fill="#6aab44"/>
<path d="M69.3,396.3 L72.7,396.3 L71.0,393.4 Z" fill="#6aab44"/>
<line x1="65.8" y1="393.5" x2="74.8" y2="393.5" stroke="#6aab44" stroke-width="1" />
<circle cx="80.9" cy="380.2" r="1.3" fill="#2c4d83"/>
<circle cx="85.6" cy="380.0" r="1.3" fill="#2c4d83"/>
<circle cx="79.7" cy="383.6" r="1.3" fill="#2c4d83"/>
<circle cx="88.0" cy="384.4" r="1.3" fill="#2c4d83"/>
<circle cx="81.8" cy="388.2" r="1.3" fill="#2c4d83"/>
<circle cx="84.6" cy="388.7" r="1.3" fill="#2c4d83"/>
<line x1="78.9" y1="383.3" x2="88.6" y2="383.3" stroke="#222" stroke-width="1.2" />
<line x1="83.8" y1="381" x2="83.8" y2="386" stroke="#222" stroke-width="0.8" />
<path d="M96.10000000000001,329.79999999999995 L99.3,329.79999999999995 L97.7,332.5 Z" fill="#a8052a"/>
<path d="M96.10000000000001,368.5 L99.3,368.5 L97.7,371.20000000000005 Z" fill="#a8052a"/>
<path d="M93.7,375.59999999999997 L96.89999999999999,375.59999999999997 L95.3,378.3 Z" fill="#a8052a"/>
<path d="M98.4,374.7 L101.6,374.7 L100.0,377.40000000000003 Z" fill="#a8052a"/>
<path d="M94.7,365.4 L97.89999999999999,365.4 L96.3,368.1 Z" fill="#a8052a"/>
<path d="M97.60000000000001,366.09999999999997 L100.8,366.09999999999997 L99.2,368.8 Z" fill="#a8052a"/>
<line x1="97.7" y1="357" x2="97.7" y2="371.1" stroke="#a8052a" stroke-width="1" />
<line x1="95.2" y1="357" x2="100.2" y2="357" stroke="#a8052a" stroke-width="1" />
<line x1="95.2" y1="371.1" x2="100.2" y2="371.1" stroke="#a8052a" stroke-width="1" />
<line x1="93" y1="364.2" x2="102.4" y2="364.2" stroke="#222" stroke-width="1.2" />
<line x1="52" y1="373.5" x2="86" y2="373.5" stroke="#333" stroke-width="1.25" />
<path d="M67.40,368.25 L67.40,370.95 M66.23,368.92 L68.57,370.27 M68.57,368.92 L66.23,370.27 " stroke="#222" stroke-width="1.1" fill="none"/>
<path d="M70.60,368.25 L70.60,370.95 M69.43,368.92 L71.77,370.27 M71.77,368.92 L69.43,370.27 " stroke="#222" stroke-width="1.1" fill="none"/>
<line x1="83.9" y1="323.5" x2="97.7" y2="323.5" stroke="#333" stroke-width="1.25" />
<path d="M90.80,318.25 L90.80,320.95 M89.63,318.92 L91.97,320.27 M91.97,318.92 L89.63,320.27 " stroke="#222" stroke-width="1.1" fill="none"/>
<line x1="47.5" y1="484" x2="47.5" y2="579" stroke="#1a1a1a" stroke-width="1.1" />
<line x1="47" y1="578.5" x2="189.3" y2="578.5" stroke="#1a1a1a" stroke-width="1.1" />
<line x1="44.3" y1="578.0" x2="47.3" y2="578.0" stroke="#1a1a1a" stroke-width="1" />
<text x="41" y="580.86" font-size="8" text-anchor="end" fill="#222" font-weight="normal" stroke="#222" stroke-width="0.14" >0</text>
<line x1="44.3" y1="557.1" x2="47.3" y2="557.1" stroke="#1a1a1a" stroke-width="1" />
<text x="41" y="559.96" font-size="8" text-anchor="end" fill="#222" font-weight="normal" stroke="#222" stroke-width="0.14" >200</text>
<line x1="44.3" y1="536.2" x2="47.3" y2="536.2" stroke="#1a1a1a" stroke-width="1" />
<text x="41" y="539.06" font-size="8" text-anchor="end" fill="#222" font-weight="normal" stroke="#222" stroke-width="0.14" >400</text>
<line x1="44.3" y1="515.3" x2="47.3" y2="515.3" stroke="#1a1a1a" stroke-width="1" />
<text x="41" y="518.16" font-size="8" text-anchor="end" fill="#222" font-weight="normal" stroke="#222" stroke-width="0.14" >600</text>
<line x1="44.3" y1="494.4" x2="47.3" y2="494.4" stroke="#1a1a1a" stroke-width="1" />
<text x="41" y="497.26" font-size="8" text-anchor="end" fill="#222" font-weight="normal" stroke="#222" stroke-width="0.14" >800</text>
<text x="0" y="0" font-size="8.2" text-anchor="middle" fill="#222" stroke="#222" stroke-width="0.14" textLength="54" lengthAdjust="spacingAndGlyphs" transform="translate(23.5,531.2) rotate(-90)">OCR (pmol/min)</text>
<line x1="53.4" y1="578" x2="53.4" y2="580.5" stroke="#1a1a1a" stroke-width="1" />
<text x="53.4" y="591.26" font-size="8" text-anchor="middle" fill="#222" font-weight="normal" stroke="#222" stroke-width="0.14" >1</text>
<line x1="65.3" y1="578" x2="65.3" y2="580.5" stroke="#1a1a1a" stroke-width="1" />
<text x="65.3" y="591.26" font-size="8" text-anchor="middle" fill="#222" font-weight="normal" stroke="#222" stroke-width="0.14" >10</text>
<line x1="76.3" y1="578" x2="76.3" y2="580.5" stroke="#1a1a1a" stroke-width="1" />
<text x="76.3" y="591.26" font-size="8" text-anchor="middle" fill="#222" font-weight="normal" stroke="#222" stroke-width="0.14" >19</text>
<line x1="88.2" y1="578" x2="88.2" y2="580.5" stroke="#1a1a1a" stroke-width="1" />
<text x="88.2" y="591.26" font-size="8" text-anchor="middle" fill="#222" font-weight="normal" stroke="#222" stroke-width="0.14" >28</text>
<line x1="99.5" y1="578" x2="99.5" y2="580.5" stroke="#1a1a1a" stroke-width="1" />
<text x="99.5" y="591.26" font-size="8" text-anchor="middle" fill="#222" font-weight="normal" stroke="#222" stroke-width="0.14" >36</text>
<line x1="111.8" y1="578" x2="111.8" y2="580.5" stroke="#1a1a1a" stroke-width="1" />
<text x="111.8" y="591.26" font-size="8" text-anchor="middle" fill="#222" font-weight="normal" stroke="#222" stroke-width="0.14" >45</text>
<line x1="123.8" y1="578" x2="123.8" y2="580.5" stroke="#1a1a1a" stroke-width="1" />
<text x="123.8" y="591.26" font-size="8" text-anchor="middle" fill="#222" font-weight="normal" stroke="#222" stroke-width="0.14" >54</text>
<line x1="136" y1="578" x2="136" y2="580.5" stroke="#1a1a1a" stroke-width="1" />
<text x="136" y="591.26" font-size="8" text-anchor="middle" fill="#222" font-weight="normal" stroke="#222" stroke-width="0.14" >62</text>
<line x1="148.1" y1="578" x2="148.1" y2="580.5" stroke="#1a1a1a" stroke-width="1" />
<text x="148.1" y="591.26" font-size="8" text-anchor="middle" fill="#222" font-weight="normal" stroke="#222" stroke-width="0.14" >71</text>
<line x1="159.6" y1="578" x2="159.6" y2="580.5" stroke="#1a1a1a" stroke-width="1" />
<text x="159.6" y="591.26" font-size="8" text-anchor="middle" fill="#222" font-weight="normal" stroke="#222" stroke-width="0.14" >80</text>
<line x1="171.4" y1="578" x2="171.4" y2="580.5" stroke="#1a1a1a" stroke-width="1" />
<text x="171.4" y="591.26" font-size="8" text-anchor="middle" fill="#222" font-weight="normal" stroke="#222" stroke-width="0.14" >89</text>
<line x1="183.6" y1="578" x2="183.6" y2="580.5" stroke="#1a1a1a" stroke-width="1" />
<text x="183.6" y="591.26" font-size="8" text-anchor="middle" fill="#222" font-weight="normal" stroke="#222" stroke-width="0.14" >97</text>
<text x="118.6" y="603.94" font-size="8.2" text-anchor="middle" fill="#222" font-weight="normal" textLength="36" lengthAdjust="spacingAndGlyphs" stroke="#222" stroke-width="0.14" >Time (min)</text>
<line x1="53.4" y1="563.2" x2="53.4" y2="573.2" stroke="#2c4d83" stroke-width="0.8" />
<line x1="51.9" y1="563.2" x2="54.9" y2="563.2" stroke="#2c4d83" stroke-width="0.8" />
<line x1="51.9" y1="573.2" x2="54.9" y2="573.2" stroke="#2c4d83" stroke-width="0.8" />
<line x1="65.3" y1="563.2" x2="65.3" y2="573.2" stroke="#2c4d83" stroke-width="0.8" />
<line x1="63.8" y1="563.2" x2="66.8" y2="563.2" stroke="#2c4d83" stroke-width="0.8" />
<line x1="63.8" y1="573.2" x2="66.8" y2="573.2" stroke="#2c4d83" stroke-width="0.8" />
<line x1="76.3" y1="563.2" x2="76.3" y2="573.2" stroke="#2c4d83" stroke-width="0.8" />
<line x1="74.8" y1="563.2" x2="77.8" y2="563.2" stroke="#2c4d83" stroke-width="0.8" />
<line x1="74.8" y1="573.2" x2="77.8" y2="573.2" stroke="#2c4d83" stroke-width="0.8" />
<line x1="123.8" y1="545.6" x2="123.8" y2="558.8000000000001" stroke="#2c4d83" stroke-width="0.8" />
<line x1="122.3" y1="545.6" x2="125.3" y2="545.6" stroke="#2c4d83" stroke-width="0.8" />
<line x1="122.3" y1="558.8000000000001" x2="125.3" y2="558.8000000000001" stroke="#2c4d83" stroke-width="0.8" />
<line x1="136" y1="547.9" x2="136" y2="561.1" stroke="#2c4d83" stroke-width="0.8" />
<line x1="134.5" y1="547.9" x2="137.5" y2="547.9" stroke="#2c4d83" stroke-width="0.8" />
<line x1="134.5" y1="561.1" x2="137.5" y2="561.1" stroke="#2c4d83" stroke-width="0.8" />
<line x1="148.1" y1="549.3" x2="148.1" y2="562.7" stroke="#2c4d83" stroke-width="0.8" />
<line x1="146.6" y1="549.3" x2="149.6" y2="549.3" stroke="#2c4d83" stroke-width="0.8" />
<line x1="146.6" y1="562.7" x2="149.6" y2="562.7" stroke="#2c4d83" stroke-width="0.8" />
<polyline points="53.4,568.2 65.3,568.2 76.3,568.2 88.2,577.4 99.5,577.4 111.8,577.4 123.8,552.2 136,554.5 148.1,556 159.6,574.4 171.4,576.1 183.6,576.1" fill="none" stroke="#2c4d83" stroke-width="1.3"/>
<line x1="53.4" y1="566.2" x2="53.4" y2="570.2" stroke="#a8052a" stroke-width="0.8" />
<line x1="51.9" y1="566.2" x2="54.9" y2="566.2" stroke="#a8052a" stroke-width="0.8" />
<line x1="51.9" y1="570.2" x2="54.9" y2="570.2" stroke="#a8052a" stroke-width="0.8" />
<line x1="65.3" y1="566.2" x2="65.3" y2="570.2" stroke="#a8052a" stroke-width="0.8" />
<line x1="63.8" y1="566.2" x2="66.8" y2="566.2" stroke="#a8052a" stroke-width="0.8" />
<line x1="63.8" y1="570.2" x2="66.8" y2="570.2" stroke="#a8052a" stroke-width="0.8" />
<line x1="76.3" y1="566.7" x2="76.3" y2="570.7" stroke="#a8052a" stroke-width="0.8" />
<line x1="74.8" y1="566.7" x2="77.8" y2="566.7" stroke="#a8052a" stroke-width="0.8" />
<line x1="74.8" y1="570.7" x2="77.8" y2="570.7" stroke="#a8052a" stroke-width="0.8" />
<polyline points="53.4,568.2 65.3,568.2 76.3,568.7 88.2,576.5 99.5,576.5 111.8,575.5 123.8,561.7 136,562.9 148.1,563.2 159.6,573.8 171.4,574.4 183.6,574.4" fill="none" stroke="#a8052a" stroke-width="1.3"/>
<line x1="53.4" y1="547.8" x2="53.4" y2="553.8" stroke="#6aab44" stroke-width="0.8" />
<line x1="51.9" y1="547.8" x2="54.9" y2="547.8" stroke="#6aab44" stroke-width="0.8" />
<line x1="51.9" y1="553.8" x2="54.9" y2="553.8" stroke="#6aab44" stroke-width="0.8" />
<line x1="65.3" y1="547.8" x2="65.3" y2="553.8" stroke="#6aab44" stroke-width="0.8" />
<line x1="63.8" y1="547.8" x2="66.8" y2="547.8" stroke="#6aab44" stroke-width="0.8" />
<line x1="63.8" y1="553.8" x2="66.8" y2="553.8" stroke="#6aab44" stroke-width="0.8" />
<line x1="76.3" y1="547.8" x2="76.3" y2="553.8" stroke="#6aab44" stroke-width="0.8" />
<line x1="74.8" y1="547.8" x2="77.8" y2="547.8" stroke="#6aab44" stroke-width="0.8" />
<line x1="74.8" y1="553.8" x2="77.8" y2="553.8" stroke="#6aab44" stroke-width="0.8" />
<line x1="123.8" y1="515.5" x2="123.8" y2="526.5" stroke="#6aab44" stroke-width="0.8" />
<line x1="122.3" y1="515.5" x2="125.3" y2="515.5" stroke="#6aab44" stroke-width="0.8" />
<line x1="122.3" y1="526.5" x2="125.3" y2="526.5" stroke="#6aab44" stroke-width="0.8" />
<line x1="136" y1="516" x2="136" y2="532" stroke="#6aab44" stroke-width="0.8" />
<line x1="134.5" y1="516" x2="137.5" y2="516" stroke="#6aab44" stroke-width="0.8" />
<line x1="134.5" y1="532" x2="137.5" y2="532" stroke="#6aab44" stroke-width="0.8" />
<line x1="148.1" y1="518.9" x2="148.1" y2="531.9" stroke="#6aab44" stroke-width="0.8" />
<line x1="146.6" y1="518.9" x2="149.6" y2="518.9" stroke="#6aab44" stroke-width="0.8" />
<line x1="146.6" y1="531.9" x2="149.6" y2="531.9" stroke="#6aab44" stroke-width="0.8" />
<polyline points="53.4,550.8 65.3,550.8 76.3,550.8 88.2,572.6 99.5,572.6 111.8,571.3 123.8,521 136,524 148.1,525.4 159.6,573 171.4,573 183.6,573" fill="none" stroke="#6aab44" stroke-width="1.3"/>
<line x1="53.4" y1="542.5" x2="53.4" y2="548.5" stroke="#4a1d5c" stroke-width="0.8" />
<line x1="51.9" y1="542.5" x2="54.9" y2="542.5" stroke="#4a1d5c" stroke-width="0.8" />
<line x1="51.9" y1="548.5" x2="54.9" y2="548.5" stroke="#4a1d5c" stroke-width="0.8" />
<line x1="65.3" y1="542.5" x2="65.3" y2="548.5" stroke="#4a1d5c" stroke-width="0.8" />
<line x1="63.8" y1="542.5" x2="66.8" y2="542.5" stroke="#4a1d5c" stroke-width="0.8" />
<line x1="63.8" y1="548.5" x2="66.8" y2="548.5" stroke="#4a1d5c" stroke-width="0.8" />
<line x1="76.3" y1="542.5" x2="76.3" y2="548.5" stroke="#4a1d5c" stroke-width="0.8" />
<line x1="74.8" y1="542.5" x2="77.8" y2="542.5" stroke="#4a1d5c" stroke-width="0.8" />
<line x1="74.8" y1="548.5" x2="77.8" y2="548.5" stroke="#4a1d5c" stroke-width="0.8" />
<line x1="123.8" y1="495" x2="123.8" y2="513" stroke="#4a1d5c" stroke-width="0.8" />
<line x1="122.3" y1="495" x2="125.3" y2="495" stroke="#4a1d5c" stroke-width="0.8" />
<line x1="122.3" y1="513" x2="125.3" y2="513" stroke="#4a1d5c" stroke-width="0.8" />
<line x1="136" y1="498.2" x2="136" y2="512.2" stroke="#4a1d5c" stroke-width="0.8" />
<line x1="134.5" y1="498.2" x2="137.5" y2="498.2" stroke="#4a1d5c" stroke-width="0.8" />
<line x1="134.5" y1="512.2" x2="137.5" y2="512.2" stroke="#4a1d5c" stroke-width="0.8" />
<line x1="148.1" y1="504.3" x2="148.1" y2="515.3" stroke="#4a1d5c" stroke-width="0.8" />
<line x1="146.6" y1="504.3" x2="149.6" y2="504.3" stroke="#4a1d5c" stroke-width="0.8" />
<line x1="146.6" y1="515.3" x2="149.6" y2="515.3" stroke="#4a1d5c" stroke-width="0.8" />
<polyline points="53.4,545.5 65.3,545.5 76.3,545.5 88.2,572.6 99.5,572.6 111.8,571.3 123.8,504 136,505.2 148.1,509.8 159.6,572.4 171.4,571 183.6,571.5" fill="none" stroke="#4a1d5c" stroke-width="1.3" stroke-dasharray="2.5,1.5"/>
<circle cx="53.4" cy="545.5" r="1.5" fill="#fff" stroke="#4a1d5c" stroke-width="0.9"/>
<circle cx="65.3" cy="545.5" r="1.5" fill="#fff" stroke="#4a1d5c" stroke-width="0.9"/>
<circle cx="76.3" cy="545.5" r="1.5" fill="#fff" stroke="#4a1d5c" stroke-width="0.9"/>
<circle cx="88.2" cy="572.6" r="1.5" fill="#fff" stroke="#4a1d5c" stroke-width="0.9"/>
<circle cx="99.5" cy="572.6" r="1.5" fill="#fff" stroke="#4a1d5c" stroke-width="0.9"/>
<circle cx="111.8" cy="571.3" r="1.5" fill="#fff" stroke="#4a1d5c" stroke-width="0.9"/>
<circle cx="123.8" cy="504" r="1.5" fill="#fff" stroke="#4a1d5c" stroke-width="0.9"/>
<circle cx="136" cy="505.2" r="1.5" fill="#fff" stroke="#4a1d5c" stroke-width="0.9"/>
<circle cx="148.1" cy="509.8" r="1.5" fill="#fff" stroke="#4a1d5c" stroke-width="0.9"/>
<circle cx="159.6" cy="572.4" r="1.5" fill="#fff" stroke="#4a1d5c" stroke-width="0.9"/>
<circle cx="171.4" cy="571" r="1.5" fill="#fff" stroke="#4a1d5c" stroke-width="0.9"/>
<circle cx="183.6" cy="571.5" r="1.5" fill="#fff" stroke="#4a1d5c" stroke-width="0.9"/>
<circle cx="53.4" cy="550.8" r="1.7" fill="#6aab44"/>
<circle cx="65.3" cy="550.8" r="1.7" fill="#6aab44"/>
<circle cx="76.3" cy="550.8" r="1.7" fill="#6aab44"/>
<circle cx="88.2" cy="572.6" r="1.7" fill="#6aab44"/>
<circle cx="99.5" cy="572.6" r="1.7" fill="#6aab44"/>
<circle cx="111.8" cy="571.3" r="1.7" fill="#6aab44"/>
<circle cx="123.8" cy="521" r="1.7" fill="#6aab44"/>
<circle cx="136" cy="524" r="1.7" fill="#6aab44"/>
<circle cx="148.1" cy="525.4" r="1.7" fill="#6aab44"/>
<circle cx="159.6" cy="573" r="1.7" fill="#6aab44"/>
<circle cx="171.4" cy="573" r="1.7" fill="#6aab44"/>
<circle cx="183.6" cy="573" r="1.7" fill="#6aab44"/>
<path d="M51.9,569.3000000000001 L54.9,569.3000000000001 L53.4,566.7 Z" fill="#2c4d83"/>
<path d="M63.8,569.3000000000001 L66.8,569.3000000000001 L65.3,566.7 Z" fill="#2c4d83"/>
<path d="M74.8,569.3000000000001 L77.8,569.3000000000001 L76.3,566.7 Z" fill="#2c4d83"/>
<path d="M86.7,578.5 L89.7,578.5 L88.2,575.9 Z" fill="#2c4d83"/>
<path d="M98.0,578.5 L101.0,578.5 L99.5,575.9 Z" fill="#2c4d83"/>
<path d="M110.3,578.5 L113.3,578.5 L111.8,575.9 Z" fill="#2c4d83"/>
<path d="M122.3,553.3000000000001 L125.3,553.3000000000001 L123.8,550.7 Z" fill="#2c4d83"/>
<path d="M134.5,555.6 L137.5,555.6 L136,553.0 Z" fill="#2c4d83"/>
<path d="M146.6,557.1 L149.6,557.1 L148.1,554.5 Z" fill="#2c4d83"/>
<path d="M158.1,575.5 L161.1,575.5 L159.6,572.9 Z" fill="#2c4d83"/>
<path d="M169.9,577.2 L172.9,577.2 L171.4,574.6 Z" fill="#2c4d83"/>
<path d="M182.1,577.2 L185.1,577.2 L183.6,574.6 Z" fill="#2c4d83"/>
<path d="M51.9,567.1 L54.9,567.1 L53.4,569.7 Z" fill="#a8052a"/>
<path d="M63.8,567.1 L66.8,567.1 L65.3,569.7 Z" fill="#a8052a"/>
<path d="M74.8,567.6 L77.8,567.6 L76.3,570.2 Z" fill="#a8052a"/>
<path d="M86.7,575.4 L89.7,575.4 L88.2,578.0 Z" fill="#a8052a"/>
<path d="M98.0,575.4 L101.0,575.4 L99.5,578.0 Z" fill="#a8052a"/>
<path d="M110.3,574.4 L113.3,574.4 L111.8,577.0 Z" fill="#a8052a"/>
<path d="M122.3,560.6 L125.3,560.6 L123.8,563.2 Z" fill="#a8052a"/>
<path d="M134.5,561.8 L137.5,561.8 L136,564.4 Z" fill="#a8052a"/>
<path d="M146.6,562.1 L149.6,562.1 L148.1,564.7 Z" fill="#a8052a"/>
<path d="M158.1,572.6999999999999 L161.1,572.6999999999999 L159.6,575.3 Z" fill="#a8052a"/>
<path d="M169.9,573.3 L172.9,573.3 L171.4,575.9 Z" fill="#a8052a"/>
<path d="M182.1,573.3 L185.1,573.3 L183.6,575.9 Z" fill="#a8052a"/>
<line x1="80.8" y1="484.5" x2="80.8" y2="534.1" stroke="#111" stroke-width="1" />
<path d="M78.6,532.6 L83.0,532.6 L80.8,537.1 Z" fill="#111"/>
<line x1="111.1" y1="484.5" x2="111.1" y2="542" stroke="#111" stroke-width="1" />
<path d="M108.89999999999999,540.5 L113.3,540.5 L111.1,545 Z" fill="#111"/>
<line x1="152.4" y1="484.5" x2="152.4" y2="507.4" stroke="#111" stroke-width="1" />
<path d="M150.20000000000002,505.9 L154.6,505.9 L152.4,510.4 Z" fill="#111"/>
<text x="57.4" y="480.24" font-size="8.2" text-anchor="start" fill="#222" font-weight="normal" textLength="40.5" lengthAdjust="spacingAndGlyphs" stroke="#222" stroke-width="0.14" >Oligomycin</text>
<text x="101.3" y="480.24" font-size="8.2" text-anchor="start" fill="#222" font-weight="normal" textLength="19.8" lengthAdjust="spacingAndGlyphs" stroke="#222" stroke-width="0.14" >FCCP</text>
<text x="133.1" y="480.24" font-size="8.2" text-anchor="start" fill="#222" font-weight="normal" textLength="88" lengthAdjust="spacingAndGlyphs" stroke="#222" stroke-width="0.14" >Antimycin A &amp; Rotenone</text>
<line x1="192.5" y1="514.8" x2="201.7" y2="514.8" stroke="#4a1d5c" stroke-width="1.1" stroke-dasharray="2,1.2"/>
<circle cx="197.1" cy="514.8" r="1.9" fill="#fff" stroke="#4a1d5c" stroke-width="1"/>
<text x="205.2" y="517.74" font-size="8.2" text-anchor="start" fill="#222" font-weight="normal" textLength="21.9" lengthAdjust="spacingAndGlyphs" stroke="#222" stroke-width="0.14" >DMSO</text>
<line x1="192.5" y1="525.8" x2="201.7" y2="525.8" stroke="#6aab44" stroke-width="1.1"/>
<circle cx="197.1" cy="525.8" r="1.9" fill="#6aab44"/>
<text x="205.2" y="528.74" font-size="8.2" text-anchor="start" fill="#222" font-weight="normal" textLength="16.7" lengthAdjust="spacingAndGlyphs" stroke="#222" stroke-width="0.14" >4-IPP</text>
<line x1="192.5" y1="536.4" x2="201.7" y2="536.4" stroke="#2c4d83" stroke-width="1.1"/>
<path d="M195.1,537.6999999999999 L199.1,537.6999999999999 L197.1,534.6 Z" fill="#2c4d83"/>
<text x="205.2" y="539.34" font-size="8.2" text-anchor="start" fill="#222" font-weight="normal" textLength="11" lengthAdjust="spacingAndGlyphs" stroke="#222" stroke-width="0.14" >Cfz</text>
<line x1="192.5" y1="547.7" x2="201.7" y2="547.7" stroke="#a8052a" stroke-width="1.1"/>
<path d="M195.1,546.4000000000001 L199.1,546.4000000000001 L197.1,549.5 Z" fill="#a8052a"/>
<text x="205.2" y="550.64" font-size="8.2" text-anchor="start" fill="#222" font-weight="normal" textLength="32.3" lengthAdjust="spacingAndGlyphs" stroke="#222" stroke-width="0.14" >4-IPP+Cfz</text>
<line x1="287.5" y1="511.5" x2="287.5" y2="617" stroke="#1a1a1a" stroke-width="1.1" />
<line x1="287" y1="616.5" x2="420.3" y2="616.5" stroke="#1a1a1a" stroke-width="1.1" />
<line x1="284.8" y1="616.0" x2="287.8" y2="616.0" stroke="#1a1a1a" stroke-width="1" />
<text x="282" y="618.86" font-size="8" text-anchor="end" fill="#222" font-weight="normal" stroke="#222" stroke-width="0.14" >0</text>
<line x1="284.8" y1="590.55" x2="287.8" y2="590.55" stroke="#1a1a1a" stroke-width="1" />
<text x="282" y="593.41" font-size="8" text-anchor="end" fill="#222" font-weight="normal" stroke="#222" stroke-width="0.14" >200</text>
<line x1="284.8" y1="565.1" x2="287.8" y2="565.1" stroke="#1a1a1a" stroke-width="1" />
<text x="282" y="567.96" font-size="8" text-anchor="end" fill="#222" font-weight="normal" stroke="#222" stroke-width="0.14" >400</text>
<line x1="284.8" y1="539.65" x2="287.8" y2="539.65" stroke="#1a1a1a" stroke-width="1" />
<text x="282" y="542.51" font-size="8" text-anchor="end" fill="#222" font-weight="normal" stroke="#222" stroke-width="0.14" >600</text>
<line x1="284.8" y1="514.2" x2="287.8" y2="514.2" stroke="#1a1a1a" stroke-width="1" />
<text x="282" y="517.06" font-size="8" text-anchor="end" fill="#222" font-weight="normal" stroke="#222" stroke-width="0.14" >800</text>
<text x="0" y="0" font-size="8.2" text-anchor="middle" fill="#222" stroke="#222" stroke-width="0.14" textLength="54" lengthAdjust="spacingAndGlyphs" transform="translate(263.8,564) rotate(-90)">OCR (pmol/min)</text>
<line x1="295.8" y1="579.7" x2="295.8" y2="584.8" stroke="#4a1d5c" stroke-width="1" />
<line x1="294.3" y1="580.2" x2="297.3" y2="580.2" stroke="#4a1d5c" stroke-width="1" />
<rect x="293.2" y="584.8" width="5.2" height="31.200000000000045" fill="#4a1d5c"/>
<line x1="305.2" y1="584.2" x2="305.2" y2="589.1" stroke="#6aab44" stroke-width="1" />
<line x1="303.7" y1="584.7" x2="306.7" y2="584.7" stroke="#6aab44" stroke-width="1" />
<rect x="302.59999999999997" y="589.1" width="5.2" height="26.899999999999977" fill="#6aab44"/>
<line x1="314.6" y1="601.7" x2="314.6" y2="607.1" stroke="#2c4d83" stroke-width="1" />
<line x1="313.1" y1="602.2" x2="316.1" y2="602.2" stroke="#2c4d83" stroke-width="1" />
<rect x="312.0" y="607.1" width="5.2" height="8.899999999999977" fill="#2c4d83"/>
<line x1="324.0" y1="607.7" x2="324.0" y2="609.8" stroke="#a8052a" stroke-width="1" />
<line x1="322.5" y1="608.2" x2="325.5" y2="608.2" stroke="#a8052a" stroke-width="1" />
<rect x="321.4" y="609.8" width="5.2" height="6.2000000000000455" fill="#a8052a"/>
<line x1="310.2" y1="616" x2="310.2" y2="618.5" stroke="#1a1a1a" stroke-width="1" />
<text x="310.2" y="629.44" font-size="8.2" text-anchor="middle" fill="#222" font-weight="normal" stroke="#222" stroke-width="0.14" >Basal</text>
<line x1="339.70000000000005" y1="525" x2="339.70000000000005" y2="533.9" stroke="#4a1d5c" stroke-width="1" />
<line x1="338.20000000000005" y1="525.5" x2="341.20000000000005" y2="525.5" stroke="#4a1d5c" stroke-width="1" />
<rect x="337.1" y="533.9" width="5.2" height="82.10000000000002" fill="#4a1d5c"/>
<line x1="349.1" y1="546.5" x2="349.1" y2="555.2" stroke="#6aab44" stroke-width="1" />
<line x1="347.6" y1="547.0" x2="350.6" y2="547.0" stroke="#6aab44" stroke-width="1" />
<rect x="346.5" y="555.2" width="5.2" height="60.799999999999955" fill="#6aab44"/>
<line x1="358.50000000000006" y1="585" x2="358.50000000000006" y2="591.8" stroke="#2c4d83" stroke-width="1" />
<line x1="357.00000000000006" y1="585.5" x2="360.00000000000006" y2="585.5" stroke="#2c4d83" stroke-width="1" />
<rect x="355.90000000000003" y="591.8" width="5.2" height="24.200000000000045" fill="#2c4d83"/>
<line x1="367.90000000000003" y1="599.9" x2="367.90000000000003" y2="601.7" stroke="#a8052a" stroke-width="1" />
<line x1="366.40000000000003" y1="600.4" x2="369.40000000000003" y2="600.4" stroke="#a8052a" stroke-width="1" />
<rect x="365.3" y="601.7" width="5.2" height="14.299999999999955" fill="#a8052a"/>
<line x1="354.1" y1="616" x2="354.1" y2="618.5" stroke="#1a1a1a" stroke-width="1" />
<text x="354.1" y="629.44" font-size="8.2" text-anchor="middle" fill="#222" font-weight="normal" stroke="#222" stroke-width="0.14" >Maximal</text>
<line x1="384.0" y1="557.3" x2="384.0" y2="566.2" stroke="#4a1d5c" stroke-width="1" />
<line x1="382.5" y1="557.8" x2="385.5" y2="557.8" stroke="#4a1d5c" stroke-width="1" />
<rect x="381.4" y="566.2" width="5.2" height="49.799999999999955" fill="#4a1d5c"/>
<line x1="393.4" y1="575.6" x2="393.4" y2="582.9" stroke="#6aab44" stroke-width="1" />
<line x1="391.9" y1="576.1" x2="394.9" y2="576.1" stroke="#6aab44" stroke-width="1" />
<rect x="390.79999999999995" y="582.9" width="5.2" height="33.10000000000002" fill="#6aab44"/>
<line x1="402.8" y1="596.4" x2="402.8" y2="600.9" stroke="#2c4d83" stroke-width="1" />
<line x1="401.3" y1="596.9" x2="404.3" y2="596.9" stroke="#2c4d83" stroke-width="1" />
<rect x="400.2" y="600.9" width="5.2" height="15.100000000000023" fill="#2c4d83"/>
<line x1="412.2" y1="607.1" x2="412.2" y2="609" stroke="#a8052a" stroke-width="1" />
<line x1="410.7" y1="607.6" x2="413.7" y2="607.6" stroke="#a8052a" stroke-width="1" />
<rect x="409.59999999999997" y="609" width="5.2" height="7" fill="#a8052a"/>
<line x1="397.5" y1="616" x2="397.5" y2="618.5" stroke="#1a1a1a" stroke-width="1" />
<text x="397.5" y="629.44" font-size="8.2" text-anchor="middle" fill="#222" font-weight="normal" stroke="#222" stroke-width="0.14" >Spare</text>
<line x1="294.8" y1="572.5" x2="305.6" y2="572.5" stroke="#333" stroke-width="1.25" />
<text x="300.20000000000005" y="570.3000000000001" font-size="7.5" text-anchor="middle" fill="#222" font-weight="normal" textLength="11" lengthAdjust="spacingAndGlyphs" stroke="#222" stroke-width="0.14" >n.s.</text>
<line x1="312.9" y1="598.5" x2="325.5" y2="598.5" stroke="#333" stroke-width="1.25" />
<text x="319.2" y="595.8000000000001" font-size="7.5" text-anchor="middle" fill="#222" font-weight="normal" textLength="11" lengthAdjust="spacingAndGlyphs" stroke="#222" stroke-width="0.14" >n.s.</text>
<line x1="290.8" y1="557.5" x2="315.6" y2="557.5" stroke="#333" stroke-width="1.25" />
<path d="M301.60,552.95 L301.60,555.65 M300.43,553.62 L302.77,554.97 M302.77,553.62 L300.43,554.97 " stroke="#222" stroke-width="1.1" fill="none"/>
<path d="M304.80,552.95 L304.80,555.65 M303.63,553.62 L305.97,554.97 M305.97,553.62 L303.63,554.97 " stroke="#222" stroke-width="1.1" fill="none"/>
<line x1="339.8" y1="519.5" x2="351.4" y2="519.5" stroke="#333" stroke-width="1.25" />
<path d="M345.60,514.65 L345.60,517.35 M344.43,515.33 L346.77,516.67 M346.77,515.33 L344.43,516.67 " stroke="#222" stroke-width="1.1" fill="none"/>
<line x1="337.9" y1="509.5" x2="362.2" y2="509.5" stroke="#333" stroke-width="1.25" />
<path d="M346.85,504.75 L346.85,507.45 M345.68,505.42 L348.02,506.77 M348.02,505.42 L345.68,506.77 " stroke="#222" stroke-width="1.1" fill="none"/>
<path d="M350.05,504.75 L350.05,507.45 M348.88,505.42 L351.22,506.77 M351.22,505.42 L348.88,506.77 " stroke="#222" stroke-width="1.1" fill="none"/>
<path d="M353.25,504.75 L353.25,507.45 M352.08,505.42 L354.42,506.77 M354.42,505.42 L352.08,506.77 " stroke="#222" stroke-width="1.1" fill="none"/>
<line x1="357.3" y1="579.5" x2="368.9" y2="579.5" stroke="#333" stroke-width="1.25" />
<path d="M363.10,574.75 L363.10,577.45 M361.93,575.43 L364.27,576.77 M364.27,575.43 L361.93,576.77 " stroke="#222" stroke-width="1.1" fill="none"/>
<line x1="382.7" y1="552.5" x2="393.7" y2="552.5" stroke="#333" stroke-width="1.25" />
<path d="M388.20,547.75 L388.20,550.45 M387.03,548.43 L389.37,549.77 M389.37,548.43 L387.03,549.77 " stroke="#222" stroke-width="1.1" fill="none"/>
<line x1="380.8" y1="540.5" x2="405" y2="540.5" stroke="#333" stroke-width="1.25" />
<path d="M391.30,535.65 L391.30,538.35 M390.13,536.33 L392.47,537.67 M392.47,536.33 L390.13,537.67 " stroke="#222" stroke-width="1.1" fill="none"/>
<path d="M394.50,535.65 L394.50,538.35 M393.33,536.33 L395.67,537.67 M395.67,536.33 L393.33,537.67 " stroke="#222" stroke-width="1.1" fill="none"/>
<line x1="401" y1="592.5" x2="412.3" y2="592.5" stroke="#333" stroke-width="1.25" />
<path d="M406.65,587.35 L406.65,590.05 M405.48,588.02 L407.82,589.37 M407.82,588.02 L405.48,589.37 " stroke="#222" stroke-width="1.1" fill="none"/>
<rect x="423.3" y="545.1" width="6" height="4" fill="#4a1d5c"/>
<text x="432.5" y="550.11" font-size="8.4" text-anchor="start" fill="#222" font-weight="normal" textLength="23" lengthAdjust="spacingAndGlyphs" stroke="#222" stroke-width="0.14" >DMSO</text>
<rect x="423.3" y="556.7" width="6" height="4" fill="#6aab44"/>
<text x="432.5" y="561.71" font-size="8.4" text-anchor="start" fill="#222" font-weight="normal" textLength="17.5" lengthAdjust="spacingAndGlyphs" stroke="#222" stroke-width="0.14" >4-IPP</text>
<rect x="423.3" y="567.4" width="6" height="4" fill="#2c4d83"/>
<text x="432.5" y="572.41" font-size="8.4" text-anchor="start" fill="#222" font-weight="normal" textLength="11" lengthAdjust="spacingAndGlyphs" stroke="#222" stroke-width="0.14" >Cfz</text>
<rect x="423.3" y="578.2" width="6" height="4" fill="#a8052a"/>
<text x="432.5" y="583.21" font-size="8.4" text-anchor="start" fill="#222" font-weight="normal" textLength="33" lengthAdjust="spacingAndGlyphs" stroke="#222" stroke-width="0.14" >4-IPP+Cfz</text>
</svg></body></html>
